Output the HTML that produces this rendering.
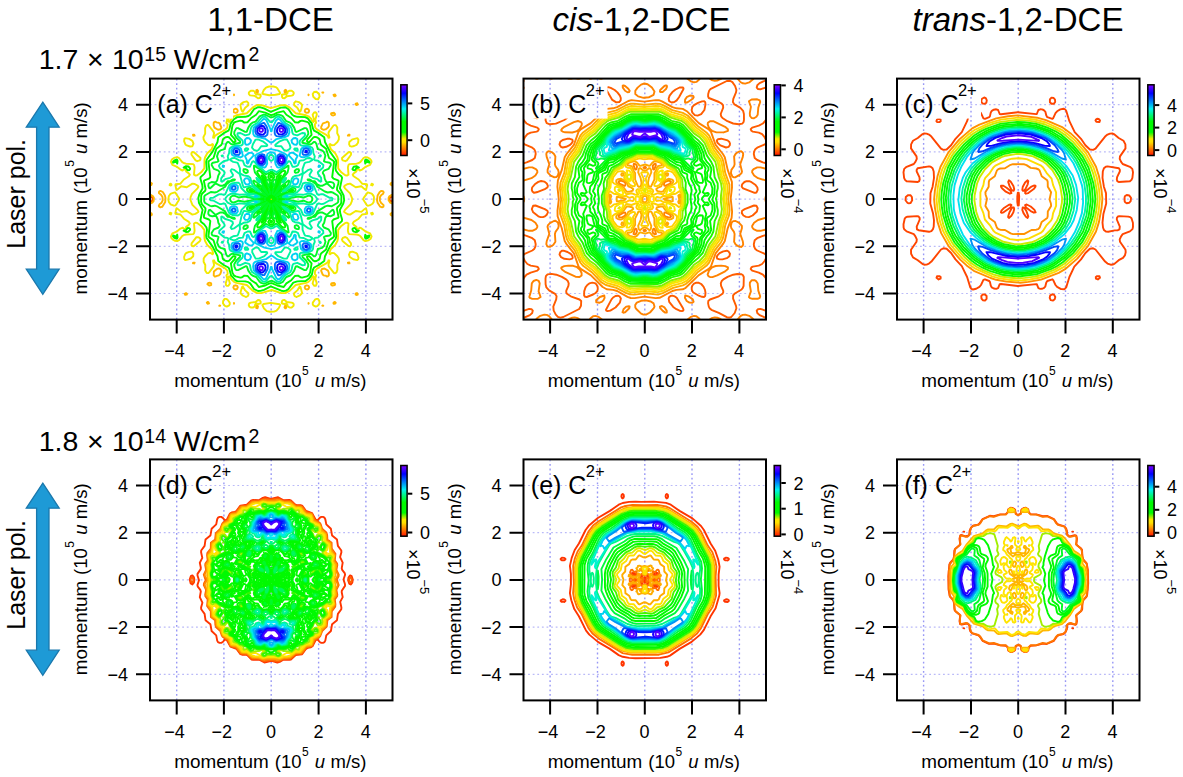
<!DOCTYPE html>
<html><head><meta charset="utf-8"><style>html,body{margin:0;padding:0;background:#fff;overflow:hidden}svg{display:block}</style></head>
<body><svg width="1183" height="777" viewBox="0 0 1183 777" font-family="'Liberation Sans', sans-serif">
<defs><linearGradient id="cbg" x1="0" y1="0" x2="0" y2="1"><stop offset="0.000" stop-color="#8000ff"/><stop offset="0.120" stop-color="#0000ff"/><stop offset="0.340" stop-color="#00f2f0"/><stop offset="0.520" stop-color="#00fa00"/><stop offset="0.670" stop-color="#00fa00"/><stop offset="0.765" stop-color="#ffe800"/><stop offset="0.810" stop-color="#ffe100"/><stop offset="0.890" stop-color="#ff8c00"/><stop offset="1.000" stop-color="#ff1400"/></linearGradient></defs>
<rect width="1183" height="777" fill="#fff"/>

<text x="270.5" y="31" text-anchor="middle" font-size="33">1,1-DCE</text>
<text x="641.5" y="30.5" text-anchor="middle" font-size="33"><tspan font-style="italic">cis</tspan>-1,2-DCE</text>
<text x="1018" y="30.5" text-anchor="middle" font-size="33"><tspan font-style="italic">trans</tspan>-1,2-DCE</text>
<text x="38.63" y="69.40" font-size="28.5">1.7</text><text x="86.92" y="69.40" font-size="28.5">×</text><text x="112.03" y="69.40" font-size="28.5">10</text><text x="144.31" y="61.20" font-size="19.5">15</text><text x="173.77" y="69.40" font-size="28.5">W/cm</text><text x="248.62" y="61.20" font-size="19.5">2</text><text x="38.63" y="450.70" font-size="28.5">1.8</text><text x="86.92" y="450.70" font-size="28.5">×</text><text x="112.03" y="450.70" font-size="28.5">10</text><text x="144.31" y="442.50" font-size="19.5">14</text><text x="173.77" y="450.70" font-size="28.5">W/cm</text><text x="248.62" y="442.50" font-size="19.5">2</text>
<path d="M42.8 102.1 L59.2 127.2 L49.0 127.2 L49.0 269.2 L59.2 269.2 L42.8 294.3 L26.3 269.2 L36.6 269.2 L36.6 127.2 L26.3 127.2Z" fill="#1e9ad6" stroke="#1a78ad" stroke-width="1.3" stroke-linejoin="miter"/><text transform="translate(25.1 248.75) rotate(-90)" font-size="25">Laser pol.</text><path d="M42.8 483.1 L59.2 508.2 L49.0 508.2 L49.0 650.2 L59.2 650.2 L42.8 675.3 L26.3 650.2 L36.6 650.2 L36.6 508.2 L26.3 508.2Z" fill="#1e9ad6" stroke="#1a78ad" stroke-width="1.3" stroke-linejoin="miter"/><text transform="translate(25.1 629.75) rotate(-90)" font-size="25">Laser pol.</text>
<path d="M176.7 78.6V319.6M223.9 78.6V319.6M271.2 78.6V319.6M318.6 78.6V319.6M365.9 78.6V319.6" stroke="#9898f5" stroke-width="1.4" stroke-dasharray="1.8 2.8" fill="none"/><path d="M150.0 293.5H392.5M150.0 246.3H392.5M150.0 199.1H392.5M150.0 151.9H392.5M150.0 104.7H392.5" stroke="#babaf8" stroke-width="1.2" stroke-dasharray="1.8 2.8" fill="none"/><clipPath id="clipa"><rect x="150.0" y="78.6" width="242.5" height="241.0"/></clipPath><g clip-path="url(#clipa)"><g fill="none" stroke-width="1.9" stroke-linejoin="round" stroke-linecap="round"><path d="M152.2 201.1 153.1 198.7 152.3 197.2 150.7 197.0 149.9 198.1 150.0 200.3 150.7 201.2 152.2 201.1M391.9 201.1 392.6 200.1 392.6 198.1 391.8 197.0 391.0 196.8 389.7 197.9 389.4 199.5 390.2 201.0 391.9 201.1" stroke="#ff5500"/><path d="M257.8 92.4 258.0 90.8 257.2 89.8 256.4 90.1 256.1 92.4 257.2 93.0 257.8 92.4M286.4 92.4 286.1 90.1 285.3 89.8 284.5 90.8 284.7 92.4 285.3 93.0 286.4 92.4M220.2 92.4 219.2 92.4 219.6 92.8 220.2 92.4M323.3 92.4 322.3 92.4 322.9 92.8 323.3 92.4M208.9 95.6 209.0 94.8 208.4 94.3 207.1 94.8 206.8 95.6 207.6 96.3 208.9 95.6M234.1 94.8 234.0 94.5 234.0 95.2 234.1 94.8M308.7 94.8 308.5 94.5 308.5 95.2 308.7 94.8M335.7 95.6 334.9 94.4 333.5 94.8 334.1 96.0 334.9 96.3 335.7 95.6M186.9 104.4 186.8 103.6 186.0 103.2 184.8 103.6 185.2 105.0 186.0 105.1 186.9 104.4M357.8 104.4 357.3 103.3 355.7 103.6 355.6 104.4 356.5 105.1 357.8 104.4M237.1 112.4 237.8 110.8 237.2 109.4 235.6 108.7 234.0 109.3 233.3 110.8 234.0 112.4 235.6 112.9 237.1 112.4M308.5 112.4 309.2 110.8 308.5 109.3 306.9 108.7 305.3 109.4 304.7 110.8 305.4 112.4 306.9 112.9 308.5 112.4M211.2 114.8 211.2 113.2 210.0 112.7 208.4 112.8 207.4 114.0 208.4 115.3 211.2 114.8M334.8 114.8 335.1 114.0 334.1 112.8 331.3 113.2 331.0 114.0 331.7 115.1 333.3 115.5 334.8 114.8M220.5 129.2 221.4 127.6 219.8 123.6 218.8 122.8 216.4 122.4 215.6 121.6 214.4 122.0 213.7 122.8 213.6 125.2 214.5 127.6 218.0 129.7 220.5 129.2M325.9 129.2 328.0 127.6 328.9 126.0 328.8 122.8 327.7 121.7 326.9 121.6 326.1 122.4 322.9 123.3 321.2 126.8 321.2 128.4 322.1 129.2 323.7 129.8 325.9 129.2M194.6 135.6 194.3 134.8 193.0 134.8 193.2 135.7 194.6 135.6M349.4 135.6 349.5 134.8 348.5 134.7 347.9 135.6 349.4 135.6M151.3 185.1 151.9 183.5 150.9 182.7 149.1 182.7 148.1 183.5 148.2 184.3 149.1 185.4 151.3 185.1M393.8 185.1 394.4 183.5 393.5 182.7 391.8 182.6 390.6 183.5 390.5 184.3 391.8 185.4 393.8 185.1M162.3 206.7 165.2 202.0 165.5 197.9 164.9 195.5 162.8 192.0 160.4 190.9 159.1 191.5 158.9 193.1 161.2 195.0 162.5 197.1 162.7 200.3 161.6 202.7 159.5 204.3 158.8 205.9 159.1 206.7 160.4 207.3 162.3 206.7M383.4 206.7 383.6 205.1 380.9 202.7 379.8 200.3 380.0 197.1 381.3 195.0 383.0 193.9 383.7 192.3 382.9 191.1 381.3 190.9 379.7 192.0 377.6 195.5 377.0 200.3 377.6 202.7 380.2 206.7 382.1 207.3 383.4 206.7M152.3 202.7 153.6 201.1 153.9 197.9 153.1 196.3 150.7 194.9 149.1 196.3 148.7 200.3 149.9 203.0 150.7 203.3 152.3 202.7M392.8 202.7 393.8 200.3 393.8 197.9 392.8 195.5 391.8 194.9 389.3 196.3 388.6 197.9 388.6 200.3 390.2 202.7 391.8 203.3 392.8 202.7M271.7 199.5 271.7 198.6 270.8 198.7 270.8 199.6 271.7 199.5M150.9 215.5 151.9 214.7 151.5 213.3 149.9 212.6 148.7 213.1 148.2 213.9 148.3 215.0 149.1 215.5 150.9 215.5M393.5 215.5 394.4 214.7 394.3 213.9 393.4 212.8 391.8 212.8 390.5 213.9 390.6 214.7 391.6 215.5 393.5 215.5M194.3 263.4 194.6 262.6 193.1 262.6 193.0 263.4 194.3 263.4M349.5 263.4 349.3 262.5 347.9 262.6 348.2 263.4 349.5 263.4M216.2 276.2 218.9 275.4 220.4 273.8 221.4 270.6 220.4 269.0 218.8 268.4 217.2 268.7 213.9 271.4 213.7 275.4 214.8 276.5 216.2 276.2M328.1 276.2 328.8 275.4 328.9 273.0 328.0 270.6 324.5 268.5 322.0 269.0 321.1 270.6 322.7 274.6 323.7 275.4 326.1 275.8 326.9 276.6 328.1 276.2M211.2 285.0 211.2 283.4 210.0 282.8 208.4 282.9 207.4 284.2 209.2 285.6 211.2 285.0M334.7 285.0 335.1 284.2 334.1 282.9 331.7 283.1 331.0 284.2 331.3 285.0 332.5 285.5 334.7 285.0M237.0 289.0 237.8 287.4 237.2 285.9 235.6 285.3 234.0 285.7 233.3 287.4 234.0 288.9 235.6 289.5 237.0 289.0M308.4 289.0 309.2 287.4 308.5 285.8 306.9 285.3 305.3 285.9 304.7 287.4 305.3 288.8 306.9 289.5 308.4 289.0M186.8 294.6 186.9 293.8 186.0 293.1 184.7 293.8 185.2 294.9 186.8 294.6M357.7 294.6 357.3 293.2 356.5 293.1 355.6 293.8 355.7 294.6 356.5 295.0 357.7 294.6M209.0 303.4 208.4 302.2 207.6 301.9 206.8 302.6 207.6 303.8 209.0 303.4M335.4 303.4 335.7 302.6 334.9 301.9 333.6 302.6 333.5 303.4 334.1 303.9 335.4 303.4M234.1 303.4 234.0 303.0 234.0 303.7 234.1 303.4M308.7 303.4 308.5 303.0 308.5 303.7 308.7 303.4M220.2 305.8 219.6 305.4 219.2 305.8 220.2 305.8M257.5 308.2 258.0 306.5 257.2 305.2 256.4 305.2 256.1 307.4 256.4 308.1 257.5 308.2M285.9 308.2 286.4 305.8 285.3 305.2 284.5 307.4 285.3 308.4 285.9 308.2M323.3 305.8 322.9 305.4 322.3 305.8 323.3 305.8" stroke="#ffb600"/><path d="M271.7 71.7 271.7 73.3 270.8 73.3 270.8 71.7M275.7 94.8 269.2 95.2 263.1 94.0 262.4 93.2 263.8 90.0 266.0 87.6 269.2 86.5 273.3 86.5 275.7 87.1 277.3 88.3 279.9 92.4 280.1 93.2 279.4 94.0 275.7 94.8M259.6 98.1 258.0 98.2 254.8 95.9 250.0 95.4 248.8 94.0 248.9 92.4 250.8 90.7 253.4 90.8 254.8 91.7 255.0 93.2 256.4 94.7 258.0 94.2 260.6 94.8 260.7 96.4 259.6 98.1M284.5 98.2 282.9 98.1 282.1 97.2 281.9 94.8 284.5 94.2 286.1 94.7 287.5 93.2 287.7 91.7 289.3 90.8 291.7 90.7 293.3 91.9 293.8 93.2 293.3 94.8 291.7 95.6 286.9 96.2 284.5 98.2M226.8 99.0 224.4 99.3 223.4 98.0 222.9 95.6 224.4 92.8 226.8 91.6 228.9 92.4 229.8 94.8 229.0 97.2 226.8 99.0M318.1 99.3 315.7 99.0 313.3 96.8 312.7 94.0 314.1 92.0 316.5 91.7 319.0 94.0 319.6 96.4 318.1 99.3M242.8 111.8 242.0 111.2 241.2 109.1 240.4 105.1 241.4 103.6 243.6 102.1 246.8 101.3 248.3 102.8 248.3 105.2 245.2 107.8 242.8 111.8M299.7 111.8 297.3 107.8 294.2 105.2 294.2 102.8 295.7 101.3 298.9 102.1 301.1 103.6 302.1 105.1 301.3 109.1 300.5 111.2 299.7 111.8M285.3 293.1 281.3 293.1 271.7 290.0 261.2 293.1 257.2 293.1 252.6 290.6 246.8 285.0 236.4 282.9 234.0 281.9 231.4 279.4 230.0 276.7 229.2 276.2 228.5 277.0 228.5 278.6 229.9 283.4 228.4 285.7 226.8 285.9 226.0 285.0 225.7 283.4 227.2 278.6 226.4 275.4 227.7 273.8 227.3 270.6 224.9 268.2 216.2 263.4 214.6 261.8 214.0 260.3 213.2 260.5 213.1 261.0 214.1 265.0 213.5 266.6 209.2 272.4 208.4 273.1 206.8 273.1 205.2 270.6 205.3 265.0 203.6 261.7 203.7 258.6 205.1 256.2 208.4 253.1 210.8 253.0 212.4 254.3 213.1 253.8 212.9 252.2 211.6 249.0 207.3 245.0 205.1 241.0 204.5 238.7 204.3 229.9 201.2 225.9 197.2 222.9 195.6 222.6 194.0 223.5 194.6 230.7 194.1 233.1 193.2 234.1 186.0 234.5 183.6 235.2 182.0 236.3 179.0 240.2 177.2 241.1 174.8 240.7 172.6 239.4 171.3 237.9 170.9 236.3 172.4 233.3 177.2 231.3 180.4 228.6 182.8 227.7 183.6 228.7 185.2 228.9 186.3 227.5 186.1 226.7 188.5 225.1 189.8 223.5 188.9 221.9 183.9 218.7 180.4 214.5 175.6 213.9 175.3 213.1 176.4 208.4 178.0 209.1 181.2 211.9 186.8 211.0 192.4 214.6 195.4 213.9 198.0 212.3 198.4 211.5 197.5 209.9 192.4 204.8 190.3 199.5 190.6 197.1 192.0 193.9 197.5 188.3 198.4 186.7 198.0 185.9 194.8 184.0 192.4 183.6 186.8 187.2 181.2 186.3 178.0 189.1 176.4 189.8 175.3 185.1 175.6 184.3 180.4 183.7 183.9 179.5 188.9 176.3 189.8 174.7 188.5 173.1 186.1 171.5 186.3 170.7 185.2 169.3 183.6 169.5 182.8 170.5 181.2 170.0 177.2 166.9 172.4 164.9 170.9 161.9 171.8 159.5 174.0 157.9 177.2 157.1 179.0 158.0 182.0 161.9 183.6 163.0 186.0 163.7 193.2 164.1 194.1 165.1 194.6 167.5 194.0 174.7 195.6 175.6 197.2 175.3 201.2 172.3 204.3 168.3 204.5 159.5 205.1 157.2 207.3 153.2 211.6 149.2 212.9 146.0 213.1 144.4 212.4 143.9 210.8 145.2 208.4 145.1 205.1 142.0 203.7 139.6 203.4 137.2 205.2 133.6 205.1 128.4 206.0 125.8 207.6 124.9 208.4 125.1 213.5 131.6 214.1 133.2 213.1 137.2 213.2 137.7 214.0 137.9 214.6 136.4 216.2 134.8 224.9 130.0 227.3 127.6 227.7 124.4 226.4 122.8 227.2 119.6 225.7 114.8 226.7 112.4 228.4 112.5 229.9 114.8 228.5 119.6 228.5 121.2 229.2 122.0 230.0 121.5 231.4 118.8 234.0 116.3 236.4 115.3 246.8 113.2 252.6 107.6 255.6 105.7 258.0 104.9 262.8 105.5 270.8 108.2 281.3 105.1 285.3 105.1 289.9 107.6 295.7 113.2 306.1 115.3 308.5 116.3 311.1 118.8 312.5 121.5 313.3 122.0 314.0 121.2 314.0 119.6 312.6 114.8 314.1 112.5 315.7 112.3 316.5 113.2 316.8 114.8 315.3 119.6 316.1 122.8 314.8 124.4 315.2 127.6 317.6 130.0 326.3 134.8 327.9 136.4 328.5 137.9 329.3 137.7 329.4 137.2 328.4 133.2 329.0 131.6 333.3 125.8 334.1 125.1 335.7 125.1 337.3 127.6 337.2 133.2 338.9 136.5 338.8 139.6 337.4 142.0 334.1 145.1 331.7 145.2 330.1 143.9 329.4 144.4 329.6 146.0 330.9 149.2 335.2 153.2 337.4 157.2 338.0 159.5 338.2 168.3 341.3 172.3 345.3 175.3 346.9 175.6 348.5 174.7 347.9 167.5 348.4 165.1 349.3 164.1 356.5 163.7 358.9 163.0 360.5 161.9 363.5 158.0 365.3 157.1 367.7 157.5 369.9 158.8 371.2 160.3 371.6 161.9 370.1 164.9 365.3 166.9 362.1 169.6 359.7 170.5 358.9 169.5 357.3 169.3 356.2 170.7 356.4 171.5 354.0 173.1 352.7 174.7 353.6 176.3 358.6 179.5 362.1 183.7 366.9 184.3 367.2 185.1 366.1 189.8 364.5 189.1 361.3 186.3 355.7 187.2 350.1 183.6 347.1 184.3 344.5 185.9 344.1 186.7 345.0 188.3 350.1 193.4 352.2 198.7 351.9 201.1 350.5 204.3 345.0 209.9 344.1 211.5 344.5 212.3 347.7 214.2 350.1 214.6 355.7 211.0 361.3 211.9 364.5 209.1 366.1 208.4 367.2 213.1 366.9 213.9 362.1 214.5 358.6 218.7 353.6 221.9 352.7 223.5 354.0 225.1 356.4 226.7 356.2 227.5 357.3 228.9 358.9 228.7 359.7 227.7 361.3 228.2 365.3 231.3 370.1 233.3 371.6 236.3 370.7 238.7 368.5 240.3 365.3 241.1 363.5 240.2 360.5 236.3 358.9 235.2 356.5 234.5 349.3 234.1 348.4 233.1 347.9 230.7 348.5 223.5 346.9 222.6 345.3 222.9 341.3 225.9 338.2 229.9 338.0 238.7 337.4 241.0 335.2 245.0 330.9 249.0 329.6 252.2 329.4 253.8 330.1 254.3 331.7 253.0 334.1 253.1 337.4 256.2 338.8 258.6 339.1 261.0 337.3 264.6 337.4 269.8 336.5 272.4 334.9 273.3 334.1 273.1 329.0 266.6 328.4 265.0 329.4 261.0 329.3 260.5 328.5 260.3 327.9 261.8 326.3 263.4 317.6 268.2 315.2 270.6 314.8 273.8 316.1 275.4 315.3 278.6 316.8 283.4 315.8 285.8 314.1 285.7 312.6 283.4 314.0 278.6 314.0 277.0 313.3 276.2 312.5 276.7 311.1 279.4 308.5 281.9 306.1 282.9 295.7 285.0 289.9 290.6 285.3 293.1M192.4 146.2 190.0 146.5 186.8 145.4 185.4 144.4 184.1 141.2 184.4 138.8 185.2 138.1 189.2 138.9 192.4 140.9 193.5 143.6 192.4 146.2M354.1 146.0 351.7 146.6 350.1 146.2 349.1 144.4 349.3 142.0 352.5 139.3 357.3 138.1 358.4 139.6 358.0 142.8 356.5 144.9 354.1 146.0M197.2 161.2 195.6 160.4 191.5 154.8 191.4 153.2 192.4 152.0 194.0 152.2 200.5 158.0 200.4 159.5 199.7 160.3 197.2 161.2M345.3 161.2 342.8 160.3 342.1 159.5 342.0 158.0 348.5 152.2 350.1 152.0 351.1 153.2 351.0 154.8 346.9 160.4 345.3 161.2M170.8 185.5 169.6 185.1 170.0 183.9 170.8 183.7 171.4 184.3 171.4 185.1 170.8 185.5M372.5 185.4 371.1 185.1 371.7 183.7 373.0 184.3 372.5 185.4M271.7 189.1 271.7 186.7 270.8 186.7 270.8 189.5 271.7 189.1M175.6 205.3 174.0 205.7 170.5 204.3 168.8 201.9 168.3 199.5 168.8 196.3 170.0 194.4 171.6 193.3 174.8 192.4 175.6 192.9 179.3 198.7 178.8 200.3 175.6 205.3M370.1 205.2 367.7 205.8 366.9 205.3 363.2 199.5 363.7 197.9 367.7 192.4 371.7 193.7 373.3 195.5 374.0 197.1 373.7 201.9 372.5 203.8 370.1 205.2M269.3 194.7 269.2 193.9 269.3 194.7M273.3 194.7 273.3 193.9 273.3 194.7M274.9 202.7 273.4 201.1 274.5 200.3 274.1 200.1 273.3 200.9 272.4 199.5 273.3 197.3 274.1 198.1 274.5 197.9 273.4 197.1 274.9 195.4 273.3 196.9 272.5 195.8 272.3 196.3 273.1 197.1 271.7 197.9 269.4 197.1 270.2 196.3 270.0 195.8 269.2 196.9 267.6 195.5 269.1 197.1 268.0 197.9 268.4 198.1 269.2 197.3 270.1 198.7 269.2 200.9 268.4 200.1 268.0 200.3 269.1 201.1 267.6 202.8 269.2 201.3 270.0 202.4 270.2 201.9 269.4 201.1 270.8 200.3 273.1 201.1 272.3 201.9 272.5 202.4 273.3 201.3 274.9 202.7M264.8 196.3 264.1 196.3 264.8 196.3M278.4 196.3 277.7 196.3 278.4 196.3M266.9 197.1 265.8 197.1 266.9 197.1M276.7 197.1 275.6 197.1 276.7 197.1M266.9 201.1 265.8 201.1 266.9 201.1M276.7 201.1 275.6 201.1 276.7 201.1M264.8 201.9 264.1 201.9 264.8 201.9M278.4 201.9 277.7 201.9 278.4 201.9M269.3 204.3 269.2 203.5 269.3 204.3M273.3 204.3 273.3 203.5 273.3 204.3M271.7 210.7 271.7 208.7 270.8 208.7 270.8 211.5 271.7 211.5 271.7 210.7M170.8 214.5 169.5 213.9 170.0 212.8 171.4 213.1 170.8 214.5M372.5 214.3 371.7 214.5 371.1 213.1 372.5 212.8 373.0 213.9 372.5 214.3M194.0 246.0 193.2 246.3 191.9 245.8 191.4 245.0 191.6 243.4 196.4 237.2 198.0 237.1 199.6 237.8 200.6 239.4 200.0 241.0 194.0 246.0M350.1 246.2 348.5 246.0 342.5 241.0 341.9 239.4 342.8 237.9 345.3 237.0 346.9 237.8 351.0 243.4 351.1 245.0 350.1 246.2M187.6 259.6 185.2 260.1 184.4 259.4 184.1 257.0 185.2 254.1 186.3 253.0 189.2 251.9 190.8 251.6 192.4 252.0 193.4 253.8 193.2 256.2 190.8 258.5 187.6 259.6M357.3 260.1 353.3 259.3 349.8 257.0 349.0 254.6 350.1 252.0 352.5 251.7 355.7 252.8 357.1 253.8 358.5 257.8 358.1 259.4 357.3 260.1M246.0 297.0 242.5 295.4 240.4 293.0 242.0 287.0 242.8 286.4 245.2 290.4 248.4 293.3 248.5 294.6 247.8 296.2 246.0 297.0M296.5 297.0 294.7 296.2 294.0 294.6 294.1 293.3 297.3 290.4 299.7 286.4 300.5 287.0 302.1 293.0 300.0 295.4 296.5 297.0M226.8 306.6 224.8 305.8 223.0 303.4 223.1 301.0 224.4 298.9 226.0 298.9 227.6 299.7 229.7 302.6 229.8 304.2 229.2 305.4 226.8 306.6M315.7 306.6 313.3 305.4 312.7 304.2 312.8 302.6 314.9 299.7 316.5 298.9 318.1 298.9 319.4 301.0 319.5 303.4 317.7 305.8 315.7 306.6M253.2 307.4 250.8 307.5 249.4 306.6 248.7 305.0 249.2 303.4 250.8 302.6 255.6 302.0 258.0 300.0 259.7 300.2 260.7 301.8 260.6 303.4 258.0 304.0 256.4 303.5 255.0 305.0 254.8 306.5 253.2 307.4M291.7 307.5 290.1 307.6 287.8 306.6 287.5 305.0 286.1 303.5 284.5 304.0 282.1 303.5 281.7 302.6 282.1 301.0 282.9 300.1 284.5 300.0 286.9 302.0 291.7 302.6 293.3 303.4 293.7 304.2 293.6 305.8 291.7 307.5M274.1 311.6 270.0 311.8 266.8 311.1 263.8 308.2 262.4 305.0 263.6 304.0 270.8 302.9 279.4 304.2 280.1 305.0 279.9 305.8 278.7 308.2 276.5 310.6 274.1 311.6M270.8 326.5 270.8 324.9 271.7 324.9 271.7 326.5" stroke="#f2e900"/><path d="M286.1 290.6 283.7 291.1 281.3 290.7 270.8 286.3 264.0 289.8 260.4 290.9 258.0 291.0 254.0 289.0 250.2 283.4 248.4 282.2 245.2 281.4 237.2 281.1 235.3 280.2 231.1 275.4 229.3 269.0 228.4 267.5 223.7 265.0 218.3 261.0 217.5 256.2 212.6 246.6 206.5 237.9 206.2 235.5 207.0 229.9 206.5 227.5 204.1 224.3 201.2 222.0 200.4 220.3 202.6 209.9 198.9 202.7 198.3 197.9 199.2 194.7 202.6 188.3 202.3 185.1 200.4 178.7 200.6 177.1 204.4 173.6 206.8 169.8 206.2 161.9 206.8 159.5 212.6 151.6 217.5 142.0 218.3 137.2 223.7 133.2 228.4 130.7 229.6 128.4 230.6 123.6 234.0 119.2 237.2 117.1 245.2 116.8 248.4 116.0 250.2 114.8 254.0 109.2 258.0 107.2 260.4 107.3 264.0 108.4 270.8 111.9 280.8 107.6 285.3 107.3 288.5 109.2 292.3 114.8 294.1 116.0 297.3 116.8 305.3 117.1 307.7 118.4 311.7 123.3 312.9 128.4 314.1 130.7 318.8 133.2 324.2 137.2 325.0 142.0 329.9 151.6 336.0 160.3 336.3 162.7 335.5 168.3 336.0 170.7 338.4 173.9 341.3 176.2 342.1 177.9 339.9 188.3 343.6 195.5 344.2 200.3 343.3 203.5 339.9 209.9 340.2 213.1 342.1 219.5 341.9 221.1 338.1 224.6 335.7 228.4 336.3 236.3 335.7 238.7 329.9 246.6 325.0 256.2 324.2 261.0 318.8 265.0 314.1 267.5 312.9 269.8 311.9 274.6 309.3 278.2 305.6 281.0 297.3 281.4 293.3 282.6 288.5 289.0 286.1 290.6M177.2 163.6 176.4 161.5 173.2 162.7 173.0 161.9 174.4 160.3 176.4 159.6 177.2 159.9 177.6 161.1 177.2 163.6M365.3 163.6 364.9 161.1 365.3 159.9 366.1 159.6 368.1 160.3 369.5 161.9 369.3 162.7 366.1 161.5 365.3 163.6M189.2 170.1 187.6 170.2 186.0 168.0 183.6 167.5 186.0 166.2 188.4 166.5 190.1 168.3 190.1 169.1 189.2 170.1M354.9 170.2 353.3 170.1 352.4 169.1 353.7 166.7 356.5 166.2 358.9 167.5 356.5 168.0 354.9 170.2M281.0 222.7 277.3 211.5 272.8 202.7 272.8 201.9 273.3 201.5 281.3 209.6 281.6 209.1 280.4 207.5 273.6 201.1 274.9 200.6 280.5 203.5 282.5 203.5 279.7 201.9 275.7 200.7 274.9 199.9 274.1 199.8 273.3 200.6 272.7 198.7 273.3 197.6 274.1 198.4 274.9 198.3 275.7 197.5 279.7 196.3 282.5 194.7 280.5 194.7 274.9 197.6 273.6 197.1 280.4 190.7 281.6 189.1 281.3 188.6 273.3 196.7 272.8 196.3 272.8 195.5 277.3 186.7 281.0 175.5 279.7 175.9 278.2 177.9 277.7 182.7 275.7 186.2 272.9 194.7 272.1 195.5 272.0 196.3 272.8 197.1 270.8 197.6 269.7 197.1 270.5 196.3 270.4 195.5 269.6 194.7 266.8 186.2 264.8 182.7 264.3 177.9 262.8 175.9 261.5 175.5 265.2 186.7 269.7 195.5 269.7 196.3 269.2 196.7 261.2 188.6 260.9 189.1 262.1 190.7 268.9 197.1 267.6 197.6 262.0 194.7 260.0 194.7 262.8 196.3 266.8 197.5 267.6 198.3 268.4 198.4 269.2 197.6 269.8 198.7 269.2 200.6 268.4 199.8 267.6 199.9 266.8 200.7 262.8 201.9 260.0 203.5 262.0 203.5 267.6 200.6 268.9 201.1 262.1 207.5 260.9 209.1 261.2 209.6 269.2 201.5 269.7 201.9 269.7 202.7 265.2 211.5 261.5 222.7 262.8 222.3 264.3 220.3 264.8 215.5 266.8 212.0 269.6 203.5 270.4 202.7 270.5 201.9 269.7 201.1 270.8 200.6 272.8 201.1 272.0 201.9 272.1 202.7 272.9 203.5 275.7 212.0 277.7 215.5 278.2 220.3 279.7 222.3 281.0 222.7M272.1 177.1 271.8 175.5 270.7 175.5 270.2 176.3 270.8 177.7 272.1 177.1M271.7 193.9 272.2 186.7 271.7 184.7 270.8 184.7 270.2 187.5 270.8 194.2 271.7 193.9M266.8 199.5 266.8 198.7 266.0 198.6 259.9 198.7 259.9 199.5 261.2 199.8 266.8 199.5M282.6 199.5 282.6 198.7 281.3 198.4 275.7 198.7 275.7 199.5 276.5 199.6 282.6 199.5M271.8 213.1 272.3 210.7 271.7 204.3 270.8 204.0 270.3 211.5 270.8 213.5 271.8 213.1M271.8 222.7 272.1 221.1 270.8 220.5 270.2 221.9 270.8 222.8 271.8 222.7M188.4 231.7 186.0 232.0 183.6 230.7 186.0 230.2 187.6 228.0 189.2 228.1 190.1 229.1 190.1 229.9 188.4 231.7M357.3 231.8 355.7 232.1 354.1 231.7 352.9 230.7 352.4 229.1 353.3 228.1 354.9 228.0 356.5 230.2 358.9 230.6 357.3 231.8M177.2 238.3 176.4 238.6 174.4 237.9 173.0 236.3 173.2 235.5 176.4 236.7 177.2 234.6 177.6 237.1 177.2 238.3M367.7 238.1 366.1 238.6 365.3 238.3 364.9 237.1 365.3 234.6 366.1 236.7 369.3 235.5 369.0 237.1 367.7 238.1" stroke="#00fa00"/><path d="M283.7 287.0 277.3 285.5 271.7 283.1 269.6 283.4 265.2 285.5 258.8 287.0 256.1 283.4 251.2 280.2 247.6 276.0 244.4 275.6 242.0 277.3 240.4 277.6 235.6 276.4 233.9 275.4 232.4 272.6 230.9 263.4 234.8 259.0 235.6 257.0 234.8 256.2 233.2 256.1 229.2 260.7 227.6 261.3 226.0 261.0 223.6 259.7 222.8 258.6 222.0 254.6 221.2 253.2 216.4 249.4 213.5 240.2 209.2 237.4 208.4 236.3 210.3 221.1 209.0 219.5 204.4 217.9 203.9 217.1 204.1 214.7 205.4 210.7 205.5 208.3 202.0 204.4 201.1 201.9 201.2 195.5 202.0 193.8 205.2 190.7 205.6 189.1 203.9 181.1 204.4 180.3 209.0 178.7 210.3 177.1 208.4 161.9 209.2 160.8 213.5 158.0 216.4 148.8 221.2 145.0 222.0 143.6 222.8 139.6 223.6 138.5 226.0 137.2 227.6 136.9 229.2 137.5 233.2 142.1 234.8 142.0 235.6 141.2 234.8 139.2 230.9 134.8 232.4 125.6 234.0 122.7 235.6 121.8 240.4 120.6 242.0 120.9 244.4 122.6 247.6 122.2 251.2 118.0 256.1 114.8 258.8 111.2 265.2 112.7 270.8 115.1 272.9 114.8 277.3 112.7 283.7 111.2 286.4 114.8 291.3 118.0 294.9 122.2 298.1 122.6 300.5 120.9 302.1 120.6 306.9 121.8 308.6 122.8 310.1 125.6 311.6 134.8 307.7 139.2 306.9 141.2 307.7 142.0 309.3 142.1 313.3 137.5 314.9 136.9 316.5 137.2 318.9 138.5 319.7 139.6 320.5 143.6 321.3 145.0 326.1 148.8 329.0 158.0 333.3 160.8 334.1 161.9 332.2 177.1 333.5 178.7 338.1 180.3 338.6 181.1 338.4 183.5 337.1 187.5 337.0 189.9 340.5 193.8 341.4 196.3 341.3 202.7 340.5 204.4 337.3 207.5 336.9 209.1 338.6 217.1 338.1 217.9 333.5 219.5 332.2 221.1 334.1 236.3 333.3 237.4 329.0 240.2 326.1 249.4 321.3 253.2 320.5 254.6 319.7 258.6 318.9 259.7 316.5 261.0 314.9 261.3 313.3 260.7 309.3 256.1 307.7 256.2 306.9 257.0 307.7 259.0 311.6 263.4 310.1 272.6 308.5 275.5 306.9 276.4 302.1 277.6 300.5 277.3 298.1 275.6 294.9 276.0 291.3 280.2 286.4 283.4 283.7 287.0M284.7 227.5 285.3 226.7 285.0 225.1 281.3 219.2 278.4 212.3 274.1 204.3 274.9 203.6 281.3 211.0 285.3 213.5 285.3 212.3 282.8 209.1 275.8 202.7 276.5 202.1 283.7 205.2 286.1 205.5 286.4 205.1 280.5 201.7 275.6 200.3 282.9 200.0 284.4 199.5 284.4 198.7 282.1 198.1 275.6 197.9 280.5 196.5 286.4 193.1 286.1 192.7 283.7 193.0 276.5 196.1 275.8 195.5 282.8 189.1 285.3 185.9 285.3 184.7 281.3 187.2 274.9 194.6 274.1 193.9 278.4 185.9 281.3 179.0 285.0 173.1 285.3 171.5 284.5 170.6 282.1 171.3 276.6 177.1 276.6 181.9 272.5 194.8 272.0 193.1 272.8 185.9 271.7 182.6 270.8 182.6 269.7 186.7 270.5 193.1 270.0 194.8 265.9 181.9 265.9 177.1 260.7 171.5 258.8 170.6 257.8 170.7 257.2 171.5 257.5 173.1 261.2 179.0 264.1 185.9 268.4 193.9 267.6 194.6 261.2 187.2 257.2 184.7 257.2 185.9 259.7 189.1 266.7 195.5 266.0 196.1 258.8 193.0 256.4 192.7 256.1 193.1 262.0 196.5 266.9 197.9 260.4 198.1 258.1 198.7 258.1 199.5 259.6 200.0 266.9 200.3 262.0 201.7 256.1 205.1 256.4 205.5 258.8 205.2 266.0 202.1 266.7 202.7 259.7 209.1 257.2 212.3 257.2 213.5 261.2 211.0 267.6 203.6 268.4 204.3 264.1 212.3 261.2 219.2 257.5 225.1 257.2 226.7 258.0 227.6 260.4 226.9 265.9 221.1 265.9 216.3 270.0 203.4 270.5 205.1 269.7 212.3 270.8 215.6 271.7 215.6 272.8 211.5 272.0 205.1 272.5 203.4 276.6 216.3 276.6 221.1 281.8 226.7 283.7 227.6 284.7 227.5M271.8 180.3 273.8 177.9 274.4 176.3 272.8 173.9 270.8 173.3 268.9 174.7 268.2 177.1 270.8 180.8 271.8 180.3M253.9 191.5 250.8 189.4 249.2 189.9 249.4 190.7 250.6 191.5 253.2 191.9 253.9 191.5M291.9 191.5 293.3 190.2 292.5 189.3 290.9 189.8 288.6 191.5 289.3 191.9 291.9 191.5M255.0 192.3 255.0 192.3M287.7 192.3 287.7 192.3M268.4 195.6 267.8 194.7 268.4 194.0 268.9 195.5 268.4 195.6M274.1 195.6 273.6 195.5 274.1 194.0 274.7 194.7 274.1 195.6M267.6 196.7 266.2 196.3 266.8 195.7 267.6 196.7M269.2 196.5 269.2 195.6 269.2 196.5M272.5 197.2 270.0 197.1 270.8 196.0 271.7 196.0 272.5 197.2M273.3 196.5 273.3 195.6 273.3 196.5M275.7 196.6 274.8 196.3 275.7 195.7 276.3 196.3 275.7 196.6M268.4 197.3 267.8 197.1 268.4 196.9 268.4 197.3M274.1 197.3 274.1 196.9 274.7 197.1 274.1 197.3M269.2 200.4 268.2 199.5 268.2 198.7 269.2 197.8 269.2 200.4M273.3 200.4 273.3 197.8 274.3 198.7 274.3 199.5 273.3 200.4M268.4 201.3 267.8 201.1 268.4 200.9 268.4 201.3M271.7 202.2 270.8 202.2 270.0 201.1 272.5 201.0 271.7 202.2M274.1 201.3 274.1 200.9 274.7 201.1 274.1 201.3M267.6 202.0 266.8 202.5 266.2 201.9 267.6 201.5 267.6 202.0M269.2 202.6 269.2 201.7 269.2 202.6M273.3 202.6 273.3 201.7 273.3 202.6M275.7 202.5 274.9 201.5 276.3 201.9 275.7 202.5M268.4 204.2 267.8 203.5 268.9 202.7 268.4 204.2M274.1 204.2 273.6 202.7 274.7 203.5 274.1 204.2M255.0 205.9 255.0 205.9M287.7 205.9 287.7 205.9M251.8 208.3 253.9 206.7 253.2 206.3 250.6 206.7 249.4 207.5 249.2 208.3 250.0 208.9 251.8 208.3M293.3 208.3 293.1 207.5 291.9 206.7 289.3 206.3 288.6 206.7 291.7 208.8 293.3 208.3M272.8 224.3 274.1 222.7 274.3 221.1 271.7 217.4 270.8 217.4 268.1 221.9 270.0 224.6 271.7 224.9 272.8 224.3" stroke="#00fa00"/><path d="M279.7 283.5 277.3 283.5 271.7 280.7 269.2 281.3 265.2 283.5 263.6 283.6 261.2 282.9 259.6 281.8 256.2 277.0 252.4 275.5 250.8 274.3 248.3 270.6 246.9 266.6 246.0 266.2 238.0 270.1 236.4 270.1 235.6 269.3 234.4 266.6 234.2 264.2 236.4 260.5 240.0 257.0 240.2 255.4 232.4 253.7 230.8 254.3 228.7 256.2 227.6 256.3 226.2 254.6 224.7 249.0 220.4 247.8 218.8 246.5 217.1 242.6 218.5 237.1 217.2 236.3 212.9 235.5 211.9 234.7 211.6 233.1 214.0 229.3 218.5 227.5 219.6 226.0 219.7 225.1 218.3 222.7 217.8 219.5 216.4 216.5 215.6 215.7 212.4 216.3 209.4 215.5 208.3 213.9 208.4 211.8 209.2 210.0 210.0 209.8 215.6 214.9 220.4 212.4 222.8 212.5 225.3 213.9 227.6 216.9 230.8 217.1 231.2 217.9 233.1 218.7 234.9 218.7 234.5 217.9 230.0 216.8 226.5 213.9 225.2 211.4 217.7 206.7 214.8 205.7 211.6 206.2 210.0 205.8 204.8 202.7 204.2 201.1 204.3 196.3 205.2 195.2 210.8 192.0 214.8 192.5 217.2 191.8 225.2 186.8 226.5 184.3 230.0 181.4 234.5 180.3 234.9 179.5 233.1 179.5 231.2 180.3 230.8 181.1 227.6 181.3 225.3 184.3 222.8 185.7 220.4 185.8 215.6 183.3 210.8 187.8 210.0 188.4 209.2 188.2 208.3 185.9 208.6 183.5 211.6 182.0 215.6 182.5 217.2 180.4 218.3 175.5 219.7 173.1 219.6 172.2 218.5 170.7 214.0 168.9 211.6 165.1 211.9 163.5 212.9 162.7 217.2 161.9 218.5 161.1 217.0 156.4 218.3 152.4 220.4 150.4 224.7 149.2 226.2 143.6 227.6 141.9 228.7 142.0 230.8 143.9 232.4 144.5 240.2 142.8 240.0 141.2 236.4 137.7 234.2 134.0 234.4 131.6 236.4 128.1 238.0 128.1 245.2 131.9 246.8 131.7 248.3 127.6 250.8 123.9 252.4 122.7 255.6 121.6 259.6 116.4 263.6 114.6 266.0 115.0 270.8 117.5 273.3 116.9 277.3 114.7 278.9 114.6 281.3 115.3 282.9 116.4 286.3 121.2 290.1 122.7 291.7 123.9 294.2 127.6 295.6 131.6 296.5 132.0 304.5 128.1 306.1 128.1 306.9 128.9 308.1 131.6 308.3 134.0 306.1 137.7 302.5 141.2 302.3 142.8 310.1 144.5 311.7 143.9 313.8 142.0 314.9 141.9 316.3 143.6 317.8 149.2 322.1 150.4 323.7 151.7 325.4 155.6 324.0 161.1 325.3 161.9 329.6 162.7 330.6 163.5 330.9 165.1 328.5 168.9 324.0 170.7 322.9 172.2 322.8 173.1 324.2 175.5 324.7 178.7 326.1 181.7 326.9 182.5 330.1 181.9 333.1 182.7 334.2 184.3 334.1 186.4 333.3 188.2 332.5 188.4 326.9 183.3 322.1 185.8 319.7 185.7 317.2 184.3 314.9 181.3 311.7 181.1 311.3 180.3 309.4 179.5 307.6 179.5 308.0 180.3 312.5 181.4 316.0 184.3 317.3 186.8 324.8 191.5 327.7 192.5 330.9 192.0 332.5 192.4 337.7 195.5 338.3 197.1 338.2 201.9 337.3 203.0 331.7 206.2 327.7 205.7 325.3 206.4 317.3 211.4 316.0 213.9 312.5 216.8 308.0 217.9 307.6 218.7 309.4 218.7 311.3 217.9 311.7 217.1 314.9 216.9 317.2 213.9 319.7 212.5 322.1 212.4 326.9 214.9 331.7 210.4 332.5 209.8 333.3 210.0 334.2 212.3 333.9 214.7 330.9 216.2 326.9 215.7 325.3 217.8 324.2 222.7 322.8 225.1 322.9 226.0 324.0 227.5 328.5 229.3 330.9 233.1 330.6 234.7 329.6 235.5 325.3 236.3 324.0 237.1 325.5 241.8 324.2 245.8 322.1 247.8 317.8 249.0 316.3 254.6 314.9 256.3 313.8 256.2 311.7 254.3 310.1 253.7 302.3 255.4 302.5 257.0 306.1 260.5 308.3 264.2 308.1 266.6 306.1 270.1 304.5 270.1 297.3 266.3 295.7 266.5 294.2 270.6 291.7 274.3 290.1 275.5 286.3 277.0 282.9 281.8 279.7 283.5M288.6 232.3 287.6 225.9 282.1 218.7 279.3 212.3 274.6 204.3 276.5 205.9 281.3 212.2 288.5 217.8 289.3 217.2 289.3 216.3 287.6 213.1 278.1 204.3 278.9 203.7 285.7 206.7 292.5 210.7 295.0 209.9 295.5 209.1 295.4 207.5 293.3 205.8 287.7 204.5 279.9 201.1 287.7 199.7 298.1 201.7 303.7 200.7 307.7 202.4 309.3 202.5 311.1 201.9 312.2 200.3 312.4 198.7 311.8 197.1 310.1 195.8 308.5 195.7 303.7 197.5 298.1 196.5 287.7 198.5 279.9 197.1 287.7 193.7 293.3 192.4 295.4 190.7 295.5 189.1 295.0 188.3 292.5 187.5 285.7 191.5 278.9 194.5 278.1 193.9 287.6 185.1 289.3 181.9 289.3 181.0 288.5 180.4 281.3 186.0 276.5 192.3 274.6 193.9 279.3 185.9 282.1 179.5 287.6 172.3 288.5 168.5 288.5 165.7 287.7 165.7 285.6 167.5 281.4 169.9 276.5 174.5 275.7 174.4 272.5 172.0 270.8 171.7 266.0 174.5 261.1 169.9 256.9 167.5 254.8 165.7 254.0 165.7 254.0 168.5 254.9 172.3 260.4 179.5 263.2 185.9 267.9 193.9 266.0 192.3 261.2 186.0 254.0 180.4 253.2 181.0 253.2 181.9 254.9 185.1 264.4 193.9 263.6 194.5 256.8 191.5 250.0 187.5 247.5 188.3 247.0 189.1 247.1 190.7 249.2 192.4 254.8 193.7 262.6 197.1 254.8 198.5 244.4 196.5 238.8 197.5 234.8 195.8 233.2 195.7 231.4 196.3 230.3 197.9 230.1 199.5 230.7 201.1 232.4 202.4 234.0 202.5 238.8 200.7 244.4 201.7 254.8 199.7 262.6 201.1 254.8 204.5 249.2 205.8 247.1 207.5 247.0 209.1 247.5 209.9 250.0 210.7 256.8 206.7 263.6 203.7 264.4 204.3 254.9 213.1 253.2 216.3 253.2 217.2 254.0 217.8 261.2 212.2 266.0 205.9 267.9 204.3 263.2 212.3 260.4 218.7 254.9 225.9 254.0 229.7 254.0 232.5 254.8 232.5 256.9 230.7 261.1 228.3 266.0 223.7 270.8 226.5 272.5 226.2 275.7 223.8 276.5 223.7 282.1 228.7 285.6 230.7 287.7 232.5 288.6 232.3M247.7 172.3 247.8 170.7 247.1 169.9 245.2 169.1 243.6 169.3 243.4 170.7 244.4 172.4 246.0 173.0 247.7 172.3M298.1 172.3 299.1 170.7 298.6 169.1 296.5 169.3 294.7 170.7 294.8 172.3 295.7 172.9 298.1 172.3M268.4 186.6 266.7 181.9 266.8 180.4 267.6 179.5 269.0 180.3 269.7 181.9 269.2 185.1 268.4 186.6M274.1 186.6 273.3 185.1 272.8 181.9 273.5 180.3 274.9 179.5 275.7 180.4 275.8 181.9 274.1 186.6M269.2 190.7 269.2 188.8 269.2 190.7M273.3 190.7 273.3 188.8 273.3 190.7M270.0 194.0 270.0 191.5 270.0 194.0M272.5 194.0 272.5 191.5 272.5 194.0M266.0 195.7 263.8 194.7 264.4 193.9 266.0 195.7M268.4 194.9 268.4 194.6 268.4 194.9M274.1 194.9 274.1 194.6 274.1 194.9M277.3 195.5 276.3 195.5 278.1 193.9 278.7 194.7 277.3 195.5M266.8 196.4 266.8 196.4M275.7 196.4 275.7 196.4M265.2 197.9 264.8 197.9 265.2 197.9M277.3 197.9 277.7 197.9 277.3 197.9M265.2 200.3 264.8 200.3 265.2 200.3M277.3 200.3 277.7 200.3 277.3 200.3M266.8 202.0 266.8 202.0M275.7 202.0 275.7 202.0M265.2 203.6 264.4 204.3 263.8 203.5 266.0 202.5 265.2 203.6M278.1 204.3 276.3 202.7 278.7 203.5 278.1 204.3M268.4 203.6 268.4 203.3 268.4 203.6M274.1 203.6 274.1 203.3 274.1 203.6M270.0 206.7 270.0 204.2 270.0 206.7M272.5 206.7 272.5 204.2 272.5 206.7M269.2 209.4 269.2 207.5 269.2 209.4M273.3 209.4 273.3 207.5 273.3 209.4M267.6 218.7 266.8 217.8 266.7 216.3 268.4 211.6 269.2 213.1 269.7 216.3 269.0 217.9 267.6 218.7M274.9 218.7 273.5 217.9 272.8 216.3 273.3 213.1 274.1 211.6 275.8 216.3 275.7 217.8 274.9 218.7M245.5 229.1 247.8 227.5 247.7 225.9 246.8 225.3 244.4 225.8 243.4 227.5 243.6 228.9 245.5 229.1M298.6 229.1 299.1 227.5 298.1 225.9 296.5 225.2 294.8 225.9 294.7 227.5 295.4 228.3 297.3 229.1 298.6 229.1" stroke="#00f928"/><path d="M321.3 181.4 320.5 181.7 317.3 179.2 312.5 177.8 309.9 176.3 309.5 174.7 311.9 170.7 310.9 169.2 308.5 169.8 302.9 173.9 302.5 169.1 304.5 163.5 305.3 162.6 309.3 161.9 312.1 160.3 312.3 159.5 311.6 158.8 309.6 158.0 306.9 158.2 303.7 160.2 299.7 160.6 298.0 165.1 296.5 166.2 294.1 166.8 292.5 166.7 290.3 161.9 289.3 161.2 288.5 161.3 284.5 166.4 276.5 172.2 271.7 169.6 269.2 170.3 266.8 172.0 265.2 171.9 262.3 169.1 258.0 166.4 254.8 162.1 253.2 161.2 252.2 161.9 250.0 166.7 246.8 166.5 244.5 165.1 242.8 160.6 238.8 160.2 234.8 158.0 232.4 158.1 230.2 159.5 230.4 160.3 233.2 161.9 237.2 162.6 238.0 163.5 239.9 168.3 240.0 173.1 239.6 173.9 234.0 169.8 231.6 169.2 230.6 170.7 233.0 174.7 232.6 176.3 230.0 177.8 225.2 179.2 222.0 181.7 221.1 181.1 221.2 178.4 224.4 173.9 224.7 172.3 223.4 170.7 220.1 168.3 218.9 165.9 219.8 164.3 223.6 161.2 227.5 160.3 228.4 159.5 227.7 156.4 229.1 153.2 229.5 149.2 230.4 147.6 235.6 145.4 241.2 145.6 242.7 144.4 242.9 142.0 242.4 140.4 238.0 136.2 237.4 134.8 237.7 133.2 240.4 133.0 245.2 135.4 249.2 134.3 250.0 133.0 250.9 128.4 252.2 126.0 257.2 123.0 261.3 118.0 262.8 116.8 264.4 116.5 266.0 117.1 270.0 121.9 271.7 122.4 275.7 117.7 277.3 116.7 278.9 116.6 281.2 118.0 285.3 123.0 290.3 126.0 291.6 128.4 292.5 133.0 293.3 134.3 297.3 135.4 302.1 133.0 304.8 133.2 305.1 134.8 304.5 136.2 300.1 140.4 299.6 142.0 299.8 144.4 301.3 145.6 306.9 145.4 312.1 147.6 313.0 149.2 313.4 153.2 314.8 156.4 314.1 159.5 315.0 160.3 318.1 160.7 323.4 165.1 323.1 167.5 317.8 172.3 318.1 173.9 321.1 177.9 321.3 181.4M256.8 150.8 258.5 150.0 261.2 146.2 266.8 146.0 267.3 145.2 266.9 144.4 262.8 141.3 258.0 139.4 255.6 139.6 252.8 144.4 252.0 147.6 254.0 150.0 256.8 150.8M286.6 150.8 289.5 149.2 290.5 147.6 289.7 144.4 286.9 139.5 284.5 139.4 279.7 141.3 275.6 144.4 275.2 145.2 275.5 146.0 281.3 146.2 284.0 150.0 286.6 150.8M246.5 150.8 248.3 149.2 247.9 148.4 246.0 148.2 244.8 149.2 245.1 150.8 246.5 150.8M297.4 150.8 297.8 150.0 297.3 148.5 294.6 148.4 294.2 149.2 294.8 150.0 296.5 150.9 297.4 150.8M272.5 160.3 273.6 158.8 273.6 156.4 271.7 154.8 270.0 155.0 268.7 157.2 269.2 159.5 270.8 160.9 272.5 160.3M222.8 156.4 222.0 156.4 221.6 155.6 222.8 155.4 222.8 156.4M320.5 156.4 319.5 156.4 319.5 155.6 320.5 155.2 320.9 155.6 320.5 156.4M246.0 186.9 244.4 187.3 243.6 187.0 243.0 185.9 239.7 173.9 240.4 173.6 243.6 175.4 248.4 176.3 250.3 177.9 252.1 184.3 253.2 185.9 252.4 186.6 250.0 186.0 246.0 186.9M298.9 187.0 298.1 187.3 292.5 186.0 290.1 186.6 289.3 185.9 290.4 184.3 291.8 178.7 292.9 177.1 294.9 176.0 298.9 175.4 302.1 173.6 302.8 173.9 301.0 181.9 298.9 187.0M259.6 182.6 257.2 180.3 256.4 177.9 259.0 179.5 260.1 181.9 259.6 182.6M283.7 182.1 282.9 182.6 282.4 181.9 282.9 180.5 284.5 178.6 286.1 177.9 285.8 179.5 283.7 182.1M238.0 215.5 232.4 215.0 230.0 213.8 228.8 212.3 225.2 203.8 223.6 203.4 221.2 204.1 219.6 204.0 213.2 200.5 210.8 200.4 209.8 199.5 210.5 197.9 213.2 197.7 218.8 194.4 221.2 194.1 223.6 194.8 225.2 194.4 229.3 185.1 231.6 183.5 236.4 182.6 238.1 182.7 239.6 183.5 241.5 188.3 246.0 192.7 248.4 193.7 255.6 194.7 259.3 196.3 259.5 197.1 254.8 197.5 244.4 194.4 239.6 194.8 234.0 193.7 230.7 193.9 227.7 195.5 225.7 197.9 225.3 199.5 227.7 202.7 231.6 204.5 235.6 204.4 239.6 203.4 244.4 203.8 254.8 200.7 259.5 201.1 259.3 201.9 255.6 203.5 248.4 204.5 246.0 205.5 241.5 209.9 240.2 213.9 238.0 215.5M306.1 215.6 304.4 215.5 302.9 214.7 301.0 209.9 296.5 205.5 294.1 204.5 286.9 203.5 283.2 201.9 283.0 201.1 287.7 200.7 298.1 203.8 302.9 203.4 308.5 204.5 311.8 204.3 314.8 202.7 316.8 200.3 317.2 198.7 314.8 195.5 310.9 193.7 306.9 193.8 302.9 194.8 298.1 194.4 287.7 197.5 283.0 197.1 283.2 196.3 286.9 194.7 294.1 193.7 296.5 192.7 301.0 188.3 302.9 183.5 305.3 182.6 310.1 183.2 312.5 184.4 313.7 185.9 317.3 194.4 318.9 194.8 321.3 194.1 322.9 194.2 329.3 197.7 331.7 197.8 332.7 198.7 332.0 200.3 329.3 200.5 323.7 203.8 321.3 204.1 318.9 203.4 317.3 203.8 313.2 213.1 310.9 214.7 306.1 215.6M258.8 191.3 255.8 189.9 252.6 186.7 253.2 186.0 256.4 188.2 259.2 190.7 258.8 191.3M285.3 190.8 283.7 191.3 283.3 190.7 289.3 186.0 289.9 186.7 285.3 190.8M259.6 191.5 259.6 191.5M282.9 191.5 282.9 191.5M259.6 206.7 259.6 206.7M282.9 206.7 282.9 206.7M254.0 211.6 253.2 212.2 252.6 211.5 255.8 208.3 258.8 206.9 259.2 207.5 258.5 208.3 254.0 211.6M289.3 212.2 284.5 208.7 283.3 207.5 283.7 206.9 287.7 209.1 289.9 211.5 289.3 212.2M240.4 224.6 239.7 224.3 241.5 216.3 243.6 211.2 244.4 210.9 250.0 212.2 252.4 211.6 253.2 212.3 252.1 213.9 250.7 219.5 249.6 221.1 247.6 222.2 243.6 222.8 240.4 224.6M302.1 224.6 298.9 222.8 294.9 222.2 292.9 221.1 291.8 219.5 290.4 213.9 289.3 212.3 290.1 211.6 292.5 212.2 298.1 210.9 298.9 211.2 301.0 216.3 302.8 224.3 302.1 224.6M256.4 220.3 256.3 219.5 257.2 217.9 259.6 215.6 260.1 216.3 259.5 217.9 258.0 219.6 256.4 220.3M286.1 220.3 284.5 219.6 283.0 217.9 282.4 216.3 282.9 215.6 285.3 217.9 286.2 219.5 286.1 220.3M279.7 281.4 278.1 281.7 276.2 281.0 271.7 275.8 270.0 276.3 266.0 281.1 264.4 281.7 262.8 281.4 261.3 280.2 257.2 275.2 252.2 272.2 250.9 269.8 250.0 265.2 249.2 263.9 245.2 262.8 240.4 265.2 237.7 265.0 237.4 263.4 238.0 262.0 242.4 257.8 242.9 256.2 242.7 253.8 241.2 252.6 235.6 252.8 230.4 250.6 229.5 249.0 229.1 245.0 227.7 241.8 228.4 238.7 227.5 237.9 224.4 237.5 219.1 233.1 219.4 230.7 224.7 225.9 224.4 224.3 221.4 220.3 221.2 216.8 222.0 216.5 225.2 219.0 230.0 220.4 232.6 221.9 233.0 223.5 230.6 227.5 231.6 229.0 234.0 228.4 239.6 224.3 240.0 229.1 238.0 234.7 237.2 235.6 233.2 236.3 230.4 237.9 230.2 238.7 230.9 239.4 234.0 240.3 236.4 239.6 238.8 238.0 242.8 237.6 244.5 233.1 247.6 231.5 250.0 231.5 252.2 236.3 253.2 237.0 254.0 236.9 258.0 231.8 266.0 226.0 270.8 228.6 273.3 227.9 275.7 226.2 277.3 226.3 280.2 229.1 284.5 231.8 287.7 236.1 289.3 237.0 290.3 236.3 292.5 231.5 295.7 231.7 298.0 233.1 299.7 237.6 303.7 238.0 307.7 240.2 310.1 240.1 312.3 238.7 312.1 237.9 309.3 236.3 305.3 235.6 304.5 234.7 302.6 229.9 302.5 225.1 302.9 224.3 308.5 228.4 310.9 229.0 311.9 227.5 309.5 223.5 309.9 221.9 312.5 220.4 317.3 219.0 320.5 216.5 321.3 216.8 321.1 220.3 318.1 224.3 317.8 225.9 323.1 230.7 323.4 233.1 318.1 237.5 315.0 237.9 314.1 238.7 314.8 241.8 313.4 245.0 313.0 249.0 312.1 250.6 306.9 252.8 301.3 252.6 299.8 253.8 299.6 256.2 300.1 257.8 304.5 262.0 305.1 263.4 304.8 265.0 302.1 265.2 297.3 262.8 293.3 263.9 292.5 265.2 291.6 269.8 290.3 272.2 285.3 275.2 281.2 280.2 279.7 281.4M271.7 243.4 273.3 242.5 273.8 240.2 272.5 237.7 270.8 237.3 269.2 238.7 268.7 241.0 269.4 242.6 271.7 243.4M222.8 242.8 221.6 242.6 222.0 241.8 223.0 241.8 222.8 242.8M320.5 243.0 319.5 242.6 319.5 241.8 320.5 241.8 320.9 242.6 320.5 243.0M247.9 249.8 248.3 249.0 247.7 248.2 246.0 247.3 245.1 247.4 244.7 248.2 245.2 249.7 247.9 249.8M258.7 258.6 264.4 256.1 267.3 253.0 267.0 252.2 266.0 252.0 261.2 252.0 258.5 248.2 257.2 247.5 255.6 247.5 252.3 249.8 252.2 252.2 255.6 258.6 258.7 258.6M286.9 258.6 290.5 251.4 290.2 249.8 287.7 247.8 286.1 247.4 284.5 247.9 281.3 252.0 275.5 252.2 275.2 253.0 275.6 253.8 278.2 256.2 283.8 258.6 286.9 258.6M296.9 249.8 297.7 249.0 297.3 247.3 296.0 247.4 294.2 249.0 294.6 249.8 296.9 249.8" stroke="#00f5a0"/><path d="M272.5 142.3 270.0 142.3 265.2 138.8 255.4 136.4 254.2 135.6 253.3 134.0 253.1 130.8 253.8 127.6 259.8 122.8 263.6 118.9 265.2 119.1 266.4 120.4 270.5 129.2 270.8 131.2 271.7 131.2 272.0 129.2 276.1 120.4 278.1 118.8 279.7 119.4 282.7 122.8 288.0 126.8 289.0 128.4 289.4 132.4 288.3 135.6 285.3 137.0 276.5 139.1 272.5 142.3M248.4 144.5 246.0 144.7 245.1 143.6 245.0 139.6 246.8 138.0 249.2 138.3 251.0 140.4 250.5 142.8 248.4 144.5M296.5 144.7 294.1 144.5 292.0 142.8 291.5 140.4 293.3 138.3 295.7 138.0 297.3 139.1 297.6 142.8 296.5 144.7M240.4 157.4 234.0 155.8 232.1 154.8 231.4 153.2 231.3 150.8 231.9 149.2 233.2 147.8 237.2 146.5 238.8 146.9 240.9 148.4 242.9 155.6 242.4 156.4 240.4 157.4M303.7 157.3 301.3 157.1 299.6 155.6 301.1 149.2 302.5 147.6 304.1 146.8 307.7 146.9 310.0 148.4 310.9 149.8 311.2 151.6 310.9 154.0 309.1 155.6 303.7 157.3M278.9 167.6 277.3 167.3 275.6 164.3 275.1 161.9 275.7 155.5 274.9 153.6 273.3 152.5 270.0 152.2 267.4 154.0 266.8 156.4 267.2 163.5 265.8 166.7 264.4 167.6 260.4 166.5 257.6 164.3 256.0 161.1 255.3 155.6 257.1 154.0 263.6 150.9 270.8 149.1 278.1 150.6 284.5 153.5 287.2 155.6 286.2 161.9 283.7 165.6 278.9 167.6M248.4 162.8 247.6 163.5 246.7 162.7 246.9 160.3 245.1 156.4 245.3 155.6 249.2 152.9 251.6 152.8 253.4 154.0 253.5 155.6 249.1 160.3 248.4 162.8M295.7 163.0 294.9 163.5 294.1 162.8 293.4 160.3 289.0 155.6 288.7 154.8 290.0 153.2 291.7 152.6 293.3 152.9 297.2 155.6 297.4 156.4 295.7 159.5 295.7 163.0M223.6 166.9 222.7 166.7 222.8 165.5 224.1 165.9 223.6 166.9M319.7 166.8 318.5 166.7 318.9 165.4 320.1 165.9 319.7 166.8M248.4 184.4 246.0 184.3 244.6 182.7 244.0 180.3 245.2 178.4 247.6 178.3 249.2 179.9 249.9 182.7 249.7 183.5 248.4 184.4M295.7 184.5 293.3 184.0 292.7 181.9 294.1 178.8 296.5 178.1 298.1 179.2 298.4 181.1 297.3 183.7 295.7 184.5M235.6 191.7 232.4 191.8 230.1 190.7 229.9 187.5 231.6 185.1 235.6 184.5 237.7 185.9 238.0 187.5 237.5 189.9 235.6 191.7M310.9 191.6 307.7 191.8 305.5 190.7 304.5 187.5 305.5 185.1 308.5 184.5 310.1 184.8 311.8 185.9 312.6 187.5 312.8 189.9 310.9 191.6M256.4 196.5 254.7 196.3 255.6 195.9 257.0 196.3 256.4 196.5M287.7 196.3 285.5 196.3 286.9 195.9 287.7 196.3M256.4 202.1 254.7 201.9 257.0 201.9 256.4 202.1M287.7 202.2 285.5 201.9 287.7 202.2M236.4 213.4 233.2 213.6 230.8 212.4 229.7 209.9 230.1 207.5 231.6 206.6 234.0 206.3 236.0 206.7 237.0 207.5 237.9 211.5 236.4 213.4M310.1 213.4 306.9 213.7 304.8 212.3 304.8 209.1 306.1 206.9 309.3 206.3 312.4 207.5 312.9 209.1 312.5 211.1 311.7 212.4 310.1 213.4M247.6 219.9 245.2 219.8 244.0 217.9 245.1 214.7 246.8 213.7 249.2 214.2 249.9 215.5 249.2 218.3 247.6 219.9M297.3 219.8 294.9 219.9 293.5 218.7 292.6 215.5 293.3 214.2 295.7 213.7 297.4 214.7 298.5 217.9 297.3 219.8M271.7 249.1 264.4 247.6 255.9 243.4 255.2 241.8 256.0 237.1 257.1 234.7 258.8 232.6 262.8 230.8 265.2 230.9 267.3 235.5 267.0 243.4 268.4 245.3 270.8 246.2 274.1 245.3 275.5 243.4 275.2 235.5 277.3 230.9 278.9 230.6 281.3 231.4 284.9 233.9 286.2 236.3 287.1 239.4 287.2 242.6 286.6 243.4 278.9 247.3 271.7 249.1M223.6 232.8 222.4 232.3 222.8 231.4 224.0 231.5 223.6 232.8M319.7 232.7 318.4 232.3 318.5 231.5 319.8 231.5 319.7 232.7M252.4 245.1 250.8 245.6 249.2 245.3 245.3 242.6 245.1 241.8 246.9 237.9 246.7 235.5 247.6 234.7 248.4 235.4 249.7 238.7 253.5 242.6 253.8 243.4 252.4 245.1M293.3 245.3 290.9 245.4 288.7 243.4 293.4 237.9 294.0 235.5 294.9 234.7 295.8 235.5 295.7 238.7 297.4 241.8 296.4 243.4 293.3 245.3M238.0 251.6 235.3 251.4 232.5 249.8 231.3 247.4 231.4 245.0 232.1 243.4 233.4 242.6 240.4 240.8 242.4 241.8 242.9 243.4 241.2 249.3 240.0 250.6 238.0 251.6M306.9 251.5 303.7 251.3 301.1 249.0 299.6 242.6 301.3 241.1 303.7 240.9 308.5 242.4 310.9 244.2 311.2 246.6 310.6 249.0 309.0 250.6 306.9 251.5M247.6 260.3 245.5 259.4 244.8 257.8 245.2 254.3 246.8 253.4 249.9 254.6 251.0 257.0 250.0 259.4 247.6 260.3M294.9 260.3 292.5 259.4 291.5 257.0 292.6 254.6 295.7 253.4 297.3 254.3 297.7 257.8 297.0 259.4 294.9 260.3M279.7 278.8 278.1 279.4 276.5 278.3 272.0 269.0 271.7 267.0 270.8 267.0 270.5 269.0 266.4 277.8 265.2 279.1 263.6 279.3 259.8 275.4 253.8 270.6 253.1 266.6 253.6 263.4 254.8 262.1 256.4 261.4 266.0 259.1 270.8 255.7 272.5 255.9 277.3 259.4 287.7 262.1 288.9 263.4 289.4 265.0 288.7 270.6 282.7 275.4 279.7 278.8" stroke="#00d1f2"/><path d="M265.2 136.4 262.0 136.5 258.0 135.4 256.1 134.0 255.3 131.6 255.4 129.2 256.1 127.6 260.4 124.3 263.6 122.9 264.4 123.2 266.7 126.8 267.9 130.8 267.3 134.8 265.2 136.4M280.5 136.5 276.5 136.1 275.2 134.8 274.7 133.2 274.7 130.0 275.4 127.6 278.1 123.2 278.9 122.9 282.1 124.3 285.6 126.8 286.9 128.4 287.2 130.0 287.1 132.4 286.1 134.3 284.1 135.6 280.5 136.5M238.8 154.9 235.6 154.7 233.4 153.2 233.1 150.8 234.8 148.5 237.2 148.2 239.4 150.0 240.0 153.2 238.8 154.9M306.1 154.9 303.5 154.8 302.7 154.0 302.5 152.4 303.6 149.2 306.1 148.1 308.5 149.2 309.5 151.6 308.5 153.9 306.1 154.9M262.8 165.3 260.4 165.1 258.8 164.2 257.7 162.7 256.9 160.3 257.1 158.0 258.0 156.1 259.6 154.8 262.0 154.2 264.4 155.0 265.6 159.5 265.2 162.8 264.3 164.3 262.8 165.3M282.1 165.1 280.5 165.4 278.9 164.9 277.0 161.9 277.4 156.4 278.1 155.0 279.7 154.2 282.1 154.5 283.7 155.3 285.1 157.2 285.5 158.8 284.8 162.7 282.1 165.1M234.8 189.5 233.2 189.9 232.0 189.1 231.7 188.3 232.4 186.7 234.0 186.2 235.4 186.7 235.7 188.3 234.8 189.5M310.1 189.5 308.5 189.9 307.3 189.1 306.8 187.5 307.1 186.7 308.5 186.2 310.1 186.7 310.8 188.3 310.1 189.5M234.8 211.8 232.4 211.5 231.7 209.9 232.4 208.7 234.0 208.3 235.2 209.1 235.7 210.7 234.8 211.8M309.3 211.9 307.7 211.8 306.8 210.7 307.3 209.1 308.5 208.3 310.1 208.7 310.8 209.9 310.1 211.5 309.3 211.9M263.6 243.8 261.2 243.9 258.8 242.9 257.4 241.0 257.0 239.4 257.1 237.1 258.0 234.9 259.6 233.4 261.2 232.8 263.6 233.3 265.5 236.3 265.2 241.2 264.8 242.6 263.6 243.8M282.1 243.7 278.9 243.8 277.7 242.6 277.3 241.2 277.0 236.3 278.1 234.0 279.7 232.9 281.3 232.8 283.5 233.9 285.4 237.1 285.1 241.0 283.9 242.6 282.1 243.7M237.2 250.0 235.6 250.0 234.0 249.0 233.1 247.4 233.1 245.8 234.8 243.8 238.0 243.2 239.8 244.2 240.0 246.6 238.9 249.0 237.2 250.0M306.9 250.0 304.8 249.8 303.1 248.2 302.5 245.0 303.7 243.3 306.9 243.5 309.1 245.0 309.5 246.6 309.1 248.2 306.9 250.0M264.4 275.0 262.8 275.1 260.4 273.9 256.9 271.4 255.6 269.8 255.4 265.8 257.2 263.2 263.6 261.6 266.0 262.1 267.3 263.4 267.9 265.8 267.6 269.0 264.4 275.0M280.5 274.8 278.9 275.3 278.1 275.0 274.9 269.0 274.9 264.2 275.8 262.6 277.3 261.8 280.5 261.7 284.5 262.8 286.4 264.2 287.1 265.8 287.1 269.0 286.4 270.6 280.5 274.8" stroke="#006ef8"/><path d="M263.6 134.4 262.0 134.6 259.3 134.0 258.0 133.1 257.2 131.6 257.6 128.4 261.2 125.8 263.6 126.3 265.4 129.2 265.4 132.4 263.6 134.4M282.9 134.1 278.9 134.4 277.3 132.7 276.9 130.8 277.4 128.4 279.7 125.8 281.3 125.8 282.9 126.5 285.3 129.2 285.0 132.4 282.9 134.1M237.2 152.4 235.6 152.4 235.6 150.7 237.0 150.8 237.2 152.4M306.9 152.4 305.2 152.4 305.5 150.8 306.9 150.8 306.9 152.4M262.0 163.8 259.6 163.4 258.4 161.9 258.0 160.3 258.8 157.3 261.2 155.8 263.2 156.4 264.2 158.8 263.9 161.9 262.0 163.8M282.1 163.8 279.7 163.4 278.4 161.1 278.7 157.2 280.5 155.8 282.9 156.5 284.5 159.4 284.1 161.9 282.1 163.8M262.8 242.1 261.2 242.4 259.9 241.8 258.2 239.4 258.4 236.3 260.4 234.4 262.6 234.7 263.9 236.3 264.2 239.4 262.8 242.1M282.1 242.2 279.7 242.1 278.5 240.2 278.6 236.3 280.5 234.4 282.9 234.8 284.4 237.1 284.0 240.2 282.1 242.2M236.4 247.7 235.6 247.5 235.3 246.6 235.6 245.8 236.4 245.5 237.3 245.8 237.4 246.6 236.4 247.7M306.9 247.5 305.5 247.4 305.3 245.8 306.9 245.8 306.9 247.5M262.8 272.4 261.2 272.4 259.6 271.7 257.2 269.0 257.5 265.8 259.6 264.1 263.6 263.8 265.2 265.5 265.6 267.4 265.1 269.8 262.8 272.4M281.3 272.4 278.9 271.9 277.8 270.6 277.0 268.2 277.5 265.0 279.7 263.6 283.7 264.5 285.3 266.6 284.9 269.8 281.3 272.4" stroke="#000bfe"/><path d="M262.0 131.8 260.4 131.9 259.3 130.8 259.4 129.2 260.4 128.2 262.0 128.1 262.9 129.2 262.9 130.8 262.0 131.8M282.1 131.9 280.5 131.8 279.6 130.8 279.6 129.2 280.5 128.1 282.1 128.2 283.1 129.2 283.2 130.8 282.1 131.9M261.2 162.2 260.2 161.9 259.3 160.3 259.6 158.6 261.2 157.6 262.2 158.0 262.7 159.5 262.4 161.1 261.2 162.2M282.1 162.1 280.5 161.7 279.8 160.3 279.9 158.8 281.3 157.6 282.2 158.0 283.2 159.5 283.0 161.1 282.1 162.1M262.0 240.4 260.4 240.4 259.6 239.4 259.5 237.1 260.4 236.1 261.7 236.3 262.4 237.1 262.7 238.7 262.0 240.4M282.1 240.4 280.5 240.4 279.9 239.4 280.1 237.1 281.3 236.0 282.3 236.3 283.2 237.9 282.9 239.4 282.1 240.4M262.0 270.1 260.4 270.0 259.4 269.0 259.3 267.4 260.4 266.3 262.0 266.4 262.9 267.4 262.9 269.0 262.0 270.1M282.1 270.0 280.5 270.1 279.6 269.0 279.6 267.4 280.5 266.4 282.1 266.3 283.2 267.4 283.1 269.0 282.1 270.0" stroke="#5500ff"/></g></g><clipPath id="lba"><rect x="151.0" y="79.6" width="82" height="39"/></clipPath><rect x="151.0" y="79.6" width="82" height="39" fill="#fff"/><g clip-path="url(#lba)"><path d="M176.7 78.6V319.6M223.9 78.6V319.6M271.2 78.6V319.6M318.6 78.6V319.6M365.9 78.6V319.6" stroke="#9898f5" stroke-width="1.4" stroke-dasharray="1.8 2.8" fill="none"/><path d="M150.0 293.5H392.5M150.0 246.3H392.5M150.0 199.1H392.5M150.0 151.9H392.5M150.0 104.7H392.5" stroke="#babaf8" stroke-width="1.2" stroke-dasharray="1.8 2.8" fill="none"/></g><rect x="150.0" y="78.6" width="242.5" height="241.0" fill="none" stroke="#000" stroke-width="2"/><path d="M176.7 319.6v14M150.0 293.5h-14M223.9 319.6v14M150.0 246.3h-14M271.2 319.6v14M150.0 199.1h-14M318.6 319.6v14M150.0 151.9h-14M365.9 319.6v14M150.0 104.7h-14" stroke="#000" stroke-width="2" fill="none"/><text x="174.6" y="357.3" text-anchor="middle" font-size="18">−4</text><text x="128.0" y="300.0" text-anchor="end" font-size="18">−4</text><text x="221.8" y="357.3" text-anchor="middle" font-size="18">−2</text><text x="128.0" y="252.8" text-anchor="end" font-size="18">−2</text><text x="271.1" y="357.3" text-anchor="middle" font-size="18">0</text><text x="128.0" y="205.6" text-anchor="end" font-size="18">0</text><text x="318.4" y="357.3" text-anchor="middle" font-size="18">2</text><text x="128.0" y="158.4" text-anchor="end" font-size="18">2</text><text x="365.7" y="357.3" text-anchor="middle" font-size="18">4</text><text x="128.0" y="111.2" text-anchor="end" font-size="18">4</text><g transform="translate(271.25 387.40)"><text x="-96.91" y="0.00" font-size="18.9">momentum</text><text x="3.50" y="0.00" font-size="18.5">(10</text><text x="30.77" y="-12.70" font-size="12">5</text><text x="43.57" y="0.00" font-size="18.5" font-style="italic">u</text><text x="59.22" y="0.00" font-size="18.5">m/s)</text></g><g transform="translate(87.00 197.60) rotate(-90)"><text x="-96.91" y="0.00" font-size="18.9">momentum</text><text x="3.50" y="0.00" font-size="18.5">(10</text><text x="30.77" y="-12.70" font-size="12">5</text><text x="43.57" y="0.00" font-size="18.5" font-style="italic">u</text><text x="59.22" y="0.00" font-size="18.5">m/s)</text></g><text x="157.35" y="113.10" font-size="25">(a) C</text><text x="212.32" y="95.75" font-size="16.5">2+</text><rect x="400.8" y="84.8" width="6.3" height="70.7" fill="url(#cbg)" stroke="#000" stroke-width="1.5"/><path d="M407.8 140.2h4.5" stroke="#000" stroke-width="2"/><text x="420.0" y="146.7" font-size="18">0</text><path d="M407.8 103.4h4.5" stroke="#000" stroke-width="2"/><text x="420.0" y="109.9" font-size="18">5</text><text transform="translate(407.0 168.1) rotate(90)" font-size="18">×10<tspan font-size="13" dy="-13">−5</tspan></text><path d="M550.1 78.6V319.6M597.5 78.6V319.6M644.8 78.6V319.6M692.0 78.6V319.6M739.4 78.6V319.6" stroke="#9898f5" stroke-width="1.4" stroke-dasharray="1.8 2.8" fill="none"/><path d="M523.5 293.5H766.0M523.5 246.3H766.0M523.5 199.1H766.0M523.5 151.9H766.0M523.5 104.7H766.0" stroke="#babaf8" stroke-width="1.2" stroke-dasharray="1.8 2.8" fill="none"/><clipPath id="clipb"><rect x="523.5" y="78.6" width="242.5" height="241.0"/></clipPath><g clip-path="url(#clipb)"><g fill="none" stroke-width="1.9" stroke-linejoin="round" stroke-linecap="round"><path d="M517.0 159.0 521.2 158.0 522.3 157.2 523.1 155.6 521.7 153.2 517.0 151.7M772.5 151.7 767.8 153.2 766.4 155.6 767.2 157.2 768.3 158.0 772.5 159.0M517.0 246.5 521.7 245.0 523.1 242.6 522.3 241.0 521.2 240.2 517.0 239.2M772.5 239.2 768.3 240.2 767.2 241.0 766.4 242.6 767.8 245.0 772.5 246.5" stroke="#ff3500"/><path d="M517.0 86.1 521.0 86.6 529.1 89.3 531.5 89.0 532.8 87.6 532.2 85.2 529.9 83.1 517.0 77.4M772.5 77.4 759.6 83.1 757.3 85.2 756.7 87.6 758.0 89.0 760.4 89.3 768.5 86.6 772.5 86.1M556.0 123.6 564.3 120.0 567.0 118.0 568.3 116.4 568.6 113.2 566.2 106.8 567.0 104.4 570.7 101.9 580.3 98.3 581.4 96.4 580.7 91.6 578.7 88.9 563.5 81.3 561.1 80.6 558.7 81.0 557.1 82.1 554.8 85.2 553.2 89.2 553.5 92.4 556.4 99.6 556.4 102.8 555.1 104.4 547.5 109.2 546.1 111.6 545.6 114.0 545.6 120.4 546.7 123.2 549.9 124.3 556.0 123.6M742.3 123.6 743.6 122.0 744.0 119.6 743.9 114.0 743.1 110.8 740.4 107.8 734.4 104.4 732.9 102.0 733.3 98.8 736.0 92.4 736.4 90.0 735.1 86.0 732.4 82.1 730.0 80.7 726.8 81.0 710.3 89.2 709.1 90.8 708.2 94.0 708.1 96.4 708.8 98.0 719.0 102.0 721.7 103.6 723.0 105.2 723.2 107.6 720.7 114.0 721.2 116.4 722.5 118.0 727.4 121.2 733.2 123.5 738.8 124.3 742.3 123.6M619.3 102.0 620.7 100.4 620.8 98.0 619.9 95.6 617.4 92.4 614.7 90.0 610.7 87.8 608.3 87.1 606.3 87.6 606.0 88.4 606.5 90.0 612.3 99.9 616.3 102.4 619.3 102.0M674.3 102.0 676.7 100.4 679.0 97.2 683.4 89.2 683.5 88.4 682.8 87.4 679.6 87.5 675.6 89.5 672.4 92.1 669.6 95.6 668.6 98.8 669.2 101.2 671.6 102.5 674.3 102.0M593.1 115.6 595.5 114.6 597.3 112.4 597.8 109.2 597.1 106.8 595.5 105.1 591.5 102.9 587.5 101.4 585.1 101.3 584.1 102.8 584.0 105.2 585.5 110.8 589.1 114.7 593.1 115.6M697.6 115.6 701.2 114.2 704.4 110.0 705.5 104.4 705.2 102.2 704.4 101.3 702.0 101.4 698.0 102.9 694.0 105.1 692.4 106.9 691.6 110.0 692.4 112.7 694.8 115.1 697.6 115.6M517.0 164.3 521.8 163.8 526.6 162.4 532.3 160.0 534.8 158.0 535.7 154.0 535.4 151.6 534.2 149.2 532.3 147.7 524.7 144.4 523.1 142.8 522.8 141.2 524.9 137.2 527.4 134.2 530.7 132.6 536.7 131.6 538.1 130.8 538.8 129.2 537.3 127.6 530.7 125.6 526.6 123.5 524.5 121.2 520.2 114.4 517.0 112.1M772.5 112.1 769.3 114.4 765.0 121.2 762.9 123.5 758.8 125.6 752.2 127.6 750.7 129.2 751.4 130.8 752.8 131.6 758.8 132.6 762.1 134.2 764.6 137.2 766.7 141.2 766.4 142.8 764.8 144.4 757.2 147.7 755.3 149.2 754.1 151.6 753.8 154.0 754.7 158.0 757.2 160.0 762.9 162.4 767.7 163.8 772.5 164.3M566.2 146.8 569.6 145.2 571.5 143.6 572.8 141.2 572.3 139.6 569.9 138.8 567.0 138.8 562.7 140.0 560.3 141.8 559.5 144.4 560.9 146.8 562.7 147.5 566.2 146.8M728.6 146.8 729.8 145.2 730.0 143.6 729.4 142.0 727.6 140.4 721.2 138.7 718.0 139.2 716.8 140.4 717.4 142.8 720.4 145.4 726.0 147.5 728.6 146.8M536.6 192.3 544.8 189.1 547.4 187.5 547.9 185.9 546.8 183.5 544.3 181.6 541.1 181.0 538.3 181.9 534.8 184.3 532.1 187.5 531.8 189.9 532.4 191.5 533.9 192.8 536.6 192.3M756.5 192.3 757.7 189.9 757.4 187.5 755.6 185.1 751.6 182.2 749.2 181.2 746.6 181.1 744.4 182.0 742.1 184.3 741.7 186.7 743.1 188.3 754.0 192.7 755.6 192.8 756.5 192.3M542.9 217.1 545.0 216.3 546.8 214.7 547.9 212.3 547.4 210.7 544.8 209.1 535.5 205.5 533.1 205.8 531.8 209.1 533.2 212.3 538.3 216.3 540.6 217.1 542.9 217.1M748.9 217.1 752.6 215.5 756.9 211.5 757.7 208.3 756.4 205.8 754.0 205.5 744.7 209.1 742.1 210.7 741.8 213.1 743.4 215.5 746.0 216.9 748.9 217.1M517.0 286.1 520.2 283.8 524.5 277.0 526.6 274.7 530.7 272.6 537.3 270.6 538.8 269.0 538.1 267.4 536.7 266.6 530.7 265.6 527.4 264.0 524.9 261.0 522.8 257.0 523.1 255.4 524.7 253.8 532.3 250.5 534.2 249.0 535.4 246.6 535.7 244.2 534.8 240.2 532.3 238.2 526.6 235.8 521.8 234.4 517.0 233.9M772.5 233.9 767.7 234.4 762.9 235.8 757.2 238.2 754.7 240.2 753.8 244.2 754.1 246.6 755.3 249.0 757.2 250.5 764.8 253.8 766.4 255.4 766.7 257.0 764.6 261.0 762.1 264.0 758.8 265.6 752.8 266.6 751.4 267.4 750.7 269.0 752.2 270.6 758.8 272.6 762.9 274.7 765.0 277.0 769.3 283.8 772.5 286.1M569.6 259.4 572.3 258.6 572.7 257.8 572.3 255.7 570.7 253.8 567.5 252.0 563.5 250.7 561.9 250.8 560.2 252.2 559.5 254.6 561.1 257.2 564.3 258.8 569.6 259.4M722.5 259.4 726.8 258.2 729.4 256.2 730.0 253.8 728.4 251.3 726.8 250.7 723.3 251.4 719.6 253.2 717.4 255.4 716.7 257.0 717.2 258.6 719.6 259.4 722.5 259.4M563.3 317.0 579.2 309.0 581.0 305.8 581.2 301.0 579.5 299.5 570.7 296.3 567.0 293.8 566.2 292.2 566.3 290.6 568.4 285.8 568.7 283.4 567.8 281.0 566.1 279.4 561.9 276.9 556.3 274.7 551.5 273.9 547.5 274.4 545.9 276.2 545.5 278.6 545.6 284.2 546.4 287.4 549.1 290.4 555.1 293.8 556.6 296.2 556.2 299.4 553.3 306.6 553.7 310.6 555.8 314.6 557.9 316.8 560.3 317.6 563.3 317.0M731.3 317.0 734.7 313.0 736.4 308.2 736.0 305.8 733.1 298.6 733.1 295.4 734.8 293.5 741.2 289.8 742.7 288.2 743.6 285.8 743.8 277.0 742.8 275.0 741.2 274.2 737.2 274.0 733.2 274.7 727.6 276.9 723.4 279.4 721.7 281.0 720.8 283.4 721.1 285.8 723.2 290.6 723.3 292.2 722.5 293.8 718.8 296.3 710.0 299.5 708.3 301.0 708.1 303.4 708.8 306.6 709.6 308.2 711.4 309.8 718.8 312.9 726.8 317.2 729.2 317.6 731.3 317.0M586.8 297.0 593.1 294.5 595.6 293.0 597.1 291.4 597.8 289.0 597.6 286.6 596.3 284.3 594.7 283.1 592.3 282.6 589.3 283.4 587.3 285.0 585.5 287.4 584.2 291.4 584.1 295.4 585.1 296.9 586.8 297.0M704.0 297.0 705.2 296.0 705.5 293.0 705.0 289.8 703.5 286.6 701.2 284.0 698.8 282.8 696.4 282.6 694.0 283.6 692.4 285.5 691.7 287.4 691.8 289.8 693.0 292.2 698.8 295.7 702.0 296.8 704.0 297.0M610.3 310.6 615.5 307.5 619.9 302.6 620.9 298.6 619.5 296.3 617.9 295.7 615.5 296.0 613.1 297.5 611.5 299.4 606.0 309.8 606.3 310.6 607.5 311.1 610.3 310.6M683.2 310.6 683.5 309.8 683.0 308.2 676.7 297.8 674.8 296.4 672.4 295.7 670.8 295.9 669.2 297.0 668.6 298.6 669.2 301.8 673.2 306.9 676.4 309.2 679.6 310.7 682.0 311.1 683.2 310.6M517.0 320.8 529.9 315.1 532.2 313.0 532.8 310.6 531.5 309.2 529.1 308.9 521.0 311.6 517.0 312.1M772.5 312.1 768.5 311.6 760.4 308.9 758.0 309.2 756.7 310.6 757.3 313.0 759.6 315.1 772.5 320.8" stroke="#ff5c00"/><path d="M557.8 71.7 549.1 82.0 546.7 83.3 544.3 83.6 540.3 82.4 536.8 79.6 533.3 75.7 531.7 71.7M584.3 71.7 583.0 74.9 580.5 78.1 577.9 80.0 574.7 80.8 572.3 80.5 569.1 79.2 558.1 71.7M604.6 71.7 603.8 75.7 601.9 78.8 598.7 81.3 595.5 82.3 593.1 81.9 590.3 79.6 588.0 75.7 586.7 71.7M702.8 71.7 701.5 75.7 699.2 79.6 696.4 81.9 694.0 82.3 690.8 81.3 687.6 78.8 685.7 75.7 684.9 71.7M731.4 71.7 720.4 79.2 717.2 80.5 714.8 80.8 711.6 80.0 709.0 78.1 706.5 74.9 705.2 71.7M757.8 71.7 756.2 75.7 752.7 79.6 749.2 82.4 745.2 83.6 742.8 83.3 740.4 82.0 731.7 71.7M649.2 97.2 643.5 97.8 638.1 96.4 635.3 94.0 635.3 90.8 637.6 87.6 641.1 84.6 644.3 83.5 647.6 84.2 651.9 87.6 654.5 91.6 653.6 94.8 649.2 97.2M629.1 92.0 627.5 92.2 625.1 90.8 622.8 87.6 622.7 85.7 623.5 85.4 625.1 86.0 628.0 88.4 629.7 90.8 629.1 92.0M662.8 91.9 660.4 92.0 659.9 91.6 660.2 90.0 664.4 86.0 666.0 85.4 666.8 85.7 667.0 86.8 666.0 89.0 662.8 91.9M604.3 102.7 601.9 102.2 597.5 99.6 595.8 97.2 596.3 95.9 599.5 95.5 602.7 97.2 604.6 100.4 604.3 102.7M687.6 102.2 685.2 102.7 684.9 102.0 685.1 99.6 686.7 97.2 690.0 95.5 693.2 95.9 693.7 97.2 692.8 98.8 687.6 102.2M537.1 118.2 533.9 117.5 531.8 114.8 531.2 107.6 529.3 102.0 529.7 100.4 531.0 99.6 533.9 99.1 537.1 99.4 539.5 100.1 540.6 101.2 538.6 106.8 539.7 113.2 539.6 115.6 538.7 117.4 537.1 118.2M754.0 118.2 751.6 118.0 750.0 116.0 749.8 113.2 750.9 106.8 748.9 101.2 751.6 99.5 757.2 99.3 759.8 100.4 760.2 102.0 758.3 107.6 757.7 114.8 756.4 116.8 754.0 118.2M659.6 297.8 655.6 298.1 644.3 296.6 634.7 298.1 630.7 298.0 627.5 296.8 617.1 291.0 613.1 289.9 606.7 289.3 602.7 287.0 590.7 275.1 581.1 269.1 578.6 266.6 573.9 253.3 566.6 244.2 564.7 241.0 561.8 228.3 557.6 216.3 557.5 210.7 558.8 199.5 557.4 186.7 557.9 180.3 561.8 169.9 564.7 157.2 566.6 154.0 573.9 144.9 578.6 131.6 581.1 129.1 590.7 123.1 604.3 110.0 606.7 108.9 613.1 108.3 617.1 107.2 628.3 101.0 631.5 100.1 644.3 101.6 655.6 100.1 658.8 100.2 662.0 101.4 672.4 107.2 676.4 108.3 682.8 108.9 686.8 111.2 698.8 123.1 708.4 129.1 710.9 131.6 715.6 144.9 722.9 154.0 724.8 157.2 727.7 169.9 731.9 181.9 732.0 187.5 730.7 198.7 732.1 211.5 731.6 217.9 727.7 228.3 724.8 241.0 722.9 244.2 715.6 253.3 710.9 266.6 708.4 269.1 698.8 275.1 685.2 288.2 682.8 289.3 676.4 289.9 672.4 291.0 659.6 297.8M572.3 132.5 565.1 132.3 562.6 131.6 561.5 130.8 561.2 130.0 562.3 128.4 564.4 126.8 573.9 122.1 577.9 121.0 581.1 122.1 581.9 123.6 581.6 125.2 579.3 129.2 576.3 131.4 572.3 132.5M723.6 132.4 716.4 132.4 712.1 130.8 710.2 129.2 708.5 126.8 707.7 124.4 707.9 122.8 710.0 121.2 713.2 121.2 725.1 126.8 727.9 129.2 728.0 130.8 723.6 132.4M556.3 177.1 553.9 177.2 550.7 175.6 547.6 172.3 547.6 169.9 549.3 164.3 546.7 156.9 546.3 154.0 546.8 152.4 548.3 151.3 549.9 151.4 552.3 152.5 554.0 154.0 555.4 156.4 554.9 164.3 555.5 166.3 558.1 169.9 558.7 172.3 557.9 175.5 556.3 177.1M735.6 177.2 734.0 177.4 732.4 176.6 730.9 173.1 731.4 169.9 734.0 166.3 734.6 164.3 734.1 156.4 735.5 154.0 737.2 152.5 739.6 151.4 741.2 151.3 742.7 152.4 743.2 154.0 742.8 156.9 740.2 164.3 742.0 171.5 741.5 173.1 740.0 174.7 735.6 177.2M636.4 169.1 637.0 166.7 636.5 165.1 635.5 164.1 633.9 163.8 633.6 165.1 634.7 168.7 635.5 169.6 636.4 169.1M654.4 169.1 655.9 165.1 655.6 163.8 654.0 164.1 652.7 165.9 653.1 169.1 654.0 169.6 654.4 169.1M517.0 169.7 521.0 169.4 529.1 167.4 532.3 167.4 535.9 169.1 537.2 170.7 537.4 172.3 535.4 175.5 531.5 178.2 517.0 182.4M645.6 168.3 646.0 167.5 645.2 166.8 643.5 167.5 644.3 168.6 645.6 168.3M772.5 182.4 758.0 178.2 754.1 175.5 752.1 172.3 752.3 170.7 753.6 169.1 757.2 167.4 760.4 167.4 768.5 169.4 772.5 169.7M624.3 185.9 625.1 185.7 625.6 184.3 625.2 182.7 624.3 181.9 621.1 180.7 618.9 181.1 618.5 181.9 619.4 183.5 624.3 185.9M665.2 185.9 670.1 183.5 671.0 181.9 670.6 181.1 668.4 180.7 665.2 181.9 664.3 182.7 663.9 184.3 664.4 185.7 665.2 185.9M517.0 192.9 519.4 193.2 521.8 194.3 523.6 196.3 524.2 198.7 523.9 201.1 522.3 203.5 520.2 204.7 517.0 205.3M772.5 205.3 770.1 205.0 767.7 203.9 765.9 201.9 765.3 199.5 765.6 197.1 767.2 194.7 769.3 193.5 772.5 192.9M622.6 217.1 625.2 215.5 625.6 213.9 625.1 212.5 623.5 212.6 618.7 215.5 618.7 216.8 619.5 217.4 622.6 217.1M670.6 217.1 671.0 216.3 670.1 214.7 666.0 212.6 664.4 212.5 664.0 214.7 665.2 216.3 668.4 217.5 670.6 217.1M517.0 215.8 531.5 220.0 535.4 222.7 537.4 225.9 537.2 227.5 535.9 229.1 532.3 230.8 529.1 230.8 521.0 228.8 517.0 228.5M772.5 228.5 768.5 228.8 760.4 230.8 757.2 230.8 753.6 229.1 752.3 227.5 752.1 225.9 754.1 222.7 758.0 220.0 772.5 215.8M549.9 246.8 547.5 246.6 546.3 244.2 546.7 241.3 549.3 233.9 547.5 226.7 548.0 225.1 549.9 223.2 553.9 221.0 555.5 220.8 557.9 222.6 558.7 225.9 558.1 228.3 555.5 231.9 554.9 233.9 555.4 241.8 553.2 245.0 549.9 246.8M741.2 246.9 739.6 246.8 737.2 245.7 735.5 244.2 734.1 241.8 734.6 233.9 734.0 231.9 731.4 228.3 730.8 225.9 731.6 222.7 733.2 221.1 735.6 221.0 738.8 222.6 741.9 225.9 741.9 228.3 740.2 233.9 742.8 241.3 743.2 244.2 742.7 245.8 741.2 246.9M635.9 233.9 637.0 231.5 636.4 229.1 635.5 228.6 634.7 229.5 633.5 233.9 634.7 234.5 635.9 233.9M656.0 233.9 654.8 229.5 654.0 228.6 653.2 229.0 652.5 231.5 653.0 233.1 654.8 234.5 656.0 233.9M646.0 230.7 645.2 229.6 643.9 229.9 643.5 230.7 644.3 231.4 646.0 230.7M579.5 277.0 575.5 276.7 565.7 272.2 562.3 269.8 561.2 268.2 561.5 267.4 564.3 266.1 568.3 265.6 573.1 265.8 577.1 267.2 580.0 269.8 581.6 273.0 581.6 275.4 579.5 277.0M712.4 277.1 710.0 277.0 708.4 276.1 707.6 274.6 709.0 270.6 712.1 267.4 715.6 266.0 721.2 265.6 725.2 266.1 728.0 267.4 727.9 269.0 725.1 271.4 717.2 275.4 712.4 277.1M537.9 298.7 532.3 298.9 529.9 297.9 529.3 297.0 531.2 290.6 531.8 283.4 533.5 281.0 536.3 279.9 538.7 280.8 539.7 283.4 538.6 291.4 540.6 297.0 537.9 298.7M758.0 298.7 752.4 298.8 750.0 298.1 748.9 297.0 750.9 291.4 749.8 285.0 749.9 282.6 751.7 280.2 754.8 280.3 756.4 281.4 757.7 283.4 758.3 290.6 760.2 296.2 759.8 297.8 758.0 298.7M599.5 302.7 596.3 302.3 596.1 300.2 599.9 297.0 604.3 295.5 604.6 297.8 603.5 300.1 601.8 301.8 599.5 302.7M692.4 302.7 689.4 302.6 686.7 301.0 684.9 297.8 685.2 295.5 688.4 296.3 692.8 299.4 693.6 301.8 692.4 302.7M646.0 314.6 643.5 314.6 641.1 313.6 636.3 309.0 635.3 307.4 635.2 305.0 636.8 302.6 641.1 300.8 646.0 300.4 650.8 301.5 653.6 303.4 654.5 306.6 653.8 308.2 650.0 312.5 646.0 314.6M625.1 312.2 623.5 312.8 622.5 312.2 623.5 309.2 626.2 306.6 629.1 306.2 629.6 306.6 629.3 308.2 625.1 312.2M666.8 312.5 665.2 312.6 662.8 310.9 660.2 308.2 659.9 306.6 662.0 306.0 664.4 307.4 666.7 310.6 666.8 312.5M531.7 326.5 533.3 322.5 536.8 318.6 540.3 315.8 544.3 314.6 546.7 314.9 549.1 316.2 557.8 326.5M731.7 326.5 740.4 316.2 742.8 314.9 745.2 314.6 749.2 315.8 752.7 318.6 756.2 322.5 757.8 326.5M586.7 326.5 588.0 322.5 590.3 318.6 593.1 316.3 595.5 315.9 598.7 316.9 601.9 319.4 603.8 322.5 604.6 326.5M684.9 326.5 685.7 322.5 687.6 319.4 690.8 316.9 694.0 315.9 696.4 316.3 699.2 318.6 701.5 322.5 702.8 326.5M558.1 326.5 569.1 319.0 572.3 317.7 574.7 317.4 577.9 318.2 580.5 320.1 583.0 323.3 584.3 326.5M705.2 326.5 706.5 323.3 709.0 320.1 711.6 318.2 714.8 317.4 717.2 317.7 720.4 319.0 731.4 326.5" stroke="#ff8300"/><path d="M547.1 71.7 545.9 74.7 543.5 75.6 541.1 74.2 540.1 71.7M574.7 71.7 573.9 73.1 572.3 73.7 570.7 73.3 569.4 71.7M720.1 71.7 718.8 73.3 717.2 73.7 715.6 73.1 714.8 71.7M749.4 71.7 748.4 74.2 746.0 75.6 743.6 74.7 742.4 71.7M658.0 294.6 645.2 293.4 633.9 294.6 629.9 294.3 625.9 292.8 616.3 287.8 605.9 285.0 601.1 282.1 591.8 272.2 583.1 265.8 580.3 262.5 574.9 250.6 568.7 242.6 567.0 239.4 565.9 235.5 564.3 225.3 560.1 213.9 560.0 209.1 561.2 199.5 559.9 188.3 560.5 182.7 564.3 172.9 565.9 162.7 567.0 158.8 568.7 155.6 574.9 147.6 580.4 135.6 583.1 132.4 591.5 126.3 599.5 117.6 603.5 114.4 606.7 112.8 616.3 110.4 626.7 105.0 630.7 103.7 633.9 103.6 644.3 104.8 655.6 103.6 659.6 103.9 663.6 105.4 672.4 110.1 682.8 112.8 687.6 115.5 697.7 126.0 706.4 132.4 709.2 135.7 714.6 147.6 720.8 155.6 722.5 158.8 723.6 162.7 725.2 172.9 729.4 184.3 729.5 189.1 728.3 198.7 729.6 209.9 729.0 215.5 725.2 225.3 723.6 235.5 722.5 239.4 720.8 242.6 714.6 250.6 709.1 262.6 706.4 265.8 698.0 271.9 690.0 280.6 686.0 283.8 682.8 285.4 673.2 287.8 662.8 293.2 658.0 294.6M651.0 186.7 654.4 179.5 654.4 173.1 655.9 170.7 656.9 167.5 658.0 166.1 662.0 165.2 661.8 163.5 659.6 162.3 654.8 161.1 652.4 162.6 650.0 165.6 649.2 165.9 645.2 164.5 640.3 165.9 639.5 165.6 637.1 162.6 634.7 161.1 629.9 162.3 627.7 163.5 627.5 165.2 631.5 166.1 632.6 167.5 633.6 170.7 635.1 173.1 635.1 179.5 637.9 186.1 638.7 186.8 640.3 186.7 641.1 185.3 641.5 182.7 640.6 177.9 638.2 172.3 638.7 169.2 639.5 168.2 640.3 168.1 642.7 170.1 645.2 170.8 646.8 170.1 649.2 168.1 650.0 168.2 651.1 169.9 651.3 172.3 648.9 177.9 648.0 182.7 648.4 185.3 649.2 186.7 651.0 186.7M623.0 175.5 623.9 173.9 623.2 173.1 621.9 173.1 621.2 174.7 621.9 175.7 623.0 175.5M667.8 175.5 668.2 173.9 667.6 173.1 666.0 173.3 665.6 173.9 666.0 175.1 666.8 175.7 667.8 175.5M630.5 191.5 632.7 190.7 633.2 189.1 631.5 187.7 628.3 186.4 626.8 182.7 625.5 181.1 621.1 178.8 617.9 179.2 616.3 180.3 616.2 181.9 617.2 183.5 623.7 187.5 626.5 191.5 627.5 191.9 630.5 191.5M663.0 191.5 665.8 187.5 671.3 184.3 672.9 182.7 673.4 181.1 672.4 179.6 668.4 178.8 665.2 180.3 663.1 181.9 661.2 186.4 658.0 187.7 656.3 189.1 656.8 190.7 658.0 191.2 661.2 191.9 663.0 191.5M610.5 203.5 611.3 201.9 610.2 198.7 611.3 196.3 610.7 194.9 609.9 194.5 609.1 194.7 609.0 195.5 609.7 198.7 609.0 202.7 609.1 203.5 610.5 203.5M680.4 203.5 679.8 198.7 680.5 195.5 680.4 194.7 679.6 194.5 678.3 195.5 679.3 199.5 678.2 201.9 678.8 203.3 680.4 203.5M646.1 201.9 647.1 200.3 646.9 197.1 646.0 196.1 643.5 196.1 642.4 197.9 642.6 201.1 643.5 202.1 646.1 201.9M619.0 201.1 625.1 199.9 625.7 198.7 617.1 196.7 616.7 197.1 616.7 201.1 617.1 201.5 619.0 201.1M672.8 201.1 672.8 197.1 672.4 196.7 663.8 198.7 664.4 199.9 667.6 200.2 671.6 201.5 672.8 201.1M620.3 219.5 621.9 219.2 625.9 216.7 628.3 211.8 631.5 210.5 633.2 209.1 632.7 207.5 629.1 206.5 626.7 206.5 623.7 210.7 617.2 214.7 616.2 216.3 616.3 217.9 617.9 219.0 620.3 219.5M669.2 219.5 671.6 219.0 673.2 217.9 673.3 216.3 672.3 214.7 665.8 210.7 662.8 206.5 660.4 206.5 656.8 207.5 656.3 209.1 658.0 210.5 661.2 211.8 663.6 216.7 667.6 219.2 669.2 219.5M655.2 237.1 660.4 235.6 661.8 234.7 662.1 233.9 662.0 233.0 661.2 232.5 658.8 232.4 657.2 231.2 655.9 227.5 654.4 225.1 654.4 218.7 651.6 212.1 650.8 211.4 649.2 211.5 648.4 212.9 648.0 215.5 648.9 220.3 651.3 225.9 650.8 229.0 650.0 230.0 649.2 230.1 646.8 228.1 644.3 227.4 642.7 228.1 640.3 230.1 639.5 230.0 638.7 229.0 638.2 225.9 640.8 219.5 641.5 214.7 640.3 211.5 638.5 211.5 635.1 218.7 635.1 225.1 633.6 227.5 632.6 230.7 631.5 232.1 627.5 233.0 627.7 234.7 629.9 235.9 634.7 237.1 637.1 235.6 639.5 232.6 640.3 232.3 645.2 233.7 649.2 232.3 650.0 232.6 653.1 236.3 655.2 237.1M623.2 225.1 623.9 224.3 623.8 223.5 622.7 222.5 621.9 222.5 621.3 224.3 621.9 225.1 623.2 225.1M667.6 225.1 668.3 223.5 667.6 222.5 666.8 222.5 665.6 224.3 666.3 225.1 667.6 225.1M540.1 326.5 541.1 324.0 543.5 322.6 545.9 323.5 547.1 326.5M742.4 326.5 743.6 323.5 746.0 322.6 748.4 324.0 749.4 326.5M569.4 326.5 570.7 324.9 572.3 324.5 573.9 325.1 574.7 326.5M714.8 326.5 715.6 325.1 717.2 324.5 718.8 324.9 720.1 326.5" stroke="#ffaa00"/><path d="M658.0 292.2 645.2 291.2 633.9 292.3 629.9 292.0 625.9 290.5 617.9 286.0 606.7 282.8 601.9 280.0 593.1 270.4 584.3 263.8 581.1 259.8 576.3 249.0 568.9 238.7 567.7 234.7 566.1 224.3 562.1 213.1 561.9 209.1 563.1 199.5 561.9 189.1 562.4 183.5 566.1 173.9 567.7 163.5 568.9 159.5 576.3 149.2 581.8 137.2 584.7 134.0 593.1 127.8 599.6 120.4 603.5 117.0 607.5 115.1 617.1 112.5 625.9 107.7 631.5 106.0 644.3 107.0 655.6 105.9 659.6 106.2 663.6 107.7 671.6 112.2 682.8 115.4 687.6 118.2 696.4 127.8 705.2 134.4 708.4 138.4 713.2 149.2 720.6 159.5 721.8 163.5 723.4 173.9 727.4 185.1 727.6 189.1 726.4 198.7 727.6 209.1 727.1 214.7 723.4 224.3 721.8 234.7 720.6 238.7 713.2 249.0 707.7 261.0 704.8 264.2 696.4 270.4 689.9 277.8 686.0 281.2 682.0 283.1 672.4 285.7 663.6 290.5 658.0 292.2M654.1 194.7 658.0 193.2 662.8 194.2 663.6 193.8 667.6 187.6 675.4 183.5 677.1 181.9 676.4 177.5 672.6 172.3 670.8 171.4 667.6 170.9 665.2 171.9 664.0 173.1 664.1 174.7 665.4 177.1 665.1 178.7 661.6 181.9 659.6 184.9 656.4 186.3 654.5 185.9 654.3 184.3 656.5 181.1 656.1 173.9 658.0 169.1 658.8 168.0 662.8 167.4 664.2 165.9 663.2 163.5 660.4 161.5 650.8 158.5 644.3 159.4 639.5 158.4 629.1 161.5 626.7 163.0 625.4 165.1 625.8 166.7 627.5 167.8 630.7 168.0 633.2 173.1 633.5 175.5 633.0 181.1 635.2 184.3 634.7 186.1 633.1 186.3 629.9 184.9 627.9 181.9 624.4 178.7 624.1 177.1 625.4 174.7 625.5 173.1 622.7 171.1 618.7 171.4 617.1 172.2 613.1 177.5 612.4 181.9 614.1 183.5 621.9 187.6 625.9 193.8 626.7 194.2 631.5 193.2 634.7 194.5 637.9 194.8 638.3 194.7 638.0 193.9 636.7 192.3 636.3 190.6 637.5 189.1 640.3 188.9 641.3 188.3 642.7 184.3 643.7 178.7 641.2 173.1 641.9 172.3 647.6 172.3 648.2 173.9 645.8 178.7 647.5 186.7 648.4 188.6 651.6 188.9 652.9 189.9 653.2 191.5 651.2 194.7 654.1 194.7M611.1 206.7 613.9 204.4 617.1 204.0 621.1 201.9 625.9 202.3 629.1 200.4 633.0 201.1 633.9 199.6 633.9 198.6 633.1 197.2 632.3 196.9 629.1 197.8 625.9 195.9 621.1 196.3 617.1 194.2 613.9 193.8 609.9 191.1 608.8 192.3 607.9 194.7 607.7 201.9 608.8 205.9 609.9 207.1 611.1 206.7M680.0 206.7 681.6 203.5 681.8 196.3 681.2 193.1 679.6 191.1 675.6 193.8 672.4 194.2 668.4 196.3 663.6 195.9 660.4 197.8 657.2 196.9 656.4 197.2 655.6 198.6 655.6 199.6 656.5 201.1 660.4 200.4 663.6 202.3 668.4 201.9 672.4 204.0 675.6 204.4 678.8 207.0 680.0 206.7M646.8 203.5 647.6 202.6 649.2 202.7 648.3 200.3 648.6 199.5 648.3 197.9 649.2 195.5 647.6 195.6 646.0 194.5 645.2 194.8 643.5 194.5 641.9 195.6 640.3 195.5 641.2 197.9 640.9 198.7 641.2 200.3 640.3 202.7 641.9 202.6 643.5 203.7 646.8 203.5M651.5 239.4 661.2 236.3 662.8 235.2 664.1 233.1 664.2 232.3 662.8 230.8 658.8 230.2 658.0 229.1 656.1 224.3 656.5 217.1 654.3 213.9 654.8 212.1 656.4 211.9 659.6 213.3 661.6 216.3 665.1 219.5 665.4 221.1 664.1 223.5 664.0 225.1 666.8 227.1 670.8 226.8 672.4 226.0 676.5 220.3 677.1 216.3 675.4 214.7 667.6 210.6 663.6 204.4 662.8 204.0 658.0 205.0 654.1 203.5 651.2 203.5 652.8 205.9 653.2 207.5 652.0 209.1 649.2 209.3 648.2 209.9 646.8 213.9 645.8 219.5 648.2 224.3 648.3 225.1 647.6 225.9 641.9 225.9 641.2 225.1 643.7 219.5 642.7 213.9 641.3 209.9 640.3 209.3 637.5 209.1 636.3 207.5 636.7 205.9 638.3 203.5 635.4 203.5 631.5 205.0 626.7 204.0 625.9 204.4 621.9 210.6 614.1 214.7 612.4 216.3 613.1 220.7 616.9 225.9 618.7 226.8 621.9 227.3 624.3 226.3 625.5 225.1 625.4 223.5 624.1 221.1 624.4 219.5 627.9 216.3 629.9 213.3 633.1 211.9 634.7 212.1 635.2 213.9 633.0 217.1 633.5 222.7 633.2 225.1 631.0 229.9 626.7 230.8 625.3 232.3 625.7 233.9 628.3 236.3 638.7 239.7 644.3 238.8 649.2 239.7 651.5 239.4" stroke="#ffd000"/><path d="M658.8 289.9 654.8 290.1 645.2 289.2 634.7 290.1 630.7 289.9 626.7 288.7 618.7 284.0 607.5 280.8 602.7 278.0 593.9 268.4 586.1 262.6 582.6 258.6 577.9 247.9 572.1 240.2 570.3 237.1 567.7 222.7 564.7 215.5 564.0 212.3 563.9 208.3 565.0 199.5 563.8 189.1 564.3 184.3 567.7 175.5 570.3 161.1 572.1 158.0 577.9 150.3 582.6 139.6 586.1 135.6 593.9 129.8 600.8 122.0 604.3 119.1 609.1 116.9 617.9 114.5 626.7 109.5 631.5 108.2 644.3 109.0 654.8 108.1 658.8 108.3 662.8 109.5 670.8 114.2 682.0 117.4 686.8 120.2 695.6 129.8 703.4 135.6 706.9 139.6 711.6 150.3 717.4 158.0 719.2 161.1 721.8 175.5 724.8 182.7 725.5 185.9 725.6 189.9 724.5 198.7 725.7 209.1 725.2 213.9 721.8 222.7 719.2 237.1 717.4 240.2 711.6 247.9 706.9 258.6 703.4 262.6 695.6 268.4 688.7 276.2 685.2 279.1 680.4 281.3 671.6 283.7 662.8 288.7 658.8 289.9M652.3 241.0 662.8 236.5 666.8 230.9 673.8 227.5 677.2 222.7 678.5 218.7 679.0 210.7 681.8 206.7 682.7 204.3 682.8 194.7 682.0 191.8 679.0 187.5 678.6 180.3 677.9 177.1 673.8 170.7 667.1 167.5 663.8 162.7 662.0 161.1 651.6 156.8 644.3 157.4 638.7 156.7 627.5 161.1 625.7 162.7 622.7 167.3 616.3 170.3 614.7 171.9 611.3 177.9 610.5 187.5 607.0 193.1 606.4 197.1 606.7 203.5 607.5 206.4 610.5 210.7 610.9 217.9 611.6 221.1 615.7 227.5 622.4 230.7 625.7 235.5 627.5 237.1 637.9 241.4 645.2 240.8 650.8 241.5 652.3 241.0M630.7 180.6 629.9 181.0 628.3 180.6 625.6 177.9 627.3 173.1 626.7 170.5 629.1 170.6 631.9 173.9 632.2 177.1 630.7 180.6M661.2 180.6 659.6 181.0 658.5 180.3 657.4 177.9 657.2 175.5 658.0 173.3 659.6 171.3 662.0 170.4 662.9 170.7 662.2 173.1 663.9 177.9 661.2 180.6M650.0 193.2 648.4 193.7 647.6 192.6 646.8 192.5 644.3 193.6 641.9 192.6 641.1 193.7 640.3 193.7 638.4 191.5 638.7 190.7 639.5 190.5 641.9 191.0 643.5 185.8 644.3 184.5 645.2 184.5 647.6 191.0 650.8 190.7 651.1 191.5 650.0 193.2M622.7 194.8 620.7 194.7 615.3 191.5 614.7 189.9 614.9 187.5 615.5 186.9 617.1 186.8 621.1 188.5 623.3 193.1 622.7 194.8M668.4 194.9 666.8 194.8 666.1 193.9 667.8 189.1 670.8 187.2 674.0 186.9 674.6 187.5 674.9 189.1 674.2 191.5 668.4 194.9M637.9 201.9 636.3 201.8 635.6 201.1 635.6 197.1 636.6 196.3 638.7 196.6 639.7 197.9 639.5 201.1 637.9 201.9M652.4 202.0 650.8 201.6 649.8 200.3 650.0 197.1 652.4 196.2 653.9 197.1 653.9 197.9 653.9 201.1 652.4 202.0M616.3 211.5 614.9 210.7 614.7 209.9 615.3 206.7 621.1 203.3 622.9 203.5 623.3 205.1 621.7 209.1 619.5 210.8 616.3 211.5M673.2 211.5 670.0 210.8 667.8 209.1 666.2 205.1 666.6 203.5 668.4 203.3 674.2 206.7 674.8 209.9 674.6 210.7 673.2 211.5M645.2 213.7 644.3 213.7 643.5 212.4 641.9 207.2 638.7 207.5 638.4 206.7 639.5 205.0 641.1 204.5 641.9 205.6 642.7 205.7 645.2 204.6 647.6 205.6 648.4 204.5 649.2 204.5 650.8 205.9 650.8 207.6 647.6 207.2 645.2 213.7M629.1 227.6 626.6 227.5 627.3 225.1 625.6 220.3 627.5 218.2 629.9 217.2 631.5 218.7 632.3 222.7 631.5 224.9 629.1 227.6M662.8 227.7 660.2 227.5 657.4 223.5 657.7 219.5 658.8 217.6 659.6 217.2 662.0 218.2 663.9 220.3 662.2 225.1 662.8 227.7" stroke="#ffe400"/><path d="M658.0 288.3 646.8 287.6 633.9 288.4 629.9 288.0 626.7 286.9 618.7 282.3 608.3 279.3 603.5 276.5 594.7 266.9 587.5 261.7 583.5 257.1 579.0 246.6 573.5 239.4 571.8 236.3 569.3 222.7 565.6 212.3 565.4 208.3 566.5 199.5 565.4 189.1 565.9 184.3 569.3 175.5 571.8 161.9 573.5 158.8 579.0 151.6 583.5 141.1 587.5 136.5 594.7 131.3 601.9 123.1 605.1 120.5 609.1 118.6 618.7 115.9 626.7 111.3 630.7 110.0 634.7 109.8 642.7 110.6 655.6 109.8 659.6 110.2 662.8 111.3 670.8 115.9 681.2 118.9 686.0 121.7 694.8 131.3 702.0 136.5 706.0 141.1 710.5 151.6 716.0 158.8 717.7 161.9 720.2 175.5 723.9 185.9 724.1 189.9 723.0 198.7 724.1 209.1 723.6 213.9 720.2 222.7 718.6 233.1 717.4 237.1 710.5 246.6 705.5 257.8 701.8 261.8 694.8 266.9 687.6 275.1 684.4 277.7 680.4 279.6 670.8 282.3 662.8 286.9 658.0 288.3M653.0 242.6 657.1 240.2 662.8 238.0 667.6 232.5 670.2 230.7 674.0 229.1 676.2 226.7 680.0 219.5 680.5 217.1 680.4 211.5 683.8 205.1 684.2 201.1 684.0 193.9 682.9 190.7 680.4 186.7 680.5 181.1 680.0 178.7 678.0 174.4 674.8 169.7 667.9 165.9 662.8 160.2 657.1 158.0 652.4 155.3 643.5 155.7 637.9 155.1 626.7 160.2 621.9 165.7 619.3 167.5 615.5 169.1 613.8 170.7 609.5 178.7 609.0 181.1 609.1 186.7 605.7 193.1 605.3 197.1 605.5 204.3 606.6 207.5 609.1 211.5 609.0 217.1 609.5 219.5 611.5 223.8 614.7 228.5 621.6 232.3 626.7 238.0 632.4 240.2 637.1 242.9 646.0 242.5 650.8 243.2 653.0 242.6M629.9 179.0 628.3 179.1 627.0 177.1 627.6 175.5 629.1 174.4 630.3 174.7 631.0 176.3 630.8 177.9 629.9 179.0M661.2 179.1 659.6 179.0 658.7 177.9 658.7 175.5 659.6 174.5 661.2 174.7 662.4 176.3 662.4 177.9 661.2 179.1M645.2 191.9 644.3 191.9 643.9 190.7 644.3 188.5 645.2 188.5 645.6 189.9 645.2 191.9M619.5 191.1 618.7 190.7 618.3 189.9 618.7 189.5 619.7 189.9 620.0 190.7 619.5 191.1M670.8 190.8 670.0 191.1 669.5 190.7 670.0 189.7 671.2 189.9 670.8 190.8M645.2 209.7 644.3 209.7 643.9 208.3 644.3 206.3 645.2 206.3 645.6 207.5 645.2 209.7M619.5 208.5 618.3 208.3 619.5 207.1 620.0 207.5 619.5 208.5M670.8 208.7 669.8 208.3 669.5 207.5 670.0 207.1 670.8 207.5 671.2 208.3 670.8 208.7M629.9 223.7 628.3 223.5 627.0 221.1 627.5 219.7 629.1 218.9 630.3 219.5 631.0 221.1 630.8 222.7 629.9 223.7M660.4 223.8 659.2 223.5 658.5 221.9 658.8 220.2 660.4 218.9 662.0 219.7 662.5 221.1 661.9 222.7 660.4 223.8" stroke="#e1ea00"/><path d="M661.2 285.8 657.2 286.5 648.4 286.0 629.9 286.3 626.6 285.0 618.7 280.5 609.1 277.8 605.1 275.4 595.5 264.8 589.9 261.0 584.9 255.4 580.3 244.6 574.1 236.3 570.8 221.1 568.4 214.7 567.6 209.1 568.6 201.9 568.5 195.5 567.6 189.1 568.4 183.5 570.8 177.1 574.1 161.9 580.3 153.6 584.9 142.8 589.9 137.2 595.5 133.4 603.3 124.4 606.7 121.7 609.1 120.4 618.7 117.7 626.6 113.2 629.9 111.9 659.6 111.9 662.9 113.2 670.8 117.7 681.2 120.8 685.2 123.5 694.0 133.4 699.6 137.2 704.6 142.8 709.2 153.6 715.4 161.9 718.7 177.1 721.1 183.5 721.9 189.1 721.0 195.5 720.9 201.9 721.9 209.1 721.1 214.7 718.7 221.1 715.4 236.3 709.2 244.6 704.6 255.4 699.6 261.0 694.0 264.8 686.8 273.2 683.6 276.0 680.4 277.8 670.8 280.5 661.2 285.8M652.5 244.2 658.0 241.3 663.6 239.1 668.4 233.8 674.8 230.2 676.7 228.3 682.4 217.9 682.6 211.5 684.7 206.7 685.4 203.5 685.3 193.9 682.6 186.7 682.2 179.5 675.6 168.6 668.4 164.4 663.6 159.1 658.0 156.9 653.2 154.2 651.6 153.8 646.8 154.3 637.1 153.9 631.5 156.9 625.9 159.1 621.1 164.4 614.7 168.0 612.8 169.9 607.1 180.3 606.9 186.7 604.8 191.5 604.1 194.7 604.2 204.3 606.9 211.5 607.3 218.7 613.9 229.6 621.1 233.8 625.9 239.1 631.5 241.3 636.3 244.0 638.7 244.4 642.7 243.9 652.5 244.2" stroke="#81f100"/><path d="M660.4 283.4 657.2 284.0 630.7 283.9 625.1 281.6 617.9 277.4 609.9 275.5 606.7 273.5 597.1 262.7 590.7 257.4 586.7 253.0 582.6 242.6 578.3 236.3 576.1 231.5 574.9 221.1 571.8 214.7 571.7 209.9 572.7 205.9 572.7 201.9 573.6 199.5 572.7 196.3 572.7 192.3 571.7 188.3 571.8 183.5 574.9 177.1 576.1 166.7 578.3 161.9 582.6 155.6 586.7 145.2 590.7 140.8 597.1 135.5 605.3 126.0 607.5 124.1 610.7 122.5 617.9 120.8 625.1 116.6 630.7 114.3 658.8 114.3 664.4 116.6 671.6 120.8 679.6 122.7 682.8 124.7 692.4 135.5 698.8 140.8 702.8 145.2 706.9 155.6 711.2 161.9 713.4 166.7 714.6 177.1 717.7 183.5 717.8 188.3 716.8 192.3 716.8 196.3 715.9 198.7 716.8 201.9 716.8 205.9 717.8 209.9 717.7 214.7 714.6 221.1 713.4 231.5 711.2 236.3 706.9 242.6 702.8 253.0 698.8 257.4 692.4 262.7 684.2 272.2 682.0 274.1 678.8 275.7 671.6 277.4 660.4 283.4M653.4 245.0 658.1 242.6 664.4 240.3 670.0 234.5 678.0 230.4 681.2 224.0 684.2 220.3 685.9 214.7 685.5 209.1 687.7 202.7 687.6 194.7 685.5 189.1 685.8 182.7 684.2 177.9 681.2 174.2 678.5 168.3 670.0 163.7 664.4 157.9 652.4 152.8 637.1 152.8 625.1 157.9 619.5 163.7 611.5 167.8 608.3 174.2 605.3 177.9 603.6 183.5 604.0 189.1 601.8 195.5 601.9 203.5 604.0 209.1 603.7 215.5 605.3 220.3 608.3 224.0 611.0 229.9 619.5 234.5 625.1 240.3 637.1 245.4 651.6 245.5 653.4 245.0" stroke="#20f800"/><path d="M658.8 281.9 650.8 282.3 630.7 281.9 624.3 279.0 618.7 275.6 610.7 273.6 608.2 272.2 594.7 257.1 590.7 254.1 589.2 252.2 586.0 245.0 585.0 240.2 582.6 236.3 580.2 233.9 578.5 230.7 578.2 228.3 579.4 221.1 576.7 217.1 574.8 212.3 575.1 204.3 577.3 198.7 575.2 194.7 574.6 187.5 575.9 182.7 579.4 177.1 578.3 168.3 579.7 165.1 582.7 161.8 585.0 158.0 586.0 153.2 589.2 146.0 590.7 144.1 594.7 141.1 608.3 125.9 610.7 124.6 618.7 122.6 627.5 117.5 631.5 116.1 650.8 115.9 658.8 116.3 665.2 119.2 670.8 122.6 678.8 124.6 681.3 126.0 694.8 141.1 698.8 144.1 700.3 146.0 703.5 153.2 704.5 158.0 706.9 161.9 709.3 164.3 711.0 167.5 711.3 169.9 710.1 177.1 712.8 181.1 714.7 185.9 714.4 193.9 712.2 199.5 714.3 203.5 714.9 210.7 713.6 215.5 710.1 221.1 711.2 229.9 709.8 233.1 706.8 236.4 704.5 240.2 703.5 245.0 700.3 252.2 698.8 254.1 694.8 257.1 681.2 272.3 678.8 273.6 670.8 275.6 665.2 279.0 658.8 281.9M652.3 246.6 664.4 242.3 670.0 237.7 676.1 233.9 680.2 232.3 681.2 231.0 681.9 227.5 682.8 225.8 686.7 224.3 687.3 223.5 687.2 220.3 689.0 214.7 691.2 210.7 691.6 206.7 690.6 199.5 690.8 194.7 691.6 191.5 691.2 187.5 689.0 183.5 687.2 177.9 687.3 174.7 686.7 173.9 682.8 172.4 681.9 170.7 681.2 167.2 680.2 165.9 676.1 164.3 670.0 160.5 664.4 155.9 658.8 154.2 653.2 151.8 637.9 151.4 625.1 155.9 619.5 160.5 613.4 164.3 609.3 165.9 608.3 167.2 607.6 170.7 606.7 172.4 602.8 173.9 602.2 174.7 602.3 177.9 600.5 183.5 598.3 187.5 597.9 191.5 598.9 198.7 598.7 203.5 597.9 206.7 598.3 210.7 600.5 214.7 602.3 220.3 602.2 223.5 602.8 224.3 606.7 225.8 607.6 227.5 608.3 231.0 609.3 232.3 613.4 233.9 619.5 237.7 625.1 242.3 630.7 244.0 636.3 246.4 644.3 246.9 652.3 246.6" stroke="#00fa00"/><path d="M658.8 280.4 651.6 280.9 645.2 280.5 637.9 280.9 631.5 280.6 628.3 279.5 620.3 274.6 611.5 272.0 609.0 270.6 595.5 255.4 592.3 253.0 591.2 251.4 588.1 244.2 587.5 238.4 581.1 230.7 581.0 228.3 582.5 225.9 582.1 222.7 582.8 218.7 581.9 217.4 578.9 215.5 577.1 210.0 577.4 204.3 580.6 199.5 580.3 197.8 577.1 193.1 577.1 188.2 578.9 182.7 581.9 180.8 582.8 179.5 582.1 175.5 582.5 172.3 581.0 169.9 580.8 168.3 581.5 166.7 584.3 164.1 587.5 159.8 588.1 154.0 591.5 146.2 595.5 142.8 609.1 127.5 611.5 126.2 620.3 123.6 628.3 118.7 631.5 117.6 637.9 117.3 645.2 117.7 651.6 117.3 658.8 117.8 669.2 123.6 678.0 126.2 680.5 127.6 694.0 142.8 697.2 145.2 698.3 146.8 701.4 154.0 702.0 159.8 708.4 167.5 708.5 169.9 707.0 172.3 707.4 175.5 706.7 179.5 707.6 180.8 710.6 182.7 712.4 188.2 712.1 193.9 708.9 198.7 709.2 200.4 712.4 205.1 712.4 210.0 710.6 215.5 707.6 217.4 706.7 218.7 707.4 222.7 707.0 225.9 708.5 228.3 708.7 229.9 708.0 231.5 705.2 234.1 702.0 238.4 701.4 244.2 698.0 252.0 694.0 255.4 680.4 270.7 678.0 272.0 669.2 274.6 658.8 280.4M651.3 248.2 660.4 244.8 665.2 243.6 676.4 236.2 680.4 235.6 682.0 233.9 684.4 228.4 691.0 225.1 691.5 223.5 691.0 219.5 694.4 213.1 695.1 209.9 696.4 207.5 696.5 206.7 694.7 204.3 694.2 202.7 695.4 199.5 694.3 194.7 696.4 191.7 696.4 190.7 695.1 188.3 694.4 185.1 691.0 178.7 691.5 174.7 691.0 173.1 684.4 169.8 682.0 164.3 680.4 162.6 676.4 162.0 665.2 154.6 659.6 153.2 653.2 150.4 650.0 149.8 638.7 149.9 629.1 153.4 624.3 154.6 613.1 162.0 609.1 162.6 607.5 164.3 605.1 169.8 598.5 173.1 598.0 174.7 598.5 178.7 595.1 185.1 594.4 188.3 593.1 190.7 593.0 191.5 594.8 193.9 595.3 195.5 594.1 198.7 595.2 203.5 593.1 206.5 593.1 207.5 594.4 209.9 595.1 213.1 598.5 219.5 598.0 223.5 598.5 225.1 605.1 228.4 607.5 233.9 609.1 235.6 613.1 236.2 624.3 243.6 629.9 245.0 636.3 247.8 639.5 248.4 651.3 248.2" stroke="#00fa00"/><path d="M657.2 279.4 651.6 279.7 645.2 278.9 637.9 279.7 631.5 279.3 628.3 278.1 621.1 273.6 614.7 271.7 610.7 269.9 602.7 262.1 596.7 254.6 593.2 251.4 590.0 242.6 589.3 237.9 586.7 234.6 583.9 229.9 584.7 225.9 584.2 222.7 584.5 218.7 583.2 213.9 586.8 205.9 585.1 204.6 581.9 205.3 581.1 205.1 580.7 204.3 581.9 202.4 585.1 202.7 587.3 200.3 587.7 198.7 585.1 195.5 581.9 195.8 580.7 193.9 581.1 193.1 581.9 192.9 585.1 193.6 586.8 192.3 583.2 184.3 584.5 179.5 584.2 175.5 584.7 172.3 583.9 168.3 586.7 163.6 589.3 160.3 590.0 155.6 592.7 147.6 597.1 143.1 602.7 136.1 610.6 128.4 614.7 126.5 621.1 124.6 629.1 119.7 632.3 118.8 637.9 118.5 644.3 119.3 651.6 118.5 658.0 118.9 661.2 120.1 668.4 124.6 674.8 126.5 678.8 128.3 686.8 136.1 692.8 143.6 696.3 146.8 699.5 155.6 700.2 160.3 702.8 163.6 705.6 168.3 704.8 172.3 705.3 175.5 705.0 179.5 706.3 184.3 702.7 192.3 704.4 193.6 707.6 192.9 708.4 193.1 708.8 193.9 707.6 195.8 704.4 195.5 702.2 197.9 701.8 199.5 704.4 202.7 707.6 202.4 708.8 204.3 708.4 205.1 707.6 205.3 704.4 204.6 702.7 205.9 706.3 213.9 705.0 218.7 705.3 222.7 704.8 225.9 705.6 229.9 702.8 234.6 700.2 237.9 699.5 242.6 696.8 250.6 692.4 255.1 686.8 262.1 678.9 269.8 674.8 271.7 668.4 273.6 660.4 278.5 657.2 279.4M650.6 249.8 654.0 248.9 660.4 245.9 666.8 244.4 674.8 238.9 680.4 238.1 682.8 235.3 685.8 229.9 692.2 225.9 693.0 224.3 693.3 220.3 695.3 216.3 699.3 211.5 700.0 205.9 697.7 202.7 698.4 199.5 697.7 195.5 700.0 192.3 700.1 191.5 699.3 189.1 699.3 186.7 695.7 182.7 693.3 177.9 692.7 173.1 690.8 171.2 685.8 168.3 682.8 162.9 680.4 160.1 674.8 159.3 672.2 158.0 667.1 154.0 660.4 152.3 652.4 148.8 650.0 148.3 645.2 148.7 638.9 148.4 635.5 149.3 629.1 152.3 622.7 153.8 614.7 159.3 609.1 160.1 606.7 162.9 603.7 168.3 597.3 172.3 596.5 173.9 596.2 177.9 594.2 181.9 590.2 186.7 589.5 192.3 591.8 195.5 591.1 198.7 591.8 202.7 589.5 205.9 589.4 206.7 590.2 209.1 590.2 211.5 593.8 215.5 596.2 220.3 596.8 225.1 598.7 227.0 603.7 229.9 606.7 235.3 609.1 238.1 614.7 238.9 617.3 240.2 622.4 244.2 629.1 245.9 637.1 249.4 639.5 249.9 644.3 249.5 650.6 249.8" stroke="#00fa00"/><path d="M702.0 182.9 699.6 182.9 697.2 181.7 694.8 172.3 686.9 166.7 680.4 158.4 674.8 157.8 672.4 156.5 668.4 153.1 661.2 151.4 654.0 147.8 651.6 147.2 639.5 147.1 636.3 147.6 628.3 151.4 621.1 153.1 617.1 156.5 614.7 157.8 609.1 158.4 602.6 166.7 594.7 172.3 592.7 181.1 591.5 182.4 589.1 183.1 587.5 182.9 586.6 181.9 587.4 175.5 588.6 173.9 592.3 172.5 593.1 171.5 592.3 170.1 591.0 169.1 587.8 168.3 587.3 166.7 589.1 164.1 593.1 165.8 594.7 165.4 595.5 164.5 595.2 162.7 592.3 160.4 591.7 158.8 594.1 148.4 600.6 141.2 603.5 137.0 611.5 129.2 615.5 127.4 621.9 125.5 627.5 121.8 631.5 120.0 637.9 119.5 645.2 120.6 651.6 119.5 656.4 119.7 660.4 120.9 667.6 125.5 674.0 127.4 678.0 129.2 686.0 137.0 689.2 141.5 694.9 147.6 696.0 150.0 697.8 158.8 697.2 160.4 694.3 162.7 693.9 164.3 694.8 165.4 696.4 165.8 700.4 164.1 702.0 165.9 702.0 168.0 698.0 169.4 696.4 171.5 696.8 172.3 700.4 173.6 701.7 174.7 703.0 180.3 702.8 182.3 702.0 182.9M654.8 278.6 650.8 278.6 645.2 277.6 637.9 278.7 631.5 278.2 627.5 276.4 621.9 272.7 613.9 270.2 610.6 268.2 603.4 261.0 600.6 257.0 594.1 249.8 591.7 239.4 592.3 237.8 595.2 235.5 595.6 233.9 594.7 232.8 593.1 232.4 589.1 234.1 587.5 232.3 587.5 230.2 591.5 228.8 593.1 226.7 592.7 225.9 589.1 224.6 587.8 223.5 586.6 218.7 586.6 216.3 587.0 215.5 589.9 215.3 592.3 216.5 594.7 225.9 602.6 231.5 609.1 239.8 614.7 240.4 617.1 241.7 621.1 245.1 628.3 246.8 635.5 250.4 639.5 251.1 644.3 250.7 650.0 251.1 653.2 250.6 661.2 246.8 668.4 245.1 672.4 241.7 674.8 240.4 680.4 239.8 686.9 231.5 694.8 225.9 697.2 216.5 699.6 215.3 702.5 215.5 702.9 216.3 702.9 218.7 701.7 223.5 700.4 224.6 696.8 225.9 696.4 226.7 698.0 228.8 702.0 230.2 702.0 232.3 700.4 234.1 696.4 232.4 694.8 232.8 693.9 233.9 694.3 235.5 697.2 237.8 697.8 239.4 696.0 248.2 694.8 250.8 689.2 256.7 686.0 261.2 678.0 269.0 674.0 270.8 667.6 272.7 659.6 277.7 654.8 278.6" stroke="#00fa00"/><path d="M693.2 168.9 690.9 167.5 680.4 157.0 674.0 155.7 669.2 152.2 661.2 150.4 654.8 146.8 652.4 146.2 636.3 146.4 628.3 150.4 621.1 151.9 615.5 155.7 608.8 157.2 598.6 167.5 596.3 168.9 595.9 168.3 598.0 165.1 598.4 163.5 597.5 161.9 594.4 159.5 593.6 157.2 595.8 148.4 601.8 142.0 605.6 136.4 613.1 129.4 621.9 126.5 627.5 122.8 632.3 120.8 637.1 120.5 645.2 121.7 651.6 120.5 655.6 120.6 661.2 122.4 667.6 126.5 674.0 128.4 677.3 130.0 684.7 137.2 687.7 142.0 693.1 147.6 694.5 150.0 695.9 157.2 695.1 159.5 692.0 161.9 691.1 163.5 691.5 165.1 693.6 168.3 693.2 168.9M658.0 277.1 652.4 277.7 644.3 276.5 637.9 277.7 633.1 277.5 628.3 275.8 621.9 271.7 615.5 269.8 612.2 268.2 604.8 261.0 601.8 256.2 595.3 249.0 593.7 240.2 594.4 238.7 597.5 236.3 598.4 234.7 598.0 233.1 595.9 229.9 596.3 229.3 597.1 229.6 598.6 230.7 608.8 241.0 615.5 242.5 621.1 246.3 628.3 247.8 636.3 251.8 650.0 252.1 654.6 251.4 661.2 247.8 668.4 246.3 674.0 242.5 680.4 241.2 690.9 230.7 693.2 229.3 693.6 229.9 691.5 233.1 691.1 234.7 692.0 236.3 695.1 238.7 695.9 241.0 694.5 248.2 693.2 250.6 687.7 256.2 684.7 261.0 677.3 268.2 674.0 269.8 666.8 272.0 662.0 275.4 658.0 277.1" stroke="#00f918"/><path d="M691.6 159.6 688.4 158.4 685.2 159.1 684.4 158.9 681.2 156.2 673.2 153.7 669.2 151.1 661.2 149.4 654.8 145.8 651.6 145.2 635.5 145.5 628.3 149.4 620.3 151.1 616.3 153.7 609.1 155.8 604.3 159.1 601.1 158.4 598.7 159.4 597.1 159.4 596.0 158.8 595.3 157.2 596.6 153.2 596.6 150.0 597.4 148.4 602.9 142.8 606.1 137.2 613.1 130.4 622.7 127.2 628.3 123.4 633.1 121.6 637.1 121.4 645.2 122.6 654.0 121.3 658.8 122.3 662.0 123.8 666.8 127.2 675.6 130.0 682.6 136.4 684.6 138.8 686.6 142.8 692.5 149.2 692.9 153.2 694.2 157.2 693.5 158.8 691.6 159.6M657.2 276.4 652.4 276.8 644.3 275.6 637.1 276.8 633.1 276.6 628.3 274.8 622.7 271.0 613.1 267.8 606.1 261.0 602.9 255.4 597.4 249.8 596.6 248.2 596.6 245.0 595.4 241.8 595.5 240.1 596.3 239.2 597.9 238.6 601.1 239.8 604.3 239.1 609.1 242.4 616.3 244.5 620.3 247.1 628.3 248.8 636.3 252.9 650.8 253.1 654.8 252.4 661.2 248.8 669.2 247.1 673.2 244.5 680.4 242.4 685.2 239.1 688.4 239.8 691.6 238.6 693.5 239.4 694.2 241.0 692.9 245.0 692.5 249.0 686.6 255.4 684.6 259.4 682.6 261.8 675.6 268.2 666.8 271.0 661.6 274.6 657.2 276.4" stroke="#00f848"/><path d="M686.8 156.6 684.4 156.9 677.2 153.4 673.2 152.3 670.0 150.4 661.2 148.4 655.3 145.2 652.4 144.3 635.5 144.7 628.3 148.4 619.5 150.4 616.3 152.3 612.3 153.4 604.3 157.0 602.7 156.6 599.8 154.8 600.2 152.4 599.2 150.8 599.0 149.2 603.9 143.6 606.7 137.9 612.3 132.2 614.7 130.6 622.7 128.1 628.3 124.4 633.1 122.5 637.1 122.2 645.2 123.4 654.8 122.2 660.4 124.0 667.6 128.4 675.2 130.8 682.1 137.2 683.9 139.6 685.6 143.6 690.5 149.2 690.3 150.8 689.3 152.4 689.7 154.8 686.8 156.6M657.2 275.5 653.2 276.0 644.3 274.8 637.1 276.0 633.9 275.9 629.1 274.2 622.7 270.1 614.3 267.4 606.7 260.3 603.9 254.6 599.3 249.8 598.9 248.2 600.2 245.8 599.8 243.4 602.7 241.6 605.1 241.3 612.3 244.8 616.3 245.9 619.5 247.8 628.3 249.8 635.5 253.5 651.6 253.9 654.8 253.3 661.2 249.8 670.0 247.8 673.2 245.9 677.2 244.8 684.4 241.3 686.0 241.3 689.0 242.6 689.7 243.4 689.3 245.8 690.3 247.4 690.5 249.0 685.6 254.6 683.9 258.6 682.0 261.2 675.6 267.2 666.8 270.1 661.2 273.8 657.2 275.5" stroke="#00f678"/><path d="M685.2 155.6 674.0 151.5 670.8 149.6 661.2 147.4 654.8 144.1 652.4 143.5 646.0 144.1 637.9 143.5 635.5 143.9 628.3 147.4 619.5 149.3 615.5 151.5 604.3 155.6 603.0 154.8 602.5 151.6 601.4 149.2 602.2 147.6 605.1 144.4 607.5 138.4 613.1 132.7 615.5 131.2 621.9 129.3 629.1 124.9 633.9 123.2 637.1 123.1 641.9 124.1 646.0 124.2 654.0 123.0 658.8 124.2 666.8 128.9 674.8 131.6 681.2 137.5 682.8 139.6 684.4 144.4 687.3 147.6 688.1 149.2 687.0 151.6 686.5 154.8 685.2 155.6M656.4 274.8 653.2 275.2 647.6 274.1 643.5 274.0 637.1 275.1 633.9 275.0 629.1 273.3 621.9 268.9 614.7 266.6 607.5 259.8 605.1 253.8 601.7 249.8 601.4 249.0 602.5 246.6 603.0 243.4 604.2 242.6 605.1 242.7 615.5 246.7 618.7 248.6 628.3 250.8 636.3 254.5 646.0 254.1 651.6 254.7 654.8 254.1 661.2 250.8 670.0 248.9 674.0 246.7 684.4 242.7 686.0 242.9 686.8 244.2 687.0 246.6 688.1 249.0 687.3 250.6 684.4 253.8 682.8 258.6 681.2 260.7 674.8 266.6 666.8 269.3 660.4 273.3 656.4 274.8" stroke="#00f4a8"/><path d="M684.4 153.6 682.0 153.3 674.8 150.7 670.8 148.5 661.2 146.4 654.8 143.4 652.4 142.8 646.0 143.4 636.3 142.9 628.3 146.4 618.7 148.5 614.7 150.7 605.9 153.7 604.7 153.2 603.7 149.2 604.8 147.6 606.9 146.8 607.2 141.2 608.3 138.9 613.1 134.1 616.3 131.9 621.9 130.1 629.9 125.5 633.9 124.1 636.3 123.8 641.9 124.9 646.8 125.0 654.0 123.8 659.6 125.5 667.6 130.1 674.0 132.3 677.2 134.8 682.1 140.4 682.6 146.8 685.5 148.4 685.7 150.0 684.4 153.6M656.4 273.9 653.2 274.4 647.6 273.3 642.7 273.2 637.1 274.3 633.9 274.1 629.9 272.7 621.9 268.1 615.5 265.9 612.3 263.4 607.8 258.6 607.1 256.2 606.9 251.4 604.8 250.6 603.7 249.0 604.7 245.0 605.9 244.5 607.5 244.9 615.5 247.8 618.7 249.7 628.3 251.8 636.3 255.3 646.0 254.8 651.6 255.4 654.8 254.8 662.0 251.5 670.8 249.7 674.8 247.5 682.0 244.9 684.4 244.6 685.8 249.0 684.7 250.6 682.6 251.4 682.3 257.0 680.4 260.2 674.0 265.9 667.6 268.1 659.6 272.7 656.4 273.9" stroke="#00f3d8"/><path d="M680.4 150.8 675.6 149.9 670.8 147.5 661.2 145.5 653.2 142.2 644.3 142.8 637.9 142.1 634.7 142.6 628.3 145.5 618.7 147.5 613.7 150.0 609.1 150.8 608.8 150.0 610.0 146.8 608.5 143.6 608.4 141.2 609.9 138.6 615.5 133.7 621.9 131.0 632.3 125.4 636.3 124.7 641.1 125.6 647.6 125.7 654.8 124.8 658.8 126.0 667.6 131.0 673.2 133.2 679.6 138.6 680.9 140.4 681.2 142.0 679.5 146.8 680.7 150.0 680.4 150.8M656.4 273.1 653.2 273.5 648.4 272.6 641.9 272.5 637.1 273.5 633.9 273.3 629.9 271.8 621.9 267.2 616.4 265.0 613.0 262.6 608.6 257.8 608.5 254.6 610.0 251.4 608.8 248.2 609.1 247.4 613.7 248.2 618.7 250.7 628.3 252.7 634.7 255.6 637.9 256.1 644.3 255.4 653.2 256.0 661.2 252.7 670.8 250.7 675.6 248.3 680.4 247.4 680.7 248.2 679.5 251.4 681.2 256.2 679.8 259.4 676.4 262.8 673.2 265.0 667.6 267.2 659.6 271.8 656.4 273.1" stroke="#00def1"/><path d="M677.2 148.7 674.8 148.3 670.8 146.4 660.4 144.4 654.8 141.8 652.4 141.4 646.0 142.2 635.5 141.6 629.1 144.4 618.7 146.4 614.7 148.3 612.3 148.7 609.6 142.0 610.5 139.6 614.7 135.6 631.5 126.5 635.5 125.5 641.9 126.4 648.4 126.3 654.8 125.6 659.6 127.2 672.4 134.1 678.2 138.8 679.5 140.4 679.9 142.0 677.2 148.7M656.4 272.3 653.2 272.7 648.4 271.9 641.9 271.8 635.5 272.7 629.9 271.0 615.5 263.1 610.5 258.6 609.6 256.2 612.0 249.8 613.9 249.6 618.7 251.8 628.3 253.5 634.7 256.4 637.1 256.8 644.3 256.0 653.2 256.8 661.2 253.5 670.8 251.8 675.6 249.6 677.5 249.8 679.9 256.2 678.8 258.8 673.2 263.6 659.6 271.0 656.4 272.3" stroke="#00b7f4"/><path d="M675.6 146.8 668.4 144.6 660.4 143.7 655.6 141.3 652.4 140.7 645.2 141.5 635.5 140.8 629.1 143.7 621.1 144.6 613.9 146.8 611.0 142.0 611.5 140.4 614.7 137.0 631.5 127.2 635.5 126.3 641.1 127.0 654.8 126.4 659.6 127.9 675.9 138.0 678.0 140.4 678.5 142.0 675.6 146.8M656.4 271.5 653.2 271.9 648.4 271.2 641.1 271.2 635.5 271.9 631.5 271.0 614.7 261.2 611.5 257.8 611.2 255.4 613.1 252.1 613.9 251.4 614.7 251.4 621.1 253.6 629.1 254.5 635.5 257.4 645.2 256.7 653.2 257.5 655.6 256.9 660.4 254.5 668.4 253.6 675.7 251.4 678.5 256.2 678.0 257.8 675.9 260.2 659.6 270.3 656.4 271.5" stroke="#008ff6"/><path d="M674.8 145.2 668.4 143.2 660.4 142.9 654.0 140.0 646.0 140.7 635.5 140.0 629.1 142.9 621.1 143.2 615.5 145.3 613.9 144.6 612.6 142.0 613.3 140.4 616.3 137.2 619.5 135.7 624.3 132.0 632.3 127.6 635.5 127.1 641.1 127.6 654.8 127.1 659.6 128.6 665.7 132.4 669.2 135.2 674.2 138.0 676.2 140.4 676.9 142.0 676.4 143.6 674.8 145.2M657.2 270.6 654.0 271.1 648.4 270.6 635.5 271.1 632.3 270.6 625.0 266.6 620.3 263.0 615.5 260.4 612.8 257.0 612.8 255.4 613.9 253.6 615.5 252.9 621.1 255.0 629.1 255.3 635.5 258.2 646.0 257.5 653.2 258.2 655.6 257.8 661.2 255.1 668.4 255.0 674.0 252.9 675.6 253.6 676.9 256.2 676.2 257.8 674.2 260.2 669.2 263.0 664.5 266.6 657.2 270.6" stroke="#0067f9"/><path d="M674.8 142.8 673.2 143.5 668.4 141.8 661.2 142.4 656.4 139.8 654.0 139.2 647.6 139.9 634.7 139.3 629.1 142.2 625.9 142.5 621.1 141.8 616.3 143.5 614.7 142.8 614.6 142.0 616.5 138.8 620.3 136.8 625.1 132.4 632.3 128.3 634.7 127.8 640.3 128.3 654.8 127.8 658.8 129.0 665.5 133.2 669.2 136.8 673.2 139.0 674.7 141.2 674.8 142.8M657.2 269.9 654.0 270.4 649.2 269.9 635.5 270.4 632.3 269.9 625.1 265.8 620.3 261.4 616.5 259.4 614.8 257.0 614.7 255.4 616.3 254.7 621.1 256.4 628.3 255.8 634.7 258.9 647.6 258.3 654.0 259.0 656.4 258.4 661.2 255.8 668.4 256.4 673.2 254.7 674.8 255.4 674.7 257.0 673.0 259.4 669.2 261.4 664.4 265.8 657.2 269.9" stroke="#0040fb"/><path d="M665.2 141.3 660.4 141.4 657.2 139.2 654.8 138.5 649.2 139.2 645.2 138.8 640.3 139.2 634.7 138.5 632.3 139.2 629.1 141.4 626.7 141.7 623.5 140.9 622.0 139.6 621.8 138.8 624.5 134.0 630.3 130.0 633.1 128.7 640.3 129.0 645.2 128.6 649.2 129.0 654.8 128.5 658.8 129.8 665.8 134.8 667.7 138.8 666.8 140.4 665.2 141.3M657.2 269.2 654.8 269.7 649.2 269.2 645.2 269.6 640.3 269.2 633.1 269.5 630.3 268.2 624.5 264.2 622.1 260.2 622.0 258.6 624.0 257.0 627.5 256.5 629.8 257.0 632.3 259.0 634.7 259.7 640.3 259.0 644.3 259.4 649.2 259.0 654.8 259.7 657.2 259.0 659.7 257.0 662.0 256.5 665.2 256.9 666.8 257.8 667.7 259.4 665.8 263.4 657.2 269.2" stroke="#0018fe"/><path d="M663.6 140.6 660.4 140.5 657.2 138.1 655.6 137.7 649.2 138.5 644.3 137.7 640.3 138.5 634.7 137.6 632.3 138.1 629.4 140.4 627.5 140.9 625.1 140.1 624.4 138.0 625.1 135.6 626.4 134.0 633.1 129.5 635.5 129.2 640.3 129.8 645.2 129.3 649.2 129.8 654.8 129.2 658.9 130.8 663.9 134.8 665.2 138.8 663.6 140.6M654.8 269.0 649.2 268.4 645.2 268.9 640.3 268.4 635.5 269.0 633.1 268.7 629.4 266.6 625.6 263.4 624.3 259.4 625.5 257.8 627.5 257.3 629.1 257.7 632.3 260.1 633.9 260.5 640.3 259.7 645.2 260.5 649.2 259.7 654.8 260.6 657.2 260.1 661.2 257.4 664.4 258.1 665.1 260.2 663.9 263.4 658.9 267.4 654.8 269.0" stroke="#0f00ff"/><path d="M661.2 139.6 657.2 136.9 654.0 136.9 649.2 137.8 645.2 136.2 640.3 137.8 635.5 136.9 632.3 136.9 628.3 139.6 626.7 138.9 626.5 138.0 628.4 134.0 633.9 130.0 639.5 130.7 644.3 130.2 650.0 130.7 654.8 129.9 657.1 130.8 661.1 134.0 663.0 138.0 662.8 138.9 661.2 139.6M654.8 268.3 650.0 267.5 645.2 268.0 639.5 267.5 633.9 268.2 628.4 264.2 626.7 261.0 626.6 259.4 628.3 258.6 630.7 260.6 633.1 261.4 640.3 260.4 645.2 262.0 649.2 260.4 656.4 261.4 658.8 260.6 661.2 258.6 662.8 259.3 662.8 261.0 661.1 264.2 657.1 267.4 654.8 268.3" stroke="#3500ff"/><path d="M651.6 136.4 650.0 136.8 648.4 136.5 645.2 133.6 643.5 134.2 641.1 136.5 639.5 136.8 633.9 135.4 632.3 134.8 632.2 134.0 633.6 131.6 634.7 131.0 639.5 131.9 650.8 131.8 654.0 131.0 655.9 131.6 657.3 134.0 657.2 134.8 651.6 136.4M655.6 266.9 654.0 267.2 650.8 266.4 644.3 266.2 638.7 266.4 634.7 267.2 633.6 266.6 632.2 264.2 632.3 263.4 633.9 262.8 639.5 261.4 641.1 261.7 643.5 264.0 645.2 264.6 648.2 261.8 650.0 261.4 657.2 263.4 656.9 265.0 655.6 266.9" stroke="#5c00ff"/></g></g><clipPath id="lbb"><rect x="524.5" y="79.6" width="83" height="39"/></clipPath><rect x="524.5" y="79.6" width="83" height="39" fill="#fff"/><g clip-path="url(#lbb)"><path d="M550.1 78.6V319.6M597.5 78.6V319.6M644.8 78.6V319.6M692.0 78.6V319.6M739.4 78.6V319.6" stroke="#9898f5" stroke-width="1.4" stroke-dasharray="1.8 2.8" fill="none"/><path d="M523.5 293.5H766.0M523.5 246.3H766.0M523.5 199.1H766.0M523.5 151.9H766.0M523.5 104.7H766.0" stroke="#babaf8" stroke-width="1.2" stroke-dasharray="1.8 2.8" fill="none"/></g><rect x="523.5" y="78.6" width="242.5" height="241.0" fill="none" stroke="#000" stroke-width="2"/><path d="M550.1 319.6v14M523.5 293.5h-14M597.5 319.6v14M523.5 246.3h-14M644.8 319.6v14M523.5 199.1h-14M692.0 319.6v14M523.5 151.9h-14M739.4 319.6v14M523.5 104.7h-14" stroke="#000" stroke-width="2" fill="none"/><text x="548.0" y="357.3" text-anchor="middle" font-size="18">−4</text><text x="501.5" y="300.0" text-anchor="end" font-size="18">−4</text><text x="595.4" y="357.3" text-anchor="middle" font-size="18">−2</text><text x="501.5" y="252.8" text-anchor="end" font-size="18">−2</text><text x="644.5" y="357.3" text-anchor="middle" font-size="18">0</text><text x="501.5" y="205.6" text-anchor="end" font-size="18">0</text><text x="691.8" y="357.3" text-anchor="middle" font-size="18">2</text><text x="501.5" y="158.4" text-anchor="end" font-size="18">2</text><text x="739.1" y="357.3" text-anchor="middle" font-size="18">4</text><text x="501.5" y="111.2" text-anchor="end" font-size="18">4</text><g transform="translate(644.75 387.40)"><text x="-96.91" y="0.00" font-size="18.9">momentum</text><text x="3.50" y="0.00" font-size="18.5">(10</text><text x="30.77" y="-12.70" font-size="12">5</text><text x="43.57" y="0.00" font-size="18.5" font-style="italic">u</text><text x="59.22" y="0.00" font-size="18.5">m/s)</text></g><g transform="translate(460.50 197.60) rotate(-90)"><text x="-96.91" y="0.00" font-size="18.9">momentum</text><text x="3.50" y="0.00" font-size="18.5">(10</text><text x="30.77" y="-12.70" font-size="12">5</text><text x="43.57" y="0.00" font-size="18.5" font-style="italic">u</text><text x="59.22" y="0.00" font-size="18.5">m/s)</text></g><text x="530.85" y="113.10" font-size="25">(b) C</text><text x="585.82" y="95.75" font-size="16.5">2+</text><rect x="774.2" y="84.8" width="6.3" height="70.7" fill="url(#cbg)" stroke="#000" stroke-width="1.5"/><path d="M781.3 149.3h4.5" stroke="#000" stroke-width="2"/><text x="793.5" y="155.8" font-size="18">0</text><path d="M781.3 117.4h4.5" stroke="#000" stroke-width="2"/><text x="793.5" y="123.9" font-size="18">2</text><path d="M781.3 85.4h4.5" stroke="#000" stroke-width="2"/><text x="793.5" y="91.9" font-size="18">4</text><text transform="translate(780.5 168.1) rotate(90)" font-size="18">×10<tspan font-size="13" dy="-13">−4</tspan></text><path d="M923.6 78.6V319.6M971.0 78.6V319.6M1018.2 78.6V319.6M1065.5 78.6V319.6M1112.8 78.6V319.6" stroke="#9898f5" stroke-width="1.4" stroke-dasharray="1.8 2.8" fill="none"/><path d="M897.0 293.5H1139.5M897.0 246.3H1139.5M897.0 199.1H1139.5M897.0 151.9H1139.5M897.0 104.7H1139.5" stroke="#babaf8" stroke-width="1.2" stroke-dasharray="1.8 2.8" fill="none"/><clipPath id="clipc"><rect x="897.0" y="78.6" width="242.5" height="241.0"/></clipPath><g clip-path="url(#clipc)"><g fill="none" stroke-width="1.9" stroke-linejoin="round" stroke-linecap="round"><path d="M985.0 103.7 982.5 103.6 981.2 101.2 982.0 98.8 984.2 97.5 985.8 98.1 986.8 100.4 986.3 102.8 985.0 103.7M1053.9 103.7 1051.5 103.7 1049.9 102.2 1049.9 99.4 1051.5 97.6 1053.7 98.0 1055.0 99.6 1055.2 102.0 1053.9 103.7M1064.3 289.3 1061.1 289.1 1057.1 286.9 1055.5 285.0 1053.1 279.9 1052.3 279.3 1047.3 281.0 1046.3 282.6 1045.3 286.6 1043.6 288.2 1041.9 288.8 1040.3 288.9 1038.4 288.2 1036.8 284.2 1036.3 284.1 1017.8 286.0 1001.0 284.0 999.7 284.2 998.1 288.2 996.2 288.9 993.8 288.5 991.8 287.4 990.8 285.8 989.9 281.8 989.2 281.0 985.0 279.3 983.4 279.9 981.0 285.0 979.4 286.9 976.2 288.8 973.0 289.5 971.4 288.9 970.3 287.4 967.1 277.0 961.8 266.1 955.5 259.4 951.1 253.0 946.6 248.7 943.4 248.3 941.0 249.5 931.4 261.6 929.0 263.6 926.6 264.6 924.2 264.7 922.6 264.1 917.8 260.2 913.0 257.4 911.1 253.8 911.0 249.8 916.5 241.8 916.8 239.4 915.4 236.3 913.8 234.2 906.6 231.4 904.2 229.3 903.6 227.5 903.5 224.3 904.7 218.7 905.8 217.4 907.4 216.7 917.0 216.1 918.6 216.5 919.6 217.9 919.7 219.5 916.7 226.7 917.0 229.3 918.6 230.2 929.0 231.8 931.4 231.1 933.0 229.1 933.7 226.7 934.0 220.3 933.0 213.2 930.3 203.5 930.5 193.1 932.6 186.7 934.0 177.9 933.7 171.5 932.6 168.3 930.7 166.7 929.0 166.4 917.6 168.3 916.6 169.9 916.7 171.5 919.4 177.1 919.7 179.5 919.2 181.1 917.8 182.0 906.6 181.3 905.0 179.9 904.1 177.9 903.5 172.3 904.2 168.9 906.6 166.8 913.8 164.0 915.4 161.9 916.8 158.8 916.5 156.4 911.0 148.4 911.1 144.4 913.0 140.8 917.8 138.0 922.6 134.1 924.2 133.5 926.6 133.6 929.0 134.6 931.4 136.6 941.0 148.7 943.4 149.9 946.6 149.5 951.1 145.2 955.5 138.8 961.8 132.1 967.1 121.2 970.3 110.8 971.4 109.3 973.0 108.7 976.2 109.4 979.4 111.3 981.0 113.2 983.4 118.3 985.0 118.9 989.2 117.2 989.9 116.4 990.8 112.4 991.8 110.8 993.8 109.7 996.2 109.3 998.1 110.0 999.7 114.0 1001.0 114.2 1017.8 112.2 1036.3 114.1 1036.8 114.0 1038.4 110.0 1040.3 109.3 1041.9 109.4 1043.6 110.0 1045.3 111.6 1046.3 115.6 1047.3 117.2 1052.3 118.9 1053.1 118.3 1055.5 113.2 1057.1 111.3 1060.3 109.4 1063.5 108.7 1065.1 109.3 1066.2 110.8 1069.4 121.2 1074.7 132.1 1081.0 138.8 1085.4 145.2 1089.9 149.5 1093.1 149.9 1095.5 148.7 1105.1 136.6 1107.5 134.6 1109.9 133.6 1112.3 133.5 1113.9 134.1 1118.7 138.0 1123.5 140.8 1125.4 144.4 1125.5 148.4 1120.0 156.4 1119.7 158.8 1121.1 161.9 1122.7 164.0 1129.9 166.8 1132.3 168.9 1133.0 172.3 1132.4 177.9 1131.5 179.9 1129.9 181.3 1118.7 182.0 1117.3 181.1 1116.8 179.5 1117.1 177.1 1119.8 171.5 1119.9 169.9 1118.9 168.3 1107.5 166.4 1105.8 166.7 1103.9 168.3 1102.8 171.5 1102.5 177.9 1103.9 186.7 1106.0 193.1 1106.2 203.5 1103.4 213.9 1102.5 222.7 1103.0 227.5 1103.9 229.9 1105.9 231.5 1108.3 231.7 1114.7 230.4 1117.9 230.2 1119.5 229.3 1119.8 226.7 1116.8 219.5 1116.9 217.9 1117.9 216.5 1119.5 216.1 1128.3 216.6 1130.2 217.1 1131.5 218.3 1132.9 222.7 1133.0 226.7 1132.5 229.1 1129.9 231.4 1122.7 234.2 1121.1 236.3 1119.7 239.4 1120.0 241.8 1125.5 249.8 1125.7 252.2 1124.9 255.4 1123.0 257.8 1118.7 260.2 1114.7 263.6 1113.1 264.5 1110.7 264.7 1107.5 263.6 1105.1 261.6 1095.5 249.5 1093.1 248.3 1089.9 248.7 1085.4 253.0 1081.0 259.4 1074.3 266.6 1069.4 277.0 1066.2 287.4 1064.3 289.3M939.4 122.1 937.0 122.0 936.4 121.2 937.0 119.6 937.8 119.0 939.4 118.8 940.6 119.6 940.7 121.2 939.4 122.1M1099.5 122.0 1096.3 121.7 1095.5 120.4 1095.9 119.6 1097.1 118.8 1098.7 119.0 1100.0 120.4 1099.5 122.0M1013.7 190.7 1014.2 189.1 1013.4 185.9 1010.6 181.5 1008.9 180.3 1008.2 181.9 1009.5 185.9 1011.4 189.6 1012.2 190.5 1013.7 190.7M1023.8 190.7 1025.4 189.1 1027.7 184.3 1028.3 181.1 1027.6 180.3 1025.1 182.5 1022.8 186.7 1022.3 189.9 1022.7 190.7 1023.8 190.7M1011.4 193.1 1010.4 190.7 1006.6 187.7 1003.4 185.8 1001.0 185.7 1001.0 186.7 1002.0 188.3 1005.8 191.7 1009.8 193.7 1011.4 193.1M1028.3 193.1 1033.7 189.1 1035.5 186.7 1035.5 185.7 1033.9 185.5 1031.5 186.6 1025.4 191.5 1025.1 193.1 1025.9 193.7 1028.3 193.1M1018.8 205.1 1019.2 196.3 1018.7 192.7 1017.8 192.7 1017.3 196.3 1017.3 201.9 1017.8 205.5 1018.7 205.5 1018.8 205.1M910.6 202.9 909.0 203.3 907.4 202.8 905.5 200.3 905.8 197.1 908.2 195.1 910.6 195.3 911.9 197.1 912.2 200.3 910.6 202.9M1129.1 202.8 1126.7 203.2 1125.1 202.2 1124.6 201.1 1124.6 197.1 1125.1 196.0 1126.7 195.0 1129.3 195.5 1131.0 197.9 1130.7 201.1 1129.1 202.8M1003.6 212.3 1010.4 207.5 1011.4 205.1 1010.6 204.5 1009.0 204.7 1003.6 208.3 1001.4 210.7 1000.9 212.3 1001.8 212.8 1003.6 212.3M1035.6 212.3 1034.5 209.9 1030.7 206.5 1026.7 204.5 1025.1 205.1 1026.1 207.5 1030.7 211.1 1033.9 212.7 1035.6 212.3M1009.1 217.9 1011.4 215.7 1013.4 212.3 1014.2 209.1 1013.8 207.5 1013.0 207.3 1011.7 208.3 1009.5 212.3 1008.2 216.3 1008.2 217.3 1009.1 217.9M1027.6 217.9 1028.3 216.3 1026.2 210.7 1024.3 207.7 1022.7 207.5 1022.3 209.9 1023.5 213.1 1025.9 216.7 1027.6 217.9M938.6 279.4 936.5 277.8 937.0 276.2 939.4 276.1 940.7 277.0 940.6 278.6 938.6 279.4M1097.9 279.4 1095.9 278.6 1095.8 277.0 1097.1 276.1 1099.5 276.2 1100.0 277.8 1097.9 279.4M985.0 300.6 982.8 300.2 981.5 298.6 981.3 296.2 982.6 294.5 985.0 294.5 986.6 296.0 986.6 298.8 985.0 300.6M1053.1 300.5 1050.7 300.1 1049.7 297.8 1050.2 295.4 1052.3 294.3 1054.0 294.6 1055.3 297.0 1054.7 299.2 1053.1 300.5" stroke="#ff4500"/><path d="M1020.3 282.7 1006.6 281.6 996.2 279.8 990.6 278.0 973.8 270.8 966.6 265.4 960.2 259.6 948.4 245.8 941.2 233.1 937.5 221.9 935.0 208.3 934.1 199.5 934.9 190.7 937.5 176.3 940.5 166.7 948.4 152.4 959.4 139.4 972.2 128.4 979.4 124.7 996.2 118.4 1008.2 116.3 1017.8 115.4 1037.1 117.7 1045.9 120.2 1062.7 127.4 1070.7 133.4 1077.1 139.4 1088.1 152.4 1096.0 166.7 1099.0 176.3 1101.5 189.9 1102.4 198.7 1101.6 207.5 1099.0 221.9 1096.0 231.5 1088.1 245.8 1077.3 258.6 1065.1 269.2 1058.7 272.8 1041.1 279.6 1028.3 281.9 1020.3 282.7M1024.4 233.9 1031.5 230.0 1036.3 229.7 1038.2 229.1 1039.7 227.5 1041.7 221.9 1047.2 217.9 1047.7 216.3 1047.8 211.5 1051.1 205.9 1050.9 203.5 1049.5 199.5 1051.1 192.3 1047.8 186.7 1047.7 181.9 1047.2 180.3 1041.7 176.3 1039.7 170.7 1038.7 169.5 1036.3 168.5 1030.7 167.9 1026.5 165.1 1024.3 164.3 1013.0 164.1 1010.6 164.8 1005.0 168.2 1000.2 168.5 998.3 169.1 996.8 170.7 994.8 176.3 989.3 180.3 988.8 181.9 988.7 186.7 985.4 192.3 985.6 194.7 987.0 198.7 985.4 205.9 988.7 211.5 988.8 216.3 989.3 217.9 994.8 221.9 996.8 227.5 998.3 229.1 1000.2 229.7 1005.0 230.0 1010.6 233.4 1013.0 234.1 1024.4 233.9" stroke="#ff9100"/><path d="M1022.7 280.3 1017.0 280.5 1008.2 279.7 999.4 278.3 992.2 276.3 975.4 268.7 970.0 265.0 962.5 258.6 950.7 245.0 943.3 231.5 939.8 221.1 937.5 209.1 936.6 200.3 937.8 187.5 940.2 175.5 942.3 169.1 950.2 154.0 960.8 141.2 969.0 134.0 974.5 130.0 989.8 122.8 1001.0 119.6 1017.8 117.6 1034.7 119.5 1045.9 122.5 1061.9 129.9 1067.5 134.0 1074.9 140.4 1085.9 153.4 1093.5 167.5 1096.7 177.1 1099.0 189.1 1099.9 197.9 1098.7 210.7 1096.3 222.7 1094.2 229.1 1086.3 244.2 1076.3 256.4 1064.4 266.6 1054.7 271.9 1040.3 277.5 1029.9 279.5 1022.7 280.3M1024.8 239.4 1029.1 238.3 1041.1 232.6 1043.1 230.7 1046.7 225.1 1051.2 220.3 1052.3 217.9 1053.1 213.1 1056.1 205.9 1056.1 192.3 1053.1 185.1 1051.6 178.7 1046.7 173.1 1043.1 167.5 1041.1 165.6 1026.7 159.1 1019.5 158.2 1012.2 158.7 1007.4 159.9 995.4 165.6 993.4 167.5 989.8 173.1 985.3 177.9 984.2 180.3 983.4 185.1 980.4 192.3 980.4 205.9 983.4 213.1 984.9 219.5 989.8 225.1 993.4 230.7 995.4 232.6 1009.8 239.1 1017.0 240.0 1024.8 239.4" stroke="#ffdc00"/><path d="M1025.1 277.9 1017.8 278.3 1009.8 277.7 1001.0 276.5 993.8 274.6 983.4 270.3 977.0 267.0 971.4 263.2 964.2 257.0 952.5 243.4 945.9 231.5 943.2 224.3 941.6 217.9 939.9 209.1 939.0 201.1 939.3 193.9 940.6 185.1 942.5 176.3 945.2 168.3 952.2 155.2 961.8 143.5 973.0 133.8 978.6 130.3 985.0 127.2 993.0 123.9 999.4 122.1 1016.2 119.9 1022.7 120.1 1033.9 121.4 1045.1 124.5 1054.7 128.6 1060.3 131.7 1065.1 135.0 1073.1 141.9 1084.0 154.8 1090.6 166.7 1093.3 173.9 1094.9 180.3 1096.6 189.1 1097.5 197.1 1097.3 202.7 1096.2 211.5 1094.2 221.1 1091.9 228.3 1089.4 233.9 1084.6 242.6 1075.5 253.8 1064.3 263.8 1054.7 269.6 1040.3 275.3 1034.7 276.6 1025.1 277.9M1020.8 244.2 1031.5 242.3 1035.0 241.0 1044.9 235.5 1051.5 229.0 1057.1 220.4 1059.5 214.5 1061.9 202.7 1062.1 197.9 1060.3 186.5 1057.9 179.4 1052.3 170.1 1046.7 164.3 1042.7 161.3 1033.1 156.4 1022.7 154.2 1017.0 153.9 1005.8 155.7 1001.5 157.2 991.6 162.7 985.0 169.2 979.4 177.8 977.0 183.7 974.6 195.5 974.4 200.3 976.2 211.7 978.6 218.8 984.2 228.1 990.6 234.6 993.8 236.9 1003.4 241.8 1014.6 244.1 1020.8 244.2" stroke="#c9ec00"/><path d="M1020.3 276.2 1013.0 276.0 1001.8 274.7 989.8 270.9 982.6 267.7 976.6 264.2 972.1 261.0 964.9 254.6 954.6 242.5 948.0 230.7 943.3 215.5 941.9 207.5 941.2 199.5 941.8 191.5 943.3 182.7 948.0 167.5 954.1 156.4 964.1 144.4 974.6 135.3 980.5 131.6 986.6 128.6 1000.2 123.9 1017.0 121.9 1024.3 122.2 1035.5 123.7 1048.3 128.0 1055.5 131.3 1061.1 134.8 1072.3 144.3 1082.4 156.4 1088.5 167.5 1093.2 182.7 1094.6 190.7 1095.3 198.7 1094.7 206.7 1093.2 215.5 1088.8 229.9 1082.7 241.3 1073.1 253.1 1062.7 262.3 1056.3 266.5 1050.7 269.2 1036.3 274.3 1020.3 276.2M1025.1 245.8 1033.9 243.8 1042.7 239.5 1048.3 235.5 1055.2 228.3 1059.5 221.4 1062.1 214.7 1064.6 202.7 1064.7 196.3 1062.5 185.1 1059.6 177.1 1055.2 169.9 1047.5 162.0 1041.1 157.8 1032.3 153.9 1021.1 151.9 1013.0 152.1 1003.4 154.1 995.1 158.0 989.1 161.9 982.0 169.1 977.3 176.3 974.7 182.7 971.9 195.5 971.8 201.9 974.0 213.1 976.9 221.1 981.3 228.3 989.1 236.3 996.2 240.9 1004.2 244.3 1016.2 246.4 1025.1 245.8" stroke="#0df900"/><path d="M1026.7 273.8 1014.6 274.3 999.4 272.2 984.7 266.6 973.5 259.4 962.6 249.0 957.5 242.6 953.3 236.3 948.7 225.9 945.9 217.1 944.5 209.9 943.5 197.9 945.5 182.7 950.4 167.5 956.3 157.2 965.5 146.0 972.2 139.8 977.9 135.6 987.4 130.3 997.8 126.4 1003.4 125.1 1019.5 123.8 1035.5 125.6 1050.7 131.0 1061.1 137.3 1065.9 141.2 1073.1 148.2 1078.4 154.8 1082.7 161.1 1087.3 170.7 1090.6 181.1 1092.0 188.3 1092.9 201.1 1090.8 216.3 1085.7 231.5 1082.3 237.9 1077.8 244.2 1072.5 250.6 1065.9 257.0 1054.7 265.1 1049.1 267.9 1038.7 271.8 1026.7 273.8M1025.3 247.4 1034.7 245.3 1043.5 241.2 1050.5 236.3 1057.4 229.1 1061.6 222.7 1064.6 214.7 1067.2 203.5 1067.3 195.5 1064.6 183.5 1061.2 174.7 1056.8 168.3 1049.6 161.1 1042.4 156.4 1033.1 152.4 1021.1 150.3 1012.2 150.6 1002.6 152.6 993.8 156.5 986.6 161.4 979.1 169.1 974.9 175.5 971.9 183.5 969.3 194.7 969.2 202.7 971.9 214.7 975.3 223.5 979.7 229.9 987.4 237.4 995.4 242.5 1004.2 246.0 1016.2 248.0 1025.3 247.4" stroke="#00fa00"/><path d="M1025.9 272.2 1014.6 272.6 1004.2 271.5 999.4 270.5 985.8 265.2 974.6 257.8 963.4 246.9 955.4 235.5 952.9 230.7 950.5 224.3 947.9 216.3 946.9 210.7 945.8 197.9 947.7 182.7 952.9 167.5 959.0 157.2 963.4 151.3 969.2 145.2 973.8 141.0 980.2 136.3 989.0 131.6 998.6 128.0 1004.2 126.7 1018.7 125.5 1033.9 127.0 1039.5 128.5 1049.1 132.2 1057.9 137.4 1063.9 142.0 1070.4 148.4 1074.6 153.2 1079.6 160.3 1084.9 170.7 1088.4 181.1 1089.6 187.5 1090.7 201.1 1088.6 216.3 1083.2 231.5 1075.2 244.2 1071.2 249.0 1064.3 255.9 1053.1 263.9 1048.3 266.3 1037.9 270.2 1025.9 272.2M1024.6 249.0 1034.7 246.9 1043.5 243.2 1051.6 237.9 1059.6 229.9 1063.8 223.5 1067.7 213.1 1069.9 202.7 1069.9 195.5 1067.7 185.1 1063.4 173.9 1059.6 168.3 1051.6 160.3 1043.0 154.8 1033.9 151.0 1021.9 148.8 1013.0 149.0 1002.6 151.0 993.0 155.0 984.9 160.3 976.9 168.3 972.7 174.7 968.8 185.1 966.6 195.5 966.6 202.7 968.8 213.1 973.1 224.3 976.9 229.9 984.9 237.9 993.5 243.4 1003.4 247.4 1015.4 249.4 1024.6 249.0" stroke="#00fa00"/><path d="M1026.7 270.7 1015.4 271.2 1001.0 269.3 987.4 264.2 977.5 257.8 972.7 253.8 967.3 248.2 959.0 237.1 953.4 225.9 949.4 212.3 948.1 197.9 949.8 183.5 954.4 169.9 960.5 158.8 964.5 153.2 970.3 146.8 974.6 142.6 981.0 137.8 989.8 132.9 998.6 129.6 1005.0 128.1 1019.5 127.0 1033.9 128.5 1047.5 133.3 1056.3 138.4 1062.0 142.8 1067.0 147.6 1072.3 153.6 1076.5 159.5 1082.8 171.5 1085.8 180.3 1087.1 185.9 1088.4 200.3 1086.5 215.5 1081.4 229.9 1078.5 235.5 1073.8 242.6 1063.5 254.1 1052.3 262.5 1047.5 264.9 1037.9 268.6 1026.7 270.7M1022.7 250.6 1033.9 248.6 1043.3 245.0 1052.4 239.4 1060.2 232.3 1065.0 225.9 1068.7 217.9 1071.5 208.3 1072.6 197.9 1070.7 186.7 1066.7 175.5 1062.3 168.3 1054.7 160.6 1045.1 154.1 1036.3 150.3 1025.1 147.8 1015.4 147.4 1004.2 149.2 993.8 152.8 984.2 158.6 977.0 165.1 972.0 171.5 968.1 179.5 965.0 189.9 963.9 200.3 965.8 211.5 970.2 223.5 974.6 230.4 982.1 237.9 991.6 244.2 1001.4 248.2 1013.0 250.6 1022.7 250.6" stroke="#00f849"/><path d="M1021.1 269.8 1014.6 269.8 1005.8 268.8 996.2 266.3 985.0 261.2 973.8 252.6 964.1 241.0 960.1 234.7 956.2 226.7 952.2 214.9 950.5 201.9 950.6 194.0 951.7 185.9 955.4 173.4 961.0 161.9 965.3 155.6 970.5 149.2 979.4 140.9 985.0 137.0 989.8 134.5 1002.6 130.0 1016.2 128.4 1030.7 129.4 1040.3 131.9 1051.5 137.0 1057.4 141.2 1063.0 146.0 1068.1 151.6 1073.1 158.2 1076.4 163.5 1080.3 171.5 1084.3 183.3 1086.0 196.3 1085.9 204.2 1084.8 212.3 1081.1 224.8 1075.5 236.3 1071.2 242.6 1066.0 249.0 1057.4 257.0 1047.5 263.4 1034.7 268.1 1021.1 269.8M1026.6 251.4 1037.0 249.0 1046.5 245.0 1055.2 239.4 1064.5 230.7 1069.9 221.9 1073.6 210.7 1075.2 199.5 1073.9 189.1 1070.5 177.9 1066.2 169.9 1060.7 163.5 1051.5 156.1 1041.9 150.9 1030.7 147.5 1018.7 146.0 1006.6 147.3 995.1 150.8 985.9 155.6 976.6 162.7 970.9 169.1 966.3 177.1 962.7 188.3 961.3 198.7 962.6 209.1 966.0 220.3 970.3 228.3 975.8 234.7 984.2 241.6 993.1 246.6 1004.2 250.4 1016.2 252.1 1026.6 251.4" stroke="#00f4a7"/><path d="M1025.1 268.2 1013.8 268.4 1005.8 267.6 1000.2 266.2 988.2 261.4 978.5 254.6 971.5 247.4 962.9 234.7 957.9 223.5 954.6 213.1 953.8 208.8 953.4 195.5 954.6 185.1 957.9 174.7 961.7 165.9 966.8 157.2 975.0 146.8 985.0 138.7 989.8 136.0 996.2 133.3 1007.4 130.4 1020.3 129.6 1033.9 131.3 1046.7 136.0 1056.0 142.0 1064.4 150.0 1073.6 163.5 1078.6 174.7 1081.9 185.1 1082.7 189.4 1083.1 202.7 1081.9 213.1 1078.6 223.5 1074.8 232.3 1068.0 243.4 1063.7 249.0 1059.8 253.0 1049.1 261.0 1036.3 266.2 1025.1 268.2M1023.7 253.0 1034.7 251.1 1045.1 247.4 1055.0 241.8 1064.3 234.3 1070.8 225.9 1073.7 220.3 1076.8 209.9 1078.2 197.9 1076.1 185.1 1072.7 175.5 1066.2 165.9 1061.3 161.1 1051.5 154.2 1045.1 150.8 1039.5 148.6 1026.7 145.5 1020.3 144.9 1014.6 145.0 1002.6 146.9 991.5 150.8 981.5 156.4 972.5 163.5 965.7 172.3 962.8 177.9 959.7 188.3 958.3 200.3 960.4 213.1 963.8 222.7 970.3 232.3 976.2 237.9 981.8 242.1 988.3 245.8 998.6 250.1 1005.0 251.8 1012.2 253.0 1017.8 253.4 1023.7 253.0" stroke="#00e1f1"/><path d="M1065.9 159.7 1061.9 158.5 1050.1 151.6 1041.1 147.8 1030.7 145.0 1018.7 143.6 1007.4 144.7 997.0 147.2 987.4 151.0 974.6 158.5 970.5 159.5 972.4 153.2 974.5 150.0 980.1 144.4 988.2 138.3 993.8 135.6 1003.4 132.4 1009.8 131.3 1018.7 130.8 1028.3 131.5 1033.9 132.6 1042.7 135.6 1049.0 138.8 1056.4 144.4 1062.0 150.0 1064.1 153.2 1065.9 159.7M1019.5 267.4 1010.6 266.9 1003.4 265.8 995.9 263.4 988.8 260.2 981.0 254.6 975.2 249.0 972.4 245.0 970.5 238.7 974.6 239.7 987.4 247.2 996.2 250.7 1006.6 253.4 1017.8 254.6 1029.1 253.5 1039.5 251.0 1049.1 247.2 1061.9 239.7 1066.0 238.7 1064.1 245.0 1062.0 248.2 1056.4 253.8 1049.0 259.4 1042.7 262.6 1034.7 265.4 1028.7 266.6 1019.5 267.4" stroke="#0094f6"/><path d="M1057.9 152.0 1053.9 151.3 1045.9 148.0 1035.5 144.7 1027.5 143.2 1018.7 142.4 1009.8 143.1 1001.8 144.5 990.6 148.0 982.6 151.3 978.6 152.0 978.1 151.6 979.3 148.4 982.6 144.4 987.7 140.4 992.2 137.8 1005.0 133.3 1018.7 132.0 1032.3 133.5 1045.1 138.1 1049.9 141.2 1054.7 145.2 1057.6 149.2 1058.4 151.6 1057.9 152.0M1024.3 265.9 1016.2 266.2 1007.4 265.3 1001.8 264.0 993.8 261.2 988.9 258.6 982.6 253.8 979.3 249.8 978.1 246.6 978.6 246.2 982.6 246.9 990.6 250.2 1001.8 253.7 1009.8 255.1 1017.8 255.8 1026.7 255.1 1034.7 253.7 1045.9 250.2 1053.9 246.9 1057.9 246.2 1058.4 246.6 1057.2 249.8 1054.7 253.0 1046.2 259.4 1034.7 264.0 1024.3 265.9" stroke="#0047fb"/><path d="M1049.9 146.0 1045.1 145.9 1036.3 143.4 1029.1 142.1 1018.7 141.1 1007.4 142.1 1000.2 143.4 991.4 145.9 986.5 146.0 987.1 144.4 989.8 141.2 995.4 137.9 1005.8 134.5 1018.7 133.3 1030.7 134.5 1041.3 138.0 1046.7 141.2 1049.4 144.4 1049.9 146.0M1026.7 264.3 1015.4 264.8 1007.4 264.0 1002.6 262.9 992.0 258.6 988.3 255.4 986.5 252.2 991.4 252.3 1005.0 255.7 1017.8 257.1 1029.1 256.1 1036.3 254.8 1045.1 252.3 1050.0 252.2 1049.4 253.8 1047.5 256.2 1043.0 259.4 1033.9 262.9 1026.7 264.3" stroke="#0500ff"/><path d="M1038.7 140.9 1018.7 139.6 1002.6 140.8 997.8 140.9 997.4 140.4 1002.1 138.0 1006.6 136.5 1018.7 135.3 1030.7 136.7 1037.6 139.6 1039.1 140.4 1038.7 140.9M1023.5 262.7 1016.2 262.9 1007.4 261.9 1002.1 260.2 997.4 257.8 997.8 257.3 1002.6 257.4 1017.8 258.6 1033.9 257.4 1038.7 257.3 1039.1 257.8 1032.3 261.1 1023.5 262.7" stroke="#5000ff"/></g></g><clipPath id="lbc"><rect x="898.0" y="79.6" width="83" height="39"/></clipPath><rect x="898.0" y="79.6" width="83" height="39" fill="#fff"/><g clip-path="url(#lbc)"><path d="M923.6 78.6V319.6M971.0 78.6V319.6M1018.2 78.6V319.6M1065.5 78.6V319.6M1112.8 78.6V319.6" stroke="#9898f5" stroke-width="1.4" stroke-dasharray="1.8 2.8" fill="none"/><path d="M897.0 293.5H1139.5M897.0 246.3H1139.5M897.0 199.1H1139.5M897.0 151.9H1139.5M897.0 104.7H1139.5" stroke="#babaf8" stroke-width="1.2" stroke-dasharray="1.8 2.8" fill="none"/></g><rect x="897.0" y="78.6" width="242.5" height="241.0" fill="none" stroke="#000" stroke-width="2"/><path d="M923.6 319.6v14M897.0 293.5h-14M971.0 319.6v14M897.0 246.3h-14M1018.2 319.6v14M897.0 199.1h-14M1065.5 319.6v14M897.0 151.9h-14M1112.8 319.6v14M897.0 104.7h-14" stroke="#000" stroke-width="2" fill="none"/><text x="921.5" y="357.3" text-anchor="middle" font-size="18">−4</text><text x="875.0" y="300.0" text-anchor="end" font-size="18">−4</text><text x="968.9" y="357.3" text-anchor="middle" font-size="18">−2</text><text x="875.0" y="252.8" text-anchor="end" font-size="18">−2</text><text x="1018.0" y="357.3" text-anchor="middle" font-size="18">0</text><text x="875.0" y="205.6" text-anchor="end" font-size="18">0</text><text x="1065.3" y="357.3" text-anchor="middle" font-size="18">2</text><text x="875.0" y="158.4" text-anchor="end" font-size="18">2</text><text x="1112.6" y="357.3" text-anchor="middle" font-size="18">4</text><text x="875.0" y="111.2" text-anchor="end" font-size="18">4</text><g transform="translate(1018.25 387.40)"><text x="-96.91" y="0.00" font-size="18.9">momentum</text><text x="3.50" y="0.00" font-size="18.5">(10</text><text x="30.77" y="-12.70" font-size="12">5</text><text x="43.57" y="0.00" font-size="18.5" font-style="italic">u</text><text x="59.22" y="0.00" font-size="18.5">m/s)</text></g><g transform="translate(834.00 197.60) rotate(-90)"><text x="-96.91" y="0.00" font-size="18.9">momentum</text><text x="3.50" y="0.00" font-size="18.5">(10</text><text x="30.77" y="-12.70" font-size="12">5</text><text x="43.57" y="0.00" font-size="18.5" font-style="italic">u</text><text x="59.22" y="0.00" font-size="18.5">m/s)</text></g><text x="904.35" y="113.10" font-size="25">(c) C</text><text x="957.92" y="95.75" font-size="16.5">2+</text><rect x="1147.8" y="84.8" width="6.3" height="70.7" fill="url(#cbg)" stroke="#000" stroke-width="1.5"/><path d="M1154.8 150.1h4.5" stroke="#000" stroke-width="2"/><text x="1167.0" y="156.6" font-size="18">0</text><path d="M1154.8 127.6h4.5" stroke="#000" stroke-width="2"/><text x="1167.0" y="134.1" font-size="18">2</text><path d="M1154.8 105.1h4.5" stroke="#000" stroke-width="2"/><text x="1167.0" y="111.6" font-size="18">4</text><text transform="translate(1154.0 168.1) rotate(90)" font-size="18">×10<tspan font-size="13" dy="-13">−4</tspan></text><path d="M176.7 459.4V700.4M223.9 459.4V700.4M271.2 459.4V700.4M318.6 459.4V700.4M365.9 459.4V700.4" stroke="#9898f5" stroke-width="1.4" stroke-dasharray="1.8 2.8" fill="none"/><path d="M150.0 674.3H392.5M150.0 627.1H392.5M150.0 579.9H392.5M150.0 532.7H392.5M150.0 485.5H392.5" stroke="#babaf8" stroke-width="1.2" stroke-dasharray="1.8 2.8" fill="none"/><clipPath id="clipd"><rect x="150.0" y="459.4" width="242.5" height="241.0"/></clipPath><g clip-path="url(#clipd)"><g fill="none" stroke-width="1.9" stroke-linejoin="round" stroke-linecap="round"><path d="M277.3 662.6 271.7 660.8 264.4 662.5 258.8 659.5 253.2 659.9 251.6 659.5 247.5 655.4 246.0 654.7 242.0 654.7 240.4 654.2 236.4 648.8 230.4 646.6 226.8 640.1 225.0 639.4 222.8 642.0 221.2 642.9 219.6 642.9 218.0 642.1 217.2 640.6 216.2 635.4 211.6 631.0 210.4 624.2 205.5 620.2 204.6 613.9 201.2 609.3 201.1 607.5 202.4 602.7 199.8 597.1 200.8 591.5 200.3 589.9 197.8 586.7 197.4 585.1 199.0 580.3 197.5 575.5 197.5 573.9 200.7 569.1 200.8 567.5 199.8 562.7 202.3 557.9 201.1 552.3 201.2 550.5 204.6 545.9 205.5 539.6 210.4 535.6 211.6 528.8 216.2 524.4 217.2 519.2 218.0 517.7 219.6 516.9 221.2 516.9 222.8 517.8 225.0 520.4 226.8 519.7 230.0 513.5 231.6 512.5 234.8 511.9 236.4 511.0 240.4 505.6 246.8 504.8 251.6 500.3 253.2 499.9 258.8 500.3 262.8 497.9 265.1 497.2 270.8 499.0 278.1 497.3 283.7 500.3 289.3 499.9 290.9 500.3 295.0 504.4 296.5 505.1 300.5 505.1 302.1 505.6 306.1 511.0 312.1 513.2 315.7 519.7 317.5 520.4 319.7 517.8 321.3 516.9 322.9 516.9 324.5 517.7 325.3 519.2 326.3 524.4 330.9 528.8 332.1 535.6 337.0 539.6 337.9 545.9 341.3 550.5 341.4 552.3 340.1 557.1 342.7 562.7 341.7 568.3 342.2 569.9 344.7 573.1 345.1 574.7 343.5 579.5 345.0 584.3 345.0 585.9 341.8 590.7 341.7 592.3 342.7 597.1 340.2 601.9 341.4 607.5 341.3 609.3 337.9 613.9 337.0 620.2 332.1 624.2 330.9 631.0 326.3 635.4 325.3 640.6 324.5 642.1 322.9 642.9 321.3 642.9 319.7 642.0 317.5 639.4 315.7 640.1 312.5 646.3 310.9 647.3 307.7 647.9 306.1 648.8 302.1 654.2 295.7 655.0 290.9 659.5 289.3 659.9 283.7 659.5 279.7 661.9 277.3 662.6M192.4 584.4 190.7 583.5 189.7 579.5 190.8 576.2 192.4 575.4 193.8 577.1 194.4 579.5 194.0 582.3 192.4 584.4M350.9 584.4 349.3 583.8 348.1 580.3 348.5 577.5 350.1 575.4 351.7 576.2 352.8 579.5 352.3 582.7 350.9 584.4" stroke="#ff3500"/><path d="M278.9 661.2 276.5 661.2 270.8 660.0 264.4 661.3 258.8 658.8 252.4 658.9 250.8 658.0 246.8 654.1 242.0 654.0 240.4 653.3 236.4 647.9 231.6 646.7 230.3 645.8 227.9 640.2 222.8 636.9 221.8 635.4 220.4 631.1 216.2 627.4 215.4 625.0 215.1 620.2 210.9 617.1 210.8 611.3 207.1 605.9 207.7 599.5 205.4 596.3 205.2 594.7 206.1 589.9 203.8 585.1 204.0 583.5 205.7 580.3 203.8 574.7 206.1 569.9 205.2 565.1 205.4 563.5 207.7 560.3 207.1 555.5 207.3 553.1 210.8 548.5 210.9 542.7 215.1 539.6 215.8 533.2 220.4 528.7 222.3 523.6 223.6 522.2 227.6 520.0 230.3 514.0 231.6 513.1 236.4 511.9 239.6 507.4 241.2 506.0 246.8 505.7 251.6 501.2 254.0 500.8 258.8 501.0 264.4 498.5 270.8 499.8 278.1 498.5 283.7 501.0 290.1 500.9 291.7 501.8 295.7 505.7 300.5 505.8 302.1 506.5 306.1 511.9 310.9 513.1 312.2 514.0 314.6 519.6 319.7 522.9 320.7 524.4 322.1 528.7 326.3 532.4 327.1 534.8 327.4 539.6 331.6 542.7 331.7 548.5 335.4 553.9 334.8 560.3 337.1 563.5 337.3 565.1 336.4 569.9 338.7 574.7 338.5 576.3 336.8 579.5 338.7 585.1 336.4 589.9 337.3 594.7 337.1 596.3 334.8 599.5 335.4 604.3 335.2 606.7 331.7 611.3 331.6 617.1 327.4 620.2 326.7 626.6 322.1 631.1 320.2 636.2 318.9 637.6 314.9 639.8 312.2 645.8 310.9 646.7 306.1 647.9 302.9 652.4 301.3 653.8 295.7 654.1 290.9 658.6 288.5 659.0 283.7 658.8 278.9 661.2M192.4 582.3 191.6 582.3 190.7 580.3 190.8 578.7 191.6 577.5 192.8 577.9 193.4 579.5 193.2 581.3 192.4 582.3M350.9 582.3 349.7 581.9 349.1 580.3 349.3 578.5 350.1 577.5 350.9 577.5 351.8 579.5 351.7 581.1 350.9 582.3" stroke="#ff6000"/><path d="M280.5 659.6 278.1 659.9 270.8 659.1 263.6 659.9 258.8 658.2 252.4 657.8 246.8 653.3 241.2 652.9 236.4 646.9 230.8 645.6 228.3 639.4 222.8 635.8 220.4 629.8 216.4 625.8 215.9 619.5 212.8 617.9 211.6 616.6 211.3 610.7 207.7 605.1 208.6 598.7 206.0 595.5 206.8 589.9 204.7 585.1 205.0 583.5 207.1 580.3 206.8 578.7 205.0 576.3 204.7 574.7 206.8 569.9 206.0 564.3 208.6 561.1 207.7 554.7 211.3 549.1 211.6 543.2 212.8 541.9 215.9 540.3 216.4 534.0 220.4 530.0 222.8 524.0 228.3 520.4 230.8 514.2 236.4 512.9 241.2 506.9 246.8 506.5 252.3 502.0 258.8 501.6 262.8 499.9 271.7 500.7 278.9 499.9 283.7 501.6 290.1 502.0 295.7 506.5 301.3 506.9 306.1 512.9 311.7 514.2 314.2 520.4 319.7 524.0 322.1 530.0 326.1 534.0 326.6 540.3 329.7 541.9 330.9 543.2 331.2 549.1 334.8 554.7 333.9 561.1 336.5 564.3 335.7 569.9 337.8 574.7 337.5 576.3 335.4 579.5 335.7 581.1 337.5 583.5 337.8 585.1 335.7 589.9 336.5 595.5 333.9 598.7 334.8 605.1 331.2 610.7 330.9 616.6 329.7 617.9 326.6 619.5 326.1 625.8 322.1 629.8 319.9 635.4 318.3 637.0 314.2 639.4 311.7 645.6 306.1 646.9 301.3 652.9 295.7 653.3 290.2 657.8 283.7 658.2 280.5 659.6" stroke="#ff8c00"/><path d="M280.5 658.7 267.6 658.1 262.8 658.8 258.8 657.4 253.1 657.0 251.6 656.4 246.8 652.5 241.8 652.2 238.3 647.4 236.4 645.9 231.2 645.0 229.0 638.6 223.4 635.4 222.4 633.8 221.1 629.0 217.2 625.5 216.8 623.4 217.1 620.2 216.5 618.7 212.6 616.3 211.9 609.9 210.8 607.5 208.3 604.3 209.5 598.7 206.8 594.7 207.6 589.9 207.1 584.3 208.5 580.3 207.1 575.5 207.6 569.9 206.8 565.1 209.5 561.1 208.3 555.5 210.8 552.3 211.9 549.9 212.6 543.5 216.4 541.2 216.9 540.3 216.8 535.6 217.2 534.3 221.1 530.8 222.4 526.0 223.4 524.4 229.0 521.2 231.2 514.8 235.6 514.3 237.2 513.4 242.0 507.5 246.8 507.3 252.4 503.0 254.8 502.4 258.8 502.4 262.8 501.0 267.6 501.7 274.9 501.7 279.7 501.0 283.7 502.4 289.4 502.8 290.9 503.4 295.7 507.3 300.7 507.6 304.2 512.4 306.1 513.9 311.3 514.8 313.5 521.2 319.1 524.4 320.1 526.0 321.4 530.8 325.3 534.3 325.7 536.4 325.4 539.6 326.0 541.1 329.9 543.5 330.6 549.9 331.7 552.3 334.2 555.5 333.0 561.1 335.7 565.1 334.9 569.9 335.4 575.5 334.0 579.5 335.4 584.3 334.9 589.9 335.7 594.7 333.0 598.7 334.2 604.3 331.7 607.5 330.6 609.9 329.9 616.3 326.1 618.6 325.6 619.5 325.7 624.2 325.3 625.5 321.4 629.0 320.1 633.8 319.1 635.4 313.5 638.6 311.3 645.0 306.9 645.5 305.3 646.4 300.5 652.3 295.7 652.5 290.1 656.8 287.7 657.4 283.7 657.4 280.5 658.7" stroke="#ffb600"/><path d="M279.7 657.9 274.9 657.1 267.6 657.1 262.8 657.9 258.8 656.4 254.6 656.2 251.6 655.1 246.8 651.6 243.6 651.8 242.2 651.4 239.5 647.4 236.4 644.8 231.6 644.1 230.6 641.0 230.5 638.6 229.8 637.8 223.6 634.6 222.5 632.2 222.6 628.2 222.1 627.4 219.6 626.4 218.0 625.0 217.4 618.7 213.4 615.5 212.5 608.3 211.6 606.6 209.2 604.5 208.9 603.5 210.4 598.7 208.2 593.9 209.4 580.3 208.2 565.9 210.4 561.1 208.9 556.3 209.2 555.3 211.6 553.2 212.5 551.5 213.4 544.3 217.4 541.1 218.0 534.8 219.6 533.4 222.1 532.4 222.6 531.6 222.5 527.6 223.6 525.2 229.8 522.0 230.5 521.2 230.6 518.8 231.6 515.7 235.6 515.3 237.2 514.5 242.8 508.1 246.8 508.2 252.4 504.3 255.6 503.4 258.8 503.4 262.8 501.9 267.6 502.7 274.9 502.7 279.7 501.9 283.7 503.4 287.9 503.6 290.9 504.7 295.7 508.2 298.9 508.0 300.3 508.4 303.0 512.4 306.1 515.0 310.9 515.7 311.9 518.8 312.0 521.2 312.7 522.0 318.9 525.2 320.0 527.6 319.9 531.6 320.4 532.4 322.9 533.4 324.5 534.8 325.1 541.1 329.1 544.3 330.0 551.5 330.9 553.2 333.3 555.3 333.6 556.3 332.1 561.1 334.3 565.9 333.1 579.5 334.3 593.9 332.1 598.7 333.6 603.5 333.3 604.5 330.9 606.6 330.0 608.3 329.1 615.5 325.1 618.7 324.5 625.0 322.9 626.4 320.4 627.4 319.9 628.2 320.0 632.2 318.9 634.6 312.7 637.8 312.0 638.6 311.9 641.0 310.9 644.1 306.9 644.5 305.3 645.3 299.7 651.7 295.7 651.6 290.1 655.5 286.9 656.4 283.7 656.4 279.7 657.9M216.6 554.7 217.5 553.9 217.4 553.1 216.4 552.5 215.6 553.1 215.6 553.9 216.6 554.7M326.3 554.7 326.9 553.1 326.1 552.5 325.1 553.1 325.0 553.9 326.3 554.7M217.4 606.7 217.2 605.4 216.2 605.1 215.6 606.7 216.4 607.3 217.4 606.7M326.9 606.7 326.1 605.0 325.0 605.9 325.1 606.7 326.1 607.3 326.9 606.7" stroke="#ffe100"/><path d="M279.7 657.0 278.1 657.2 274.1 656.2 267.6 656.2 264.4 657.2 262.8 657.0 255.6 652.8 250.8 653.4 246.8 650.5 242.8 650.6 241.3 647.4 240.3 646.6 236.4 643.8 232.4 642.6 231.6 641.0 231.8 637.8 226.8 634.6 224.4 634.1 223.6 633.3 223.1 630.6 224.5 627.4 224.3 626.6 219.5 625.0 218.6 623.4 218.3 618.7 214.3 614.7 215.3 609.9 218.0 607.9 218.8 606.7 218.2 605.1 217.2 604.2 215.6 604.0 214.0 606.2 213.2 606.4 209.8 603.5 211.3 598.7 210.0 594.7 209.5 585.9 210.3 579.5 209.5 573.9 210.1 564.3 211.3 561.1 209.8 556.3 213.2 553.4 214.0 553.6 215.2 555.5 216.4 555.9 218.6 553.9 218.4 552.3 215.3 549.9 214.3 545.1 218.3 541.1 218.6 536.4 219.5 534.8 224.3 533.2 224.5 532.4 223.1 529.2 223.6 526.5 224.4 525.7 226.8 525.2 231.8 522.0 231.6 518.8 232.4 517.2 236.4 516.0 240.3 513.2 241.3 512.4 242.8 509.1 246.8 509.3 250.8 506.4 255.6 507.0 259.6 504.9 262.0 503.0 263.6 502.6 268.4 503.6 274.9 503.6 278.9 502.6 280.5 503.0 282.9 504.9 286.9 507.0 291.7 506.4 295.7 509.3 299.7 509.1 301.2 512.4 302.2 513.2 306.1 516.0 310.1 517.2 310.9 518.8 310.7 522.0 315.7 525.2 318.1 525.7 318.9 526.5 319.4 529.2 318.0 532.4 318.2 533.2 323.0 534.8 323.9 536.4 324.2 541.1 328.2 545.1 327.2 549.9 324.1 552.3 323.9 553.9 326.1 555.9 327.3 555.5 328.5 553.6 329.3 553.4 332.7 556.3 331.2 561.1 332.4 564.3 333.0 573.9 332.2 579.5 333.0 585.9 332.5 594.7 331.2 598.7 332.7 603.5 329.3 606.4 328.5 606.2 327.3 604.3 326.1 603.9 323.9 605.9 324.1 607.5 327.2 609.9 328.3 613.9 327.9 615.5 324.2 618.7 323.7 624.2 322.1 625.7 318.2 626.6 318.0 627.4 319.4 630.6 318.9 633.3 318.1 634.1 315.7 634.6 310.7 637.8 310.9 641.0 310.1 642.6 306.1 643.8 302.2 646.6 301.2 647.4 299.7 650.6 295.7 650.5 291.7 653.4 286.9 652.8 279.7 657.0M263.9 509.2 262.8 508.6 262.8 509.2 263.9 509.2M279.7 509.2 279.7 508.6 278.6 509.2 279.7 509.2M263.9 650.6 262.8 650.6 262.8 651.2 263.9 650.6M279.7 650.6 278.6 650.6 279.7 651.2 279.7 650.6" stroke="#ffe700"/><path d="M279.7 656.3 278.1 656.5 274.1 655.1 267.6 655.1 264.4 656.5 262.8 656.3 261.8 655.4 261.4 653.8 262.0 653.0 265.4 651.4 265.4 650.6 264.4 649.7 262.8 649.5 258.8 651.1 255.6 651.1 250.8 652.1 246.8 648.8 244.4 649.7 243.6 649.5 243.2 646.6 242.5 645.8 239.6 645.0 237.2 643.1 233.6 641.8 233.1 641.0 233.4 638.6 232.4 637.0 229.2 635.6 227.6 633.5 225.2 633.1 224.1 632.2 224.2 629.8 226.0 627.8 227.6 627.8 230.0 630.0 231.4 629.8 231.5 629.0 229.4 625.8 228.6 623.4 227.6 622.5 226.8 622.6 225.3 625.0 221.2 624.8 220.1 622.6 220.4 619.0 215.5 614.7 217.4 609.9 220.0 607.5 219.7 605.9 216.4 603.0 214.8 603.2 213.2 604.3 211.6 603.8 210.7 602.7 212.1 598.7 210.9 595.5 211.3 591.5 210.2 585.9 211.4 580.3 210.2 573.1 211.3 568.3 210.9 564.3 212.1 561.1 210.7 557.1 211.6 556.0 213.2 555.5 214.8 556.6 216.4 556.8 219.7 553.9 220.0 552.3 217.4 549.9 215.4 545.9 216.1 544.3 220.4 540.8 220.0 538.0 220.6 535.6 222.0 534.7 225.2 534.7 226.6 537.2 227.6 537.3 228.6 536.4 229.4 534.0 231.5 530.8 231.4 530.0 230.0 529.8 227.6 532.0 226.0 532.0 224.2 530.0 224.1 527.6 225.2 526.7 227.6 526.3 229.2 524.2 232.4 522.8 233.4 521.2 233.1 518.8 233.6 518.0 242.8 513.7 243.6 510.3 244.4 510.1 246.8 511.0 250.8 507.7 255.6 508.7 258.8 508.7 262.8 510.3 264.7 510.0 265.4 508.4 262.0 506.8 261.4 506.0 261.8 504.4 263.6 503.3 268.4 504.7 274.9 504.7 278.1 503.3 279.7 503.5 280.7 504.4 281.1 506.0 280.5 506.8 277.1 508.4 277.1 509.2 278.1 510.1 279.7 510.3 283.7 508.7 286.9 508.7 291.7 507.7 295.7 511.0 298.1 510.1 298.9 510.3 299.3 513.2 300.0 514.0 302.9 514.8 305.3 516.7 308.9 518.0 309.4 518.8 309.1 521.2 310.1 522.8 313.3 524.2 314.9 526.3 317.3 526.7 318.4 527.6 318.3 530.0 316.5 532.0 314.9 532.0 312.5 529.8 311.1 530.0 311.0 530.8 313.1 534.0 313.9 536.4 314.9 537.3 315.7 537.2 317.2 534.8 321.3 535.0 322.4 537.2 322.1 540.8 327.0 545.1 325.1 549.9 322.5 552.3 322.8 553.9 326.1 556.8 327.7 556.6 329.3 555.5 330.9 556.0 331.8 557.1 330.4 561.1 331.6 564.3 331.2 568.3 332.3 573.9 331.1 579.5 332.3 586.7 331.2 591.5 331.6 595.5 330.4 598.7 331.8 602.7 330.9 603.8 329.3 604.3 327.7 603.2 326.1 603.0 322.8 605.9 322.5 607.5 325.1 609.9 327.1 613.9 326.4 615.5 322.1 619.0 322.5 621.8 321.9 624.2 320.5 625.1 317.3 625.1 315.9 622.6 314.9 622.5 313.9 623.4 313.1 625.8 311.0 629.0 311.1 629.8 312.5 630.0 314.9 627.8 316.5 627.8 318.3 629.8 318.4 632.2 317.3 633.1 314.9 633.5 313.3 635.6 310.1 637.0 309.1 638.6 309.4 641.0 308.9 641.8 299.7 646.1 298.9 649.5 298.1 649.7 295.7 648.8 291.7 652.1 286.9 651.1 283.7 651.1 279.7 649.5 277.8 649.8 277.1 651.4 280.5 653.0 281.1 653.8 280.7 655.4 279.7 656.3M222.8 542.7 222.8 542.7M319.7 542.7 319.7 542.7M242.2 553.9 242.0 552.8 240.9 553.1 241.2 554.4 242.2 553.9M301.7 553.9 301.3 552.9 300.2 553.1 300.5 554.2 301.3 554.4 301.7 553.9M240.4 562.7 240.6 561.9 239.6 561.4 238.5 561.9 238.8 562.7 240.4 562.7M303.7 562.7 304.0 561.9 303.7 561.5 301.9 561.9 302.1 562.7 303.7 562.7M230.5 572.3 230.2 570.7 227.6 570.0 227.4 570.7 228.4 572.2 230.5 572.3M313.9 572.3 315.1 570.7 314.8 569.9 313.3 570.1 311.8 571.5 312.5 572.6 313.9 572.3M222.8 571.5 222.8 570.5 222.8 571.5M319.8 571.5 319.7 570.5 319.8 571.5M262.9 574.7 262.9 574.7M279.8 574.7 279.8 574.7M227.8 580.3 227.6 579.4 227.8 580.3M315.0 580.3 314.9 579.4 315.0 580.3M262.9 585.1 262.9 585.1M279.8 585.1 279.8 585.1M228.7 589.9 230.2 589.1 230.5 587.5 229.2 587.2 227.7 588.3 227.6 589.8 228.7 589.9M314.8 589.9 315.1 589.1 314.1 587.6 312.0 587.5 312.3 589.1 314.8 589.9M223.0 589.1 222.8 588.3 223.0 589.1M319.9 589.1 319.7 588.3 319.9 589.1M240.6 597.9 240.4 597.1 239.6 596.9 238.8 597.1 238.5 597.9 239.6 598.4 240.6 597.9M304.0 597.9 303.7 597.1 302.9 596.9 302.1 597.1 301.9 597.9 302.9 598.4 304.0 597.9M242.3 606.7 242.0 605.6 241.2 605.4 240.8 605.9 241.2 606.9 242.3 606.7M301.6 606.7 301.3 605.4 300.5 605.6 300.5 607.0 301.6 606.7M222.8 617.1 222.8 617.1M319.7 617.1 319.7 617.1" stroke="#a1ef00"/><path d="M278.9 655.7 277.3 655.5 274.9 653.6 270.8 654.0 267.6 653.6 265.2 655.5 263.6 655.7 262.5 654.6 262.7 653.8 266.0 652.7 266.8 651.4 265.8 649.8 264.5 649.0 262.8 648.7 258.0 649.5 254.0 648.2 253.5 649.8 250.8 650.8 246.8 646.8 245.2 646.4 242.8 644.7 239.6 643.8 238.0 642.4 235.1 641.0 233.6 637.0 230.0 635.2 229.0 633.8 229.2 631.8 231.6 631.0 232.7 629.8 230.2 625.8 228.9 622.6 227.6 621.6 226.0 621.6 224.3 623.4 222.8 623.9 221.7 622.6 222.0 620.5 225.4 616.3 224.4 612.9 223.6 612.2 222.8 612.9 220.4 616.9 218.8 616.7 217.0 614.7 217.2 613.1 218.8 609.7 220.4 609.0 222.8 610.7 223.6 610.6 225.4 608.3 225.0 607.5 221.2 605.8 216.4 602.2 214.8 601.9 213.2 602.4 212.3 601.9 213.2 599.5 211.7 595.5 212.2 591.5 210.9 586.7 210.9 584.3 212.4 581.2 215.9 580.3 215.6 579.1 213.2 579.2 212.4 578.6 210.9 575.5 210.9 573.1 212.2 568.3 211.7 564.3 213.2 560.3 212.3 557.9 213.2 557.4 214.8 557.9 216.4 557.6 221.2 554.0 224.4 552.7 225.4 551.5 223.6 549.2 222.8 549.1 220.4 550.8 218.8 550.1 217.2 546.7 217.0 545.1 218.8 543.1 220.4 542.9 222.8 546.9 223.6 547.6 224.4 546.9 225.4 543.5 222.0 539.3 221.7 537.2 222.8 535.9 224.3 536.4 226.0 538.2 227.6 538.2 228.9 537.2 230.2 534.0 232.7 530.0 231.6 528.8 229.2 528.0 229.0 526.0 230.0 524.6 233.6 522.8 235.1 518.8 238.0 517.4 239.6 516.0 242.8 515.1 245.2 513.4 246.8 513.0 250.8 509.0 253.5 510.0 254.0 511.6 258.0 510.3 262.8 511.1 264.5 510.8 265.8 510.0 266.8 508.4 266.0 507.1 262.7 506.0 262.5 505.2 263.6 504.1 265.2 504.3 267.6 506.2 271.7 505.8 274.9 506.2 277.3 504.3 278.9 504.1 280.0 505.2 279.8 506.0 276.5 507.1 275.7 508.4 276.7 510.0 278.0 510.8 279.7 511.1 284.5 510.3 288.5 511.6 289.0 510.0 291.7 509.0 295.7 513.0 297.3 513.4 299.7 515.1 302.9 516.0 304.5 517.4 307.4 518.8 308.9 522.8 312.5 524.6 313.5 526.0 313.3 528.0 310.9 528.8 309.8 530.0 312.3 534.0 313.6 537.2 314.9 538.2 316.5 538.2 318.2 536.4 319.7 535.9 320.8 537.2 320.5 539.3 317.1 543.5 318.1 546.9 318.9 547.6 319.7 546.9 322.1 542.9 323.7 543.1 325.5 545.1 325.3 546.7 323.7 550.1 322.1 550.8 319.7 549.1 318.9 549.2 317.1 551.5 317.5 552.3 321.3 554.0 326.1 557.6 327.7 557.9 329.3 557.4 330.2 557.9 329.3 560.3 330.8 564.3 330.3 568.3 331.6 573.1 331.6 575.5 330.1 578.6 326.6 579.5 326.9 580.7 329.3 580.6 330.1 581.2 331.6 584.3 331.6 586.7 330.3 591.5 330.8 595.5 329.3 599.5 330.2 601.9 329.3 602.4 327.7 601.9 326.1 602.2 321.3 605.8 318.1 607.1 317.1 608.3 318.9 610.6 319.7 610.7 322.1 609.0 323.7 609.7 325.3 613.1 325.5 614.7 323.7 616.7 322.1 616.9 319.7 612.9 318.9 612.2 318.1 612.9 317.1 616.3 320.5 620.5 320.8 622.6 319.7 623.9 318.2 623.4 316.5 621.6 314.9 621.6 313.6 622.6 312.3 625.8 309.8 629.8 310.9 631.0 313.3 631.8 313.5 633.8 312.5 635.2 308.9 637.0 307.4 641.0 304.5 642.4 302.9 643.8 299.7 644.7 297.3 646.4 295.7 646.8 291.7 650.8 289.0 649.8 288.5 648.2 284.5 649.5 279.7 648.7 278.0 649.0 276.7 649.8 275.7 651.4 276.5 652.7 279.8 653.8 280.0 654.6 278.9 655.7M226.8 530.9 225.3 530.0 225.2 528.4 226.8 528.1 228.3 529.2 226.8 530.9M315.7 530.9 314.2 529.2 315.7 528.1 317.3 528.4 317.2 530.0 315.7 530.9M233.3 543.5 233.3 541.9 232.4 541.6 232.4 543.5 233.3 543.5M309.9 543.5 310.4 542.7 310.1 541.6 309.3 541.8 309.0 542.7 309.3 543.6 309.9 543.5M230.0 550.7 229.2 549.8 228.6 550.7 230.0 550.7M313.9 550.7 313.3 549.8 312.5 550.7 313.9 550.7M242.2 555.5 243.2 553.9 243.3 552.3 242.0 551.8 240.4 552.0 239.2 553.9 239.3 555.5 241.2 556.0 242.2 555.5M303.2 555.5 303.3 553.9 302.1 552.0 300.5 551.8 299.2 552.3 299.3 553.9 300.5 555.8 303.2 555.5M241.9 563.5 242.5 562.7 242.4 561.9 241.2 560.6 238.8 560.4 237.3 561.9 237.4 562.7 238.8 563.6 241.9 563.5M303.9 563.5 305.1 562.7 305.2 561.9 303.7 560.4 301.3 560.6 300.1 561.9 300.0 562.7 300.6 563.5 302.1 563.9 303.9 563.5M249.5 567.5 250.3 566.7 248.4 566.0 246.0 564.1 245.2 563.8 244.1 564.3 244.7 565.9 246.0 566.9 249.5 567.5M295.0 567.5 297.8 565.9 298.3 565.1 298.1 564.0 296.5 564.1 294.1 566.0 292.2 566.7 293.0 567.5 295.0 567.5M222.0 573.9 224.2 570.7 224.4 569.9 223.7 569.1 222.0 569.8 220.9 572.3 221.2 573.9 222.0 573.9M232.2 573.9 231.8 571.5 230.0 570.0 227.6 569.1 226.3 569.9 228.4 573.0 231.6 574.5 232.2 573.9M312.1 573.9 314.1 573.0 315.5 571.5 316.2 569.9 315.7 569.3 313.3 569.6 310.7 571.5 310.3 573.9 310.9 574.5 312.1 573.9M321.3 573.9 321.6 572.3 320.5 569.9 318.8 569.1 318.1 569.9 318.6 571.5 320.5 573.9 321.3 573.9M254.2 570.7 254.0 569.5 253.2 569.3 253.0 570.7 254.2 570.7M289.5 570.7 289.3 569.3 288.5 569.5 288.3 570.7 289.5 570.7M239.2 574.7 238.0 572.3 237.2 572.2 236.9 574.7 238.8 575.5 239.2 574.7M305.6 574.7 305.3 572.2 304.5 572.3 303.3 574.7 303.7 575.5 305.6 574.7M251.7 575.5 251.6 574.2 250.8 573.5 250.2 574.7 250.8 575.7 251.7 575.5M263.9 575.5 264.0 574.7 263.2 573.9 262.0 573.5 261.3 573.9 262.0 575.1 263.9 575.5M279.7 575.5 281.2 573.9 280.5 573.5 278.9 574.3 278.6 575.5 279.7 575.5M291.9 575.5 292.3 574.7 291.7 573.5 290.9 574.2 290.8 575.5 291.9 575.5M228.7 581.1 229.0 579.5 228.4 578.4 227.6 578.1 226.8 578.9 226.8 580.9 227.6 581.7 228.7 581.1M315.6 581.1 315.6 578.7 314.9 578.1 314.1 578.4 313.5 579.5 313.8 581.1 314.9 581.7 315.6 581.1M251.5 585.9 251.7 584.3 250.8 584.1 250.2 585.1 250.4 585.9 250.8 586.3 251.5 585.9M263.2 585.9 264.0 585.1 263.9 584.3 262.0 584.7 261.3 585.9 262.0 586.3 263.2 585.9M281.2 585.9 280.5 584.7 278.6 584.3 278.5 585.1 279.3 585.9 280.5 586.3 281.2 585.9M292.1 585.9 291.9 584.3 290.9 584.1 291.0 585.9 291.7 586.3 292.1 585.9M238.1 587.5 239.1 585.9 238.8 584.3 237.2 584.8 236.7 585.9 237.2 587.6 238.1 587.5M305.3 587.5 305.6 585.1 303.7 584.3 303.3 585.1 303.7 586.4 304.5 587.5 305.3 587.5M223.7 590.7 224.4 589.9 223.9 588.3 222.0 585.9 221.2 585.9 220.9 587.5 222.0 589.9 223.7 590.7M227.6 590.7 229.9 589.9 231.8 588.3 232.3 586.7 231.6 585.3 228.4 586.8 227.0 588.3 226.3 589.9 227.6 590.7M314.9 590.7 316.2 589.9 315.5 588.3 314.1 586.8 310.9 585.3 310.2 586.7 310.7 588.3 312.6 589.9 314.9 590.7M319.1 590.7 320.5 590.0 320.9 589.1 321.7 586.7 321.3 585.9 319.7 586.7 318.3 589.1 318.1 589.9 319.1 590.7M254.3 589.9 254.0 588.9 253.0 589.1 253.2 590.5 254.3 589.9M289.6 589.9 289.3 588.8 288.3 589.1 288.5 590.3 289.3 590.5 289.6 589.9M246.4 595.5 248.4 593.8 250.3 593.1 249.2 592.2 246.0 592.9 244.7 593.9 244.1 595.5 245.2 596.0 246.4 595.5M298.4 595.5 297.8 593.9 295.7 592.5 293.3 592.2 292.2 593.1 294.1 593.8 296.5 595.7 297.3 596.0 298.4 595.5M240.0 599.5 241.2 599.2 242.4 597.9 242.5 597.1 241.9 596.3 239.6 596.0 237.4 597.1 237.3 597.9 238.0 599.0 240.0 599.5M303.1 599.5 304.8 598.7 305.1 597.1 302.9 596.0 300.6 596.3 300.0 597.1 300.6 598.7 303.1 599.5M243.3 607.5 243.2 605.9 242.0 604.0 239.3 604.3 239.2 605.9 240.4 607.8 242.0 608.0 243.3 607.5M302.4 607.5 303.6 605.1 303.2 604.3 300.5 604.0 299.3 605.9 299.2 607.5 300.5 608.0 302.4 607.5M229.5 609.9 230.0 609.1 228.6 609.1 228.9 609.9 229.5 609.9M313.6 609.9 313.9 609.1 312.5 609.1 313.6 609.9M233.3 617.9 233.3 616.3 232.4 616.3 232.2 617.9 232.4 618.2 233.3 617.9M310.3 617.9 310.1 616.3 309.3 616.2 309.3 618.0 310.3 617.9M227.6 631.5 225.2 631.4 225.3 629.8 226.8 628.9 227.6 629.4 228.3 630.6 227.6 631.5M317.3 631.4 314.7 631.4 314.2 630.6 314.5 629.8 315.7 628.9 316.5 629.2 317.3 630.1 317.3 631.4" stroke="#36f600"/><path d="M272.5 652.3 269.7 652.2 267.0 649.8 263.6 648.1 258.8 648.5 254.0 646.9 252.6 647.4 250.8 649.0 242.8 642.9 240.4 642.9 238.8 641.4 236.5 640.2 234.6 637.0 230.6 634.6 230.0 633.0 233.2 630.8 233.5 629.8 230.7 625.8 229.2 622.0 227.6 620.8 225.0 620.2 226.6 616.3 225.0 611.5 226.0 609.9 228.4 611.1 230.0 610.9 233.2 606.5 232.4 606.3 228.4 607.8 226.8 607.7 219.6 603.7 216.1 601.1 212.7 596.3 213.0 590.7 211.5 585.9 212.4 582.5 213.2 582.0 215.6 581.9 216.9 580.3 216.4 578.5 215.6 577.9 213.2 577.8 212.2 577.1 211.6 575.5 211.5 573.1 213.0 569.1 212.4 564.3 213.2 562.7 216.1 558.7 219.6 556.1 226.8 552.1 228.4 552.0 232.4 553.5 233.2 553.3 230.0 548.9 228.4 548.7 226.0 549.9 225.0 548.3 226.6 543.5 225.0 539.6 227.6 539.0 229.2 537.8 230.7 534.0 233.5 530.0 233.2 529.0 230.0 526.8 230.6 525.2 234.6 522.8 236.5 519.6 238.8 518.4 240.4 516.9 242.8 516.9 250.8 510.8 252.6 512.4 254.0 512.9 258.8 511.3 263.6 511.7 267.0 510.0 269.2 507.9 270.8 507.3 272.8 507.6 275.5 510.0 278.9 511.7 283.7 511.3 288.5 512.9 289.9 512.4 291.7 510.8 299.7 516.9 302.1 516.9 303.7 518.4 306.0 519.6 307.9 522.8 311.9 525.2 312.5 526.8 309.3 529.0 309.0 530.0 311.8 534.0 313.3 537.8 314.9 539.0 317.5 539.6 315.9 543.5 317.5 548.3 316.5 549.9 314.1 548.7 312.5 548.9 309.3 553.3 310.1 553.5 314.1 552.0 315.7 552.1 322.9 556.1 326.4 558.7 329.8 563.5 329.5 569.1 331.0 573.9 330.1 577.3 329.3 577.8 326.9 577.9 325.6 579.5 326.1 581.3 326.9 581.9 329.3 582.0 330.3 582.7 330.9 584.3 331.0 586.7 329.5 590.7 330.1 595.5 329.3 597.1 326.4 601.1 322.9 603.7 315.7 607.7 314.1 607.8 310.1 606.3 309.3 606.5 312.5 610.9 314.1 611.1 316.5 609.9 317.5 611.5 315.9 616.3 317.5 620.2 314.9 620.8 313.3 622.0 311.8 625.8 309.0 629.8 309.3 630.8 312.5 633.0 311.9 634.6 307.9 637.0 306.0 640.2 303.7 641.4 302.1 642.9 299.7 642.9 294.9 646.2 292.5 648.7 290.9 648.7 289.9 647.4 288.5 646.9 283.7 648.5 278.9 648.1 275.5 649.8 272.5 652.3M243.9 522.0 244.4 518.8 243.6 517.5 242.8 517.4 241.8 518.8 241.8 520.4 242.8 522.4 243.9 522.0M300.2 522.0 300.7 518.8 299.7 517.4 298.9 517.5 298.1 518.8 298.2 521.2 298.9 522.2 300.2 522.0M239.1 525.2 238.8 524.8 239.1 525.2M303.8 525.2 303.8 525.2M242.9 531.6 243.5 530.0 242.9 529.2 241.2 528.7 240.6 529.2 240.4 530.8 241.2 532.0 242.9 531.6M301.6 531.6 302.1 530.8 301.9 529.2 301.3 528.7 299.6 529.2 299.0 530.0 299.7 531.6 300.5 532.1 301.6 531.6M233.7 544.3 234.4 542.7 234.0 540.9 233.2 540.0 232.4 540.2 231.4 541.1 231.3 542.7 232.4 544.5 233.7 544.3M310.2 544.3 311.2 542.7 311.1 541.1 309.3 540.0 308.5 540.9 308.2 543.5 309.3 544.6 310.2 544.3M248.4 545.9 249.2 543.5 248.4 542.6 246.8 542.4 246.0 543.7 247.6 546.2 248.4 545.9M295.1 545.9 296.5 543.5 296.3 542.7 294.9 542.3 293.3 543.5 294.1 545.9 295.1 545.9M220.4 549.4 218.8 548.4 218.3 546.7 218.4 545.1 219.6 544.2 220.4 544.6 221.7 547.5 221.2 548.9 220.4 549.4M322.9 549.3 321.6 549.1 320.8 547.5 322.1 544.6 322.9 544.2 323.7 544.6 324.3 545.9 323.7 548.3 322.9 549.3M272.6 550.7 272.9 549.9 271.7 548.5 270.0 549.1 269.6 549.9 270.0 550.8 272.6 550.7M242.2 557.1 244.3 552.3 243.6 551.3 240.4 551.2 238.9 552.3 237.2 555.5 238.8 557.1 241.2 557.6 242.2 557.1M303.5 557.1 305.3 555.5 303.0 551.5 301.3 551.1 298.5 551.5 298.3 553.1 300.5 557.4 303.5 557.1M253.1 577.1 252.8 573.1 255.2 571.5 255.5 570.7 253.7 565.9 255.8 562.7 253.2 561.7 251.6 561.7 250.8 562.1 249.8 564.3 248.4 564.8 244.4 562.4 241.2 559.1 238.8 559.5 237.2 560.5 236.3 561.9 237.0 563.5 242.8 565.4 246.8 568.1 250.8 569.3 251.3 570.7 249.4 574.7 251.6 577.7 252.4 577.9 253.1 577.1M291.5 577.1 293.1 574.7 291.2 570.7 291.7 569.3 295.7 568.1 299.7 565.4 305.5 563.5 306.2 561.9 304.5 559.8 301.3 559.1 298.1 562.4 294.1 564.8 292.7 564.3 291.7 562.1 290.9 561.7 289.3 561.7 286.7 562.7 288.4 565.1 288.8 566.7 287.0 570.7 287.3 571.5 289.7 573.1 289.4 577.1 290.1 577.9 291.5 577.1M258.2 561.9 256.6 561.9 257.2 562.4 258.2 561.9M285.9 561.9 284.3 561.9 285.3 562.4 285.9 561.9M219.7 565.9 221.0 564.3 221.2 562.5 220.4 562.1 216.5 563.5 217.2 565.3 219.7 565.9M324.2 565.9 325.6 565.1 326.0 563.5 322.1 562.1 321.3 562.5 322.1 565.5 324.2 565.9M270.4 565.1 270.0 564.2 269.2 563.9 268.9 564.3 269.2 565.5 270.4 565.1M273.5 565.1 273.3 563.9 272.3 564.3 272.5 565.6 273.5 565.1M232.9 576.3 234.3 573.9 234.2 571.5 227.6 568.5 222.8 568.4 221.8 569.1 219.5 573.1 220.4 574.9 222.0 575.4 225.2 571.0 226.0 571.3 230.8 575.9 232.4 576.7 232.9 576.3M311.0 576.3 317.3 571.0 320.5 575.4 322.1 574.9 323.0 573.1 320.7 569.1 319.7 568.4 314.9 568.5 308.3 571.5 308.1 573.1 309.0 575.5 310.1 576.7 311.0 576.3M239.1 576.3 240.0 575.5 239.9 573.9 238.0 570.4 236.4 569.8 235.0 571.5 235.3 573.9 236.7 575.5 239.1 576.3M303.8 576.3 305.8 575.5 307.2 573.9 307.5 571.5 306.1 569.8 304.5 570.4 302.6 573.9 302.5 575.5 303.8 576.3M267.1 578.7 269.5 577.1 269.2 576.3 268.4 576.1 267.6 576.9 265.2 576.2 263.6 573.8 262.0 573.0 260.7 573.1 260.6 573.9 262.0 576.0 266.0 576.6 267.4 577.9 266.0 578.7 267.1 578.7M276.5 578.7 275.1 577.9 276.5 576.6 280.5 576.0 281.9 573.9 281.8 573.1 280.5 573.0 278.9 573.8 277.3 576.2 274.9 576.9 274.1 576.1 273.3 576.3 273.0 577.1 274.1 578.2 275.7 579.0 276.5 578.7M268.4 577.5 267.9 577.1 268.4 576.4 268.9 577.1 268.4 577.5M271.7 577.1 270.8 576.8 270.8 577.3 271.7 577.1M274.1 577.5 273.6 577.1 274.1 576.4 274.6 577.1 274.1 577.5M229.0 581.9 229.8 579.5 229.0 577.9 227.6 577.2 226.8 577.6 226.3 578.7 226.3 581.1 226.8 582.2 227.6 582.6 229.0 581.9M261.7 577.9 261.2 577.5 260.4 577.9 261.7 577.9M282.1 577.9 281.3 577.5 280.8 577.9 282.1 577.9M315.9 581.9 316.3 580.3 315.9 577.9 314.9 577.2 314.1 577.4 312.7 579.5 312.9 581.1 314.1 582.4 314.9 582.6 315.9 581.9M262.4 586.7 263.8 585.9 265.2 583.6 267.6 582.9 268.4 583.7 269.2 583.5 269.5 582.7 266.8 580.8 266.0 581.1 267.4 581.9 266.0 583.2 262.0 583.8 261.2 584.7 260.6 585.9 260.7 586.7 262.4 586.7M281.8 586.7 281.9 585.9 280.5 583.8 276.5 583.2 275.1 581.9 276.5 581.1 275.7 580.8 273.0 582.7 273.3 583.5 274.1 583.7 274.9 582.9 277.3 583.6 278.9 586.0 280.5 586.8 281.8 586.7M261.7 581.9 260.4 581.9 261.2 582.3 261.7 581.9M282.1 581.9 280.8 581.9 281.3 582.3 282.1 581.9M241.9 600.3 244.4 597.4 248.4 595.0 249.8 595.5 250.8 597.7 251.6 598.1 253.2 598.1 255.8 597.1 254.1 594.7 253.7 593.1 255.5 589.1 255.2 588.3 252.8 586.7 253.2 583.5 252.4 581.9 250.8 582.8 249.4 585.1 251.3 589.1 250.8 590.5 246.8 591.7 242.8 594.4 238.0 595.8 236.3 597.1 236.7 598.7 238.0 600.0 240.4 600.6 241.9 600.3M268.4 583.4 267.9 582.7 268.4 582.3 268.9 582.7 268.4 583.4M271.7 582.7 270.8 582.5 270.8 583.0 271.7 582.7M274.1 583.4 273.6 582.7 274.1 582.3 274.6 582.7 274.1 583.4M303.8 600.3 305.8 598.7 306.1 596.9 304.5 595.8 299.7 594.4 295.7 591.7 291.7 590.5 291.2 589.1 293.1 585.1 291.7 582.8 290.1 581.9 289.3 583.5 289.7 586.7 287.3 588.3 287.0 589.1 288.8 593.1 288.4 594.7 286.7 597.1 289.3 598.1 290.9 598.1 291.7 597.7 292.7 595.5 294.1 595.0 298.1 597.4 300.5 600.2 301.3 600.7 303.8 600.3M223.9 591.5 228.4 591.0 234.2 588.3 234.3 585.9 233.2 583.8 232.4 583.1 231.6 583.4 225.2 588.8 222.0 584.4 220.4 584.9 219.5 586.7 219.8 587.5 222.0 590.9 223.9 591.5M237.4 589.9 239.9 585.9 240.0 584.3 239.1 583.5 236.7 584.3 235.3 585.9 235.4 589.1 236.4 590.0 237.4 589.9M306.3 589.9 307.5 588.3 306.7 585.1 304.5 583.7 302.9 583.7 302.4 585.1 303.7 588.1 305.3 590.0 306.3 589.9M319.1 591.5 320.5 590.9 322.7 587.5 323.0 586.7 322.1 584.9 320.5 584.4 317.3 588.8 310.9 583.4 310.1 583.1 309.3 583.8 308.2 585.9 308.3 588.3 314.9 591.3 319.1 591.5M221.3 597.1 220.7 594.7 219.6 593.8 218.0 594.0 216.4 595.5 216.5 596.3 217.2 596.7 220.4 597.7 221.3 597.1M323.9 597.1 326.0 596.3 326.1 595.5 324.5 594.0 322.9 593.8 321.8 594.7 321.2 597.1 322.1 597.7 323.9 597.1M270.2 595.5 270.0 594.2 269.2 594.3 268.9 595.5 269.2 595.9 270.2 595.5M273.6 595.5 273.3 594.3 272.5 594.2 272.3 595.5 273.3 595.9 273.6 595.5M258.2 597.9 257.2 597.4 256.6 597.9 258.2 597.9M285.9 597.9 285.3 597.4 284.3 597.9 285.9 597.9M244.0 608.3 244.2 606.7 242.0 602.4 238.8 602.7 237.6 603.5 237.3 605.1 239.6 608.3 241.2 608.7 244.0 608.3M303.0 608.3 305.3 604.3 303.7 602.7 300.5 602.4 298.3 606.7 298.5 608.3 301.3 608.7 303.0 608.3M272.5 610.7 272.9 609.9 272.6 609.1 269.9 609.1 269.6 609.9 270.8 611.3 272.5 610.7M219.6 615.6 218.4 614.7 218.3 613.1 218.8 611.4 220.4 610.4 221.2 610.9 221.7 612.3 220.4 615.2 219.6 615.6M322.9 615.6 322.1 615.2 320.8 612.3 321.3 610.9 322.1 610.4 323.7 611.4 324.2 613.1 324.1 614.7 322.9 615.6M248.6 617.1 249.1 615.5 248.4 613.9 247.6 613.6 246.0 616.5 246.8 617.4 248.6 617.1M296.3 617.1 296.5 616.3 295.7 614.5 294.9 613.6 294.1 613.9 293.3 616.3 294.9 617.5 296.3 617.1M233.6 619.5 234.3 616.3 233.2 615.2 232.4 615.3 231.3 617.1 231.4 618.7 232.4 619.6 233.6 619.5M310.3 619.5 311.1 618.7 311.2 617.1 310.2 615.5 309.3 615.2 308.2 616.3 308.2 617.9 308.9 619.5 310.3 619.5M242.9 630.6 243.5 629.8 243.4 629.0 242.0 627.7 241.2 627.8 240.4 629.0 240.6 630.6 241.2 631.1 242.9 630.6M301.9 630.6 302.1 629.0 301.3 627.8 299.7 628.2 299.0 629.8 299.6 630.6 301.3 631.1 301.9 630.6M239.1 634.6 238.8 635.0 239.1 634.6M303.8 634.6 303.8 634.6M244.0 641.8 244.4 640.9 244.3 638.6 243.6 637.6 242.8 637.4 242.0 638.6 241.8 641.0 242.8 642.4 244.0 641.8M300.1 641.8 300.9 640.2 300.5 638.4 299.7 637.4 298.9 637.6 298.2 638.6 298.1 640.9 298.9 642.3 299.7 642.4 300.1 641.8" stroke="#00fa00"/><path d="M274.9 649.2 269.2 649.6 263.6 647.4 258.8 647.6 254.0 646.2 250.0 647.2 245.8 644.2 245.3 643.4 245.0 637.8 241.6 635.4 240.8 633.8 241.2 632.4 243.6 631.0 244.5 629.8 241.2 621.6 240.7 625.0 239.5 628.2 239.3 631.4 237.4 633.8 236.9 636.2 240.4 636.9 240.9 638.6 239.6 640.0 237.6 639.4 236.4 637.0 231.3 633.8 231.4 633.0 234.0 630.9 234.3 629.8 231.3 625.8 230.5 622.6 227.2 619.5 227.5 616.3 226.9 612.3 230.6 611.5 232.4 608.5 235.6 606.4 237.2 606.9 239.6 609.3 245.2 609.1 245.2 607.5 243.1 601.1 244.4 598.5 247.6 596.7 248.4 596.6 250.0 598.7 251.6 599.5 254.0 599.8 256.4 599.3 258.8 599.8 260.4 602.2 261.2 601.9 261.5 601.1 259.4 597.1 256.4 596.1 255.0 594.7 255.1 592.3 257.1 588.3 253.7 585.9 254.3 582.7 253.0 580.3 254.3 577.1 253.7 573.9 257.1 571.5 255.1 567.5 255.0 565.1 256.4 563.7 259.4 562.7 261.5 559.5 261.3 557.9 260.4 557.6 258.8 560.0 255.6 560.5 253.2 560.0 250.8 560.6 248.4 563.2 247.6 563.1 244.4 561.3 243.1 558.7 245.2 552.3 245.2 550.7 239.6 550.5 237.2 552.9 235.6 553.4 232.4 551.3 230.6 548.3 226.9 547.5 227.5 543.5 227.2 540.3 230.5 537.2 231.3 534.0 234.3 530.0 234.0 528.9 231.4 526.8 231.3 526.0 236.4 522.8 237.6 520.4 239.6 519.8 240.4 520.2 240.9 522.0 240.6 522.8 236.9 523.6 237.4 526.0 239.3 528.4 239.5 531.6 240.7 534.8 241.2 538.2 244.5 530.0 243.6 528.8 241.2 527.4 240.8 526.0 241.6 524.4 245.0 522.0 245.3 516.4 245.8 515.6 250.0 512.6 254.0 513.6 258.8 512.2 263.6 512.4 267.6 510.6 270.8 510.0 274.9 510.6 278.9 512.4 283.7 512.2 288.5 513.6 292.5 512.6 296.7 515.6 297.2 516.4 297.5 522.0 300.9 524.4 301.7 526.0 301.3 527.4 298.9 528.8 298.0 530.0 301.3 538.2 301.8 534.8 303.0 531.6 303.2 528.4 305.1 526.0 305.6 523.6 302.1 522.9 301.6 521.2 302.9 519.8 305.3 520.7 306.1 522.8 311.2 526.0 311.1 526.8 308.5 528.9 308.2 530.0 311.2 534.0 312.0 537.2 315.3 540.3 315.0 543.5 315.6 547.5 311.9 548.3 310.1 551.3 306.9 553.4 305.3 552.9 302.9 550.5 297.3 550.7 297.3 552.3 299.4 558.7 298.1 561.3 294.9 563.1 294.1 563.2 292.5 561.1 290.9 560.3 288.5 560.0 286.1 560.5 283.7 560.0 282.1 557.6 281.3 557.9 281.0 558.7 283.1 562.7 286.1 563.7 287.5 565.1 287.4 567.5 285.4 571.5 288.8 573.9 288.2 577.1 289.5 579.5 288.2 582.7 288.8 585.9 285.4 588.3 287.4 592.3 287.5 594.7 286.1 596.1 283.1 597.1 281.0 600.3 281.2 601.9 282.1 602.2 283.7 599.8 286.9 599.3 289.3 599.8 291.7 599.2 294.1 596.6 294.9 596.7 298.1 598.5 299.4 601.1 297.3 607.5 297.3 609.1 302.9 609.3 305.3 606.9 306.9 606.4 310.1 608.5 311.9 611.5 315.6 612.3 315.0 616.3 315.3 619.5 312.0 622.6 311.2 625.8 308.2 629.8 308.5 630.9 311.1 633.0 311.2 633.8 306.1 637.0 304.9 639.4 302.9 640.0 302.1 639.6 301.6 637.8 301.9 637.0 305.6 636.2 305.1 633.8 303.2 631.4 303.0 628.2 301.8 625.0 301.3 621.6 298.0 629.8 298.9 631.0 301.3 632.4 301.7 633.8 300.9 635.4 297.5 637.8 297.2 643.4 296.7 644.2 292.5 647.2 288.5 646.2 283.7 647.6 278.9 647.4 274.9 649.2M233.6 545.1 235.0 543.5 235.9 539.6 235.8 538.8 234.8 538.2 232.4 538.9 230.5 541.1 231.6 544.5 232.4 545.2 233.6 545.1M310.2 545.1 311.8 542.7 311.7 540.3 309.3 538.5 306.9 538.5 306.6 539.6 307.5 543.5 308.5 544.9 310.2 545.1M247.7 547.5 249.2 546.5 250.8 542.7 247.6 541.5 246.0 541.9 245.1 542.7 245.1 543.5 246.8 547.2 247.7 547.5M294.9 547.5 295.7 547.2 297.4 543.5 297.4 542.7 296.5 541.9 294.9 541.5 291.7 542.7 293.3 546.5 294.9 547.5M241.2 542.7 240.4 542.1 240.0 542.7 240.4 543.3 241.2 542.7M302.5 542.7 302.1 542.1 301.3 542.7 302.1 543.3 302.5 542.7M274.5 551.5 273.4 549.1 271.7 547.8 270.8 547.8 269.2 549.0 268.0 551.5 268.4 552.2 270.8 551.7 274.1 552.2 274.5 551.5M263.8 552.3 263.8 552.3M278.9 552.3 278.9 552.3M229.2 606.8 226.8 606.7 222.0 603.2 219.6 602.7 216.9 600.3 216.5 598.7 217.2 598.1 218.8 598.3 220.4 600.0 221.2 599.9 222.4 597.9 222.2 596.3 220.5 593.1 218.8 592.8 217.2 593.3 214.8 595.9 214.0 596.2 213.4 594.7 214.8 589.9 213.2 588.4 212.2 585.9 212.8 583.5 215.6 583.0 217.5 580.3 217.3 578.7 216.4 577.4 215.6 576.8 213.2 576.7 212.3 575.5 212.4 573.0 214.8 569.9 214.0 568.5 213.5 564.3 214.0 563.6 214.8 563.9 216.4 565.9 218.0 566.9 220.5 566.7 222.4 562.7 222.1 561.1 221.2 559.9 220.4 559.8 218.8 561.5 217.2 561.7 216.5 561.1 216.9 559.5 219.6 557.1 222.0 556.6 226.8 553.1 228.4 552.8 232.4 554.7 234.0 557.4 236.4 557.7 237.2 558.7 234.5 563.5 243.6 566.9 249.2 570.1 249.7 570.7 248.7 574.7 251.2 579.5 251.0 581.1 248.7 585.1 249.7 589.1 249.2 589.7 243.6 592.9 234.5 596.3 237.2 601.1 236.4 602.1 234.0 602.4 232.4 605.1 229.2 606.8M315.7 606.7 314.1 607.0 312.5 606.5 309.2 604.3 308.5 602.4 305.8 601.9 305.3 601.1 308.0 596.3 298.9 592.9 293.3 589.7 292.8 589.1 293.8 585.1 291.3 580.3 291.5 578.7 293.8 574.7 292.8 570.7 293.3 570.1 298.9 566.9 308.0 563.5 305.3 558.7 306.1 557.7 308.5 557.4 310.1 554.7 314.1 552.8 315.7 553.1 320.5 556.6 322.9 557.1 325.6 559.5 326.0 561.1 325.3 561.7 323.7 561.5 322.1 559.8 321.3 559.9 320.1 561.9 320.3 563.5 322.0 566.7 323.7 567.0 325.3 566.5 327.7 563.9 328.5 563.6 329.1 565.1 327.7 569.9 329.3 571.4 330.3 573.9 329.7 576.3 326.9 576.8 325.0 579.5 325.2 581.1 326.1 582.4 326.9 583.0 329.3 583.1 330.2 584.3 330.1 586.8 327.7 589.9 328.5 591.3 329.0 595.5 328.5 596.2 327.7 595.9 326.1 593.9 324.5 592.9 322.0 593.1 320.1 597.1 320.5 598.8 321.3 599.9 322.1 600.0 323.7 598.3 325.3 598.1 326.0 598.7 326.0 599.5 322.9 602.7 320.5 603.2 315.7 606.7M268.0 561.1 268.5 558.7 267.6 557.9 266.5 559.5 267.6 561.8 268.0 561.1M275.2 561.1 276.0 559.5 274.9 557.9 274.0 559.5 274.9 561.8 275.2 561.1M272.9 567.5 274.4 565.1 274.8 562.7 274.1 562.0 270.8 563.1 268.4 562.0 267.7 563.5 269.2 567.3 270.0 567.9 272.9 567.5M233.2 564.3 233.2 563.5 231.6 563.0 231.6 564.5 233.2 564.3M311.0 564.3 310.9 563.0 309.3 563.5 309.3 564.3 311.0 564.3M237.2 591.5 238.8 589.6 240.6 585.9 240.8 584.3 239.6 582.7 234.8 583.9 234.0 582.7 233.9 577.9 234.8 575.9 239.6 577.1 240.6 576.3 240.6 573.9 238.0 568.9 236.4 568.2 234.0 569.7 232.4 570.0 227.6 568.0 223.6 567.6 222.0 567.9 219.6 571.2 218.8 571.2 216.4 569.6 214.8 569.9 215.6 572.7 218.0 573.5 221.2 576.6 223.2 575.5 225.2 572.2 226.8 573.0 228.2 575.5 226.2 577.1 225.8 578.7 226.0 582.3 228.2 584.3 226.8 586.8 225.2 587.6 223.2 584.3 221.2 583.2 218.0 586.3 215.6 587.1 214.8 589.9 216.4 590.2 218.8 588.6 219.6 588.6 221.5 591.5 222.8 592.1 227.6 591.8 232.4 589.8 234.0 590.1 236.4 591.6 237.2 591.5M321.0 591.5 322.9 588.6 323.7 588.6 326.1 590.2 327.7 589.9 327.2 587.5 324.5 586.3 321.3 583.2 319.3 584.3 317.3 587.6 315.7 586.8 314.3 584.3 316.5 582.3 316.7 578.7 316.3 577.1 314.3 575.5 314.5 574.7 316.5 572.3 317.3 572.2 319.3 575.5 321.3 576.6 324.5 573.5 326.9 572.7 327.7 569.9 326.1 569.6 323.7 571.2 322.9 571.2 321.0 568.3 319.7 567.7 314.9 568.0 310.1 570.0 308.5 569.7 306.1 568.2 305.3 568.3 303.7 570.2 301.9 573.9 301.7 575.5 302.9 577.1 307.7 575.9 308.5 577.1 308.6 581.9 307.7 583.9 302.9 582.7 301.9 583.5 301.9 585.9 304.5 590.9 306.1 591.6 308.5 590.1 310.1 589.8 315.7 592.0 319.7 592.1 321.0 591.5M284.2 587.5 281.7 584.3 281.7 583.5 284.2 581.9 284.6 581.1 284.2 577.9 281.7 576.3 281.7 575.5 284.2 572.3 279.7 572.9 276.5 575.8 274.9 576.5 274.1 575.2 273.3 575.8 272.9 575.5 272.5 573.4 271.7 574.9 270.8 574.9 270.0 573.4 269.6 575.5 269.2 575.8 268.4 575.2 267.6 576.5 266.0 575.8 262.8 572.9 258.3 572.3 260.8 575.5 260.8 576.3 258.3 577.9 257.9 578.7 258.3 581.9 260.8 583.5 260.8 584.3 258.3 587.5 262.8 586.9 266.0 584.0 267.6 583.3 268.4 584.6 269.2 584.0 269.6 584.3 270.0 586.4 270.8 584.9 271.7 584.9 272.5 586.4 272.9 584.3 273.3 584.0 274.1 584.6 274.9 583.3 276.5 584.0 279.7 586.9 284.2 587.5M265.2 583.0 263.6 583.1 263.1 582.7 263.6 581.9 259.9 580.3 259.9 579.5 263.6 577.9 263.1 577.1 263.6 576.7 265.2 576.8 266.6 577.9 264.9 578.7 266.4 579.5 266.4 580.3 264.9 581.1 266.6 581.9 265.2 583.0M270.0 577.4 270.0 576.7 270.0 577.4M272.5 577.4 272.5 576.7 272.5 577.4M278.9 583.1 277.3 583.0 275.9 581.9 277.6 581.1 276.1 580.3 276.1 579.5 277.6 578.7 275.9 577.9 278.1 576.6 279.4 577.1 278.9 577.9 282.6 579.5 282.6 580.3 278.9 581.9 279.4 582.7 278.9 583.1M269.2 578.2 269.2 577.7 269.2 578.2M273.3 578.2 273.3 577.7 273.3 578.2M268.4 578.9 268.1 578.7 268.8 578.7 268.4 578.9M272.5 581.7 270.0 581.7 269.5 581.1 269.5 578.7 270.0 578.1 272.5 578.1 273.0 578.7 273.0 581.1 272.5 581.7M274.1 578.9 273.7 578.7 274.4 578.7 274.1 578.9M268.4 581.2 268.4 580.9 268.4 581.2M274.1 581.2 274.1 580.9 274.1 581.2M269.2 582.1 269.2 581.6 269.2 582.1M273.3 582.1 273.3 581.6 273.3 582.1M270.0 583.1 270.0 582.4 270.0 583.1M272.5 583.1 272.5 582.4 272.5 583.1M274.8 597.1 274.1 593.9 272.5 591.9 270.0 591.9 269.2 592.5 267.7 596.3 268.4 597.8 270.8 596.7 274.1 597.8 274.8 597.1M233.2 596.3 233.2 595.5 231.5 595.5 231.6 596.8 233.2 596.3M311.1 596.3 310.9 595.3 309.3 595.5 309.3 596.3 310.1 596.7 310.9 596.8 311.1 596.3M267.8 601.9 268.5 600.3 267.6 598.0 266.5 600.3 267.8 601.9M274.9 601.9 276.0 600.3 274.9 598.0 274.0 601.1 274.9 601.9M263.8 607.5 263.8 607.5M278.9 607.5 278.9 607.5M272.6 611.5 274.3 609.1 274.1 607.6 271.7 608.1 268.4 607.6 268.2 609.1 269.9 611.5 270.8 612.0 272.6 611.5M249.1 617.9 250.8 617.1 250.8 616.3 249.1 613.1 247.6 612.3 246.8 612.6 245.1 617.1 246.8 618.2 249.1 617.9M296.5 617.9 297.4 617.1 297.4 616.3 295.7 612.6 294.1 612.5 291.7 617.1 294.9 618.3 296.5 617.9M235.8 621.0 235.0 616.3 234.0 614.9 232.4 614.6 230.7 617.1 230.8 619.5 233.2 621.3 234.8 621.6 235.8 621.0M309.9 621.0 311.7 619.5 312.0 617.9 310.9 615.3 309.3 614.4 307.5 616.3 306.6 620.2 306.7 621.0 307.7 621.6 309.9 621.0M241.2 617.1 240.4 616.5 240.0 617.1 240.4 617.7 241.2 617.1M302.5 617.1 302.1 616.5 301.3 617.1 302.1 617.7 302.5 617.1" stroke="#00fa00"/><path d="M295.7 562.0 294.8 561.9 287.7 556.6 284.5 556.0 282.8 553.1 279.7 550.4 278.9 550.0 275.7 550.5 271.7 547.0 270.0 547.5 266.8 550.5 263.6 550.0 262.8 550.4 259.7 553.1 258.0 556.0 254.8 556.6 247.6 562.0 245.3 561.1 244.3 559.5 244.1 557.1 246.8 549.1 249.5 547.5 252.7 542.7 251.6 541.5 247.6 540.9 243.6 542.7 242.2 540.3 244.5 535.6 244.1 533.2 245.3 530.0 244.4 528.6 242.0 526.8 241.9 526.0 245.9 522.0 246.1 517.2 246.8 515.9 250.0 513.8 253.2 514.4 258.0 513.1 263.6 513.2 266.8 511.5 270.8 511.0 275.7 511.5 278.9 513.2 284.5 513.1 289.3 514.4 292.5 513.8 295.7 515.9 296.4 517.2 296.6 522.0 300.6 526.0 300.5 526.8 298.1 528.6 297.2 530.0 298.4 533.2 298.0 535.6 300.3 540.3 298.9 542.7 294.9 540.9 290.9 541.5 289.8 542.7 293.0 547.5 295.7 549.1 296.5 552.3 298.1 555.5 298.2 559.5 297.2 561.1 295.7 562.0M238.0 541.7 237.4 541.1 237.2 538.8 236.4 537.5 234.8 537.0 232.4 537.4 231.6 536.6 231.8 534.0 235.2 530.0 234.9 528.4 233.0 526.8 232.9 526.0 234.8 524.8 235.9 525.2 236.8 527.6 238.4 530.0 238.1 533.2 239.1 534.8 240.0 539.6 239.8 540.3 238.0 541.7M304.5 541.7 302.7 540.3 302.5 539.6 303.4 534.8 304.4 533.2 304.1 530.0 305.7 527.6 306.6 525.2 307.7 524.8 309.6 526.0 309.5 526.8 307.6 528.4 307.3 530.0 310.7 534.0 310.9 536.6 310.1 537.4 307.7 537.0 306.1 537.5 305.3 538.8 305.1 541.1 304.5 541.7M237.2 551.7 235.6 552.3 234.0 551.8 232.7 550.7 231.1 547.5 228.4 546.5 228.4 542.6 229.2 541.1 232.4 546.3 234.7 545.1 237.2 541.6 238.6 544.3 239.6 545.0 243.6 542.9 244.4 543.8 245.6 545.9 245.7 548.3 242.8 550.0 238.8 549.9 237.2 551.7M308.5 551.8 306.1 552.2 303.7 549.9 299.7 550.0 297.7 549.1 296.7 547.5 297.3 545.0 298.9 542.9 302.1 544.8 303.7 544.7 305.3 541.6 307.8 545.1 310.1 546.3 313.3 541.1 314.1 542.6 314.3 545.9 313.8 546.7 311.4 547.5 309.8 550.7 308.5 551.8M262.1 542.7 261.1 542.7 262.1 542.7M281.4 542.7 280.4 542.7 281.4 542.7M254.1 555.5 254.5 551.5 253.2 550.5 252.4 550.7 252.2 551.5 252.5 554.7 253.2 556.1 254.1 555.5M289.8 555.5 290.3 551.5 290.1 550.7 289.3 550.5 288.0 551.5 287.9 552.3 288.5 555.6 289.3 556.1 289.8 555.5M275.7 575.7 274.9 574.4 273.3 575.1 272.5 572.4 271.7 573.5 270.8 573.5 270.0 572.4 269.2 575.1 267.6 574.4 266.8 575.7 263.6 572.9 258.0 570.8 256.2 568.3 255.5 566.7 255.8 565.1 257.2 564.1 260.2 563.5 262.7 559.5 262.3 555.5 264.4 553.6 266.0 553.0 268.4 554.6 270.8 552.6 272.5 553.1 274.1 554.6 276.5 553.0 278.1 553.6 280.2 555.5 279.8 559.5 282.3 563.5 285.3 564.1 286.7 565.1 287.0 566.7 285.3 570.1 282.9 571.7 278.9 572.9 275.7 575.7M232.4 569.2 226.8 567.2 222.8 566.8 222.2 565.9 222.8 563.9 224.3 561.9 222.9 560.3 222.6 558.7 225.8 554.7 227.6 553.6 229.2 553.6 231.6 555.0 232.6 556.3 232.6 557.9 230.8 559.8 226.8 560.0 225.2 561.1 225.5 561.9 229.2 562.0 230.8 565.2 234.8 566.5 234.2 568.3 232.4 569.2M310.9 569.2 308.5 568.4 307.7 566.5 311.7 565.2 313.3 562.0 317.0 561.9 317.3 561.1 315.7 560.0 311.7 559.8 309.9 557.9 309.9 556.3 310.9 555.0 313.3 553.6 314.9 553.6 316.7 554.7 319.9 558.7 319.6 560.3 318.2 561.9 319.7 563.9 320.3 565.9 319.7 566.8 314.9 567.4 310.9 569.2M272.6 569.1 273.3 568.7 275.4 564.3 276.7 560.3 276.7 558.7 274.1 556.2 273.2 561.1 272.5 561.9 270.8 562.2 269.3 561.1 268.4 556.2 265.8 558.7 265.8 560.3 269.2 568.7 270.0 569.2 272.6 569.1M263.8 567.5 263.6 566.1 262.8 565.4 262.0 565.2 261.3 565.9 262.4 567.5 263.8 567.5M280.1 567.5 281.2 565.9 280.5 565.2 279.0 565.9 278.6 566.7 278.9 567.7 280.1 567.5M239.6 593.2 238.8 593.6 238.0 593.1 241.4 585.9 241.7 584.3 241.2 582.8 240.4 581.6 235.6 583.2 234.7 581.9 235.0 577.1 236.4 576.6 240.4 578.2 241.5 576.3 241.4 573.9 238.0 566.7 238.8 566.2 241.2 567.5 244.4 568.1 247.6 571.2 248.1 572.3 248.0 575.5 249.6 577.9 250.1 579.5 249.6 581.9 248.0 584.3 247.9 588.3 244.4 591.7 241.2 592.3 239.6 593.2M303.7 593.6 301.3 592.3 298.1 591.7 294.9 588.6 294.4 587.5 294.5 584.3 292.9 581.9 292.4 580.3 292.9 577.9 294.5 575.5 294.4 572.3 294.9 571.2 298.1 568.1 301.3 567.5 303.7 566.2 304.5 566.7 301.1 573.9 301.0 576.3 302.1 578.2 306.1 576.6 306.9 576.6 307.8 577.9 307.5 582.7 306.1 583.2 302.1 581.6 301.0 583.5 301.1 585.9 304.5 593.1 303.7 593.6M219.6 569.9 218.3 569.1 218.3 568.3 220.0 568.3 219.6 569.9M322.9 569.9 322.5 568.3 324.2 568.3 324.2 569.1 322.9 569.9M226.0 586.2 225.2 586.1 224.1 583.5 222.0 582.4 220.4 582.6 218.0 585.0 217.0 585.1 216.4 584.3 218.2 580.3 218.0 578.7 216.4 575.5 217.0 574.7 218.0 574.8 221.2 577.4 224.1 576.3 225.2 573.7 226.3 573.9 226.5 574.7 225.2 577.1 225.3 583.5 226.5 585.1 226.0 586.2M258.8 585.9 256.4 586.6 255.0 585.9 254.8 585.1 256.0 582.7 254.4 581.1 254.0 579.5 256.0 577.1 254.8 574.7 255.0 573.9 256.4 573.2 258.8 573.9 260.0 575.5 259.6 576.3 256.5 577.9 256.9 579.5 256.5 581.9 259.6 583.5 260.0 584.3 258.8 585.9M286.9 586.4 284.5 586.3 282.5 584.3 282.9 583.5 286.0 581.9 285.6 579.5 286.0 577.9 282.9 576.3 282.5 575.5 283.7 573.9 285.3 573.2 287.5 573.9 287.7 574.7 286.5 577.1 288.5 579.5 288.1 581.1 286.5 582.7 287.7 585.1 286.9 586.4M317.3 586.1 316.5 586.2 316.0 585.1 317.3 582.7 317.2 576.3 316.0 574.7 316.2 573.9 317.3 573.7 318.4 576.3 321.3 577.4 324.5 574.8 325.5 574.7 326.1 575.5 324.5 578.7 324.3 580.3 326.1 584.3 325.5 585.1 324.5 585.0 322.1 582.6 320.5 582.4 318.4 583.5 317.3 586.1M246.2 581.1 246.6 579.5 246.0 578.4 245.2 578.1 244.9 581.1 245.2 581.7 246.2 581.1M272.5 581.3 269.8 581.1 270.0 578.5 272.7 578.7 272.5 581.3M297.6 581.1 297.3 578.1 296.3 578.7 295.9 580.3 296.5 581.4 297.3 581.7 297.6 581.1M265.2 580.5 262.0 580.7 261.2 580.3 261.2 579.5 264.4 579.0 265.6 579.5 265.2 580.5M281.3 580.3 278.1 580.8 276.9 580.3 276.9 579.5 279.7 578.9 281.3 579.5 281.3 580.3M276.5 606.8 274.1 605.2 272.5 606.7 270.8 607.2 268.4 605.2 266.0 606.8 263.0 605.1 262.1 603.5 262.7 601.1 262.4 599.5 260.2 596.3 256.4 595.3 255.5 593.9 255.8 592.3 257.2 589.7 259.6 588.1 263.6 586.9 266.8 584.1 267.6 585.4 269.2 584.7 270.0 587.4 270.8 586.3 271.7 586.3 272.5 587.4 273.3 584.7 274.9 585.4 275.7 584.1 278.9 586.9 284.6 589.1 286.7 592.3 286.7 594.7 285.3 595.7 282.3 596.3 279.8 600.3 280.2 604.3 278.5 605.9 276.5 606.8M219.6 591.7 218.3 591.5 218.8 590.0 219.6 589.9 220.1 590.7 219.6 591.7M323.7 591.6 322.5 591.5 322.9 589.9 324.2 590.7 323.7 591.6M229.2 606.2 226.8 605.9 222.8 601.6 222.8 599.7 224.3 597.9 222.8 595.9 222.2 593.9 222.8 593.0 226.8 592.6 231.6 590.6 233.0 590.7 234.7 592.3 234.8 593.3 230.8 594.6 229.2 597.8 225.5 597.9 225.2 598.7 226.8 599.8 230.8 600.0 232.2 601.1 232.7 602.7 232.2 604.3 229.2 606.2M274.1 603.5 276.7 601.1 276.7 599.5 273.3 591.1 272.5 590.6 270.0 590.6 269.2 591.1 267.5 594.7 265.8 599.5 265.8 601.1 268.4 603.6 269.3 598.7 270.0 597.9 271.7 597.6 273.2 598.7 273.4 601.9 274.1 603.5M315.7 605.9 313.3 606.2 310.9 604.8 309.9 603.5 309.9 601.9 310.9 600.5 312.5 599.8 315.7 599.8 317.3 598.7 317.0 597.9 313.3 597.8 311.7 594.6 307.7 593.3 307.8 592.3 309.3 590.8 310.9 590.6 314.9 592.4 319.7 593.0 320.3 593.9 319.7 595.9 318.2 597.9 319.6 599.5 319.9 601.1 315.7 605.9M263.5 593.9 263.8 592.3 262.8 592.0 261.3 593.9 262.0 594.6 263.5 593.9M281.2 593.9 280.1 592.3 278.7 592.3 278.9 593.7 279.7 594.4 280.5 594.6 281.2 593.9M275.7 648.3 270.0 648.8 266.8 648.3 263.6 646.6 258.0 646.7 253.2 645.4 250.8 646.1 246.4 643.4 245.9 637.8 241.9 633.8 242.0 633.0 244.4 631.2 245.3 629.8 244.1 626.6 244.5 624.2 242.2 619.5 243.6 617.1 247.6 618.9 251.6 618.3 252.7 617.1 249.5 612.3 246.8 610.7 246.0 607.5 244.4 604.3 244.1 601.1 244.7 599.5 246.0 598.1 247.6 597.8 254.8 603.2 258.0 603.8 259.7 606.7 262.8 609.4 263.6 609.8 266.8 609.3 270.8 612.8 272.5 612.3 275.7 609.3 278.9 609.8 279.7 609.4 282.8 606.7 284.5 603.8 287.7 603.2 294.9 597.8 296.5 598.1 297.8 599.5 298.4 601.1 298.3 603.5 295.7 610.7 293.0 612.3 289.8 617.1 290.9 618.3 294.9 618.9 298.9 617.1 300.2 618.7 300.2 620.2 298.0 624.2 298.4 626.6 297.2 629.8 298.1 631.2 300.5 633.0 300.3 634.6 296.6 637.8 296.1 643.4 292.5 646.0 289.3 645.4 284.5 646.7 278.9 646.6 275.7 648.3M253.7 609.1 254.6 607.5 254.0 604.2 253.2 603.7 252.5 605.1 252.2 608.3 252.4 609.1 253.7 609.1M290.1 609.1 290.0 605.1 289.3 603.7 288.5 604.2 287.9 607.5 288.5 608.8 290.1 609.1M229.2 618.7 228.4 617.2 228.4 613.3 231.1 612.3 232.7 609.1 234.8 607.7 236.4 607.6 238.8 609.9 242.8 609.8 245.7 611.5 245.6 613.9 243.6 616.9 239.6 614.8 238.6 615.5 237.2 618.2 234.7 614.7 232.4 613.5 229.2 618.7M313.3 618.7 310.1 613.5 307.8 614.7 305.3 618.2 303.9 615.5 302.9 614.8 298.9 616.9 296.9 613.9 296.8 611.5 299.7 609.8 303.7 609.9 306.1 607.6 307.7 607.7 309.8 609.1 311.4 612.3 314.1 613.3 314.1 617.2 313.3 618.7M262.1 617.1 261.1 617.1 262.1 617.1M281.4 617.1 280.4 617.1 281.4 617.1M235.6 635.0 234.0 634.7 232.9 633.8 233.0 633.0 234.9 631.4 235.2 629.8 231.8 625.8 231.6 623.2 232.4 622.4 234.8 622.8 236.4 622.3 237.2 621.0 237.4 618.7 238.0 618.1 239.8 619.5 240.0 620.2 239.1 625.0 238.1 626.6 238.2 630.6 236.8 632.2 235.6 635.0M308.5 634.7 306.6 634.6 305.7 632.2 304.1 629.8 304.4 626.6 303.4 625.0 302.5 620.2 302.7 619.5 304.5 618.1 305.1 618.7 305.3 621.0 306.1 622.3 307.7 622.8 310.1 622.4 310.9 623.2 310.7 625.8 307.3 629.8 307.6 631.4 309.5 633.0 309.6 633.8 308.5 634.7" stroke="#00fa00"/><path d="M296.5 560.6 295.7 560.9 294.9 560.5 294.1 558.1 292.5 558.0 291.7 557.1 290.9 553.9 290.7 549.9 289.3 549.7 287.6 550.7 286.7 552.3 286.7 553.9 285.3 554.4 279.7 548.7 277.3 549.6 275.7 549.5 271.7 546.2 270.0 546.6 266.8 549.5 265.2 549.6 262.8 548.7 257.2 554.4 255.8 553.9 255.8 552.3 254.9 550.7 252.4 549.6 251.5 550.7 251.6 553.9 250.8 557.1 250.0 558.0 248.4 558.1 247.6 560.5 246.8 560.9 246.0 560.6 245.2 558.7 245.1 555.5 247.6 550.2 250.0 548.2 251.6 545.3 254.5 543.5 253.9 541.9 252.4 540.5 247.6 540.3 244.4 541.3 243.1 540.3 243.6 538.2 246.0 535.6 245.1 533.2 246.1 530.0 245.2 528.4 243.0 526.8 242.8 526.0 243.6 524.8 247.0 522.8 246.7 519.6 247.5 516.4 250.8 515.6 251.3 517.2 252.4 517.4 253.3 515.6 256.4 514.0 260.4 513.6 263.6 514.1 266.0 512.4 270.8 511.5 275.7 512.1 278.9 514.1 282.1 513.6 286.1 514.0 289.2 515.6 290.1 517.4 291.2 517.2 291.7 515.6 295.0 516.4 295.8 519.6 295.5 522.8 298.9 524.8 299.7 526.0 299.5 526.8 297.3 528.4 296.4 530.0 297.4 533.2 296.5 535.6 298.9 538.2 299.4 540.3 298.1 541.3 294.9 540.3 290.1 540.5 288.6 541.9 288.0 543.5 290.9 545.3 292.5 548.2 294.9 550.2 297.4 555.5 297.3 558.7 296.5 560.6M234.8 535.7 233.2 536.1 232.4 535.6 232.3 534.8 233.2 533.2 234.8 532.6 235.5 534.8 234.8 535.7M310.1 535.6 309.3 536.1 307.4 535.6 307.1 534.0 307.7 532.6 309.9 534.0 310.1 535.6M238.0 536.7 237.4 536.4 238.0 536.1 238.0 536.7M304.5 536.7 304.5 536.1 305.1 536.4 304.5 536.7M261.7 544.3 263.7 542.7 264.0 541.9 263.7 541.1 261.2 541.3 259.6 542.7 259.5 543.5 260.3 544.3 261.7 544.3M282.2 544.3 283.0 543.5 282.3 541.9 280.5 541.1 278.8 541.1 278.5 541.9 279.6 543.5 281.3 544.5 282.2 544.3M236.4 551.2 234.0 551.1 232.7 549.1 233.0 547.5 235.6 545.2 236.4 544.8 237.2 545.0 238.8 546.5 242.8 544.4 244.4 544.9 245.1 546.7 243.6 549.0 242.0 549.5 238.8 548.7 236.4 551.2M308.5 551.1 306.1 551.2 303.7 548.7 301.3 549.4 299.1 549.1 297.6 547.5 297.9 545.1 299.7 544.4 303.7 546.5 306.1 544.8 309.5 547.5 309.6 549.9 308.5 551.1M230.0 546.0 229.2 544.7 230.0 544.6 230.0 546.0M312.5 546.0 312.5 544.6 313.3 544.7 312.5 546.0M271.7 561.3 270.5 561.1 269.9 559.5 269.8 555.5 270.8 553.9 271.7 553.9 272.8 556.3 272.5 560.3 271.7 561.3M230.0 559.1 227.6 558.9 226.1 557.9 226.6 555.5 227.6 554.5 230.0 554.7 231.8 556.3 231.6 557.9 230.0 559.1M264.4 559.3 263.1 556.3 264.1 554.7 266.0 554.0 267.1 555.5 264.4 559.3M278.1 559.3 275.4 555.5 276.5 554.0 278.4 554.7 279.4 556.3 278.1 559.3M314.9 558.9 313.3 559.2 311.7 558.7 310.6 557.1 311.2 555.5 313.3 554.4 315.3 554.7 316.4 557.9 314.9 558.9M266.0 574.8 264.4 572.9 259.0 570.7 257.2 568.9 256.1 566.7 256.6 565.1 258.8 564.8 262.0 568.0 263.6 568.8 264.4 568.3 264.4 565.9 261.8 563.5 262.3 561.9 264.4 559.7 269.5 570.7 269.0 573.9 268.4 574.2 266.8 573.2 266.0 574.8M276.5 574.8 275.7 573.2 274.1 574.2 273.5 573.9 273.0 570.7 278.1 559.7 280.2 561.9 280.7 563.5 278.1 565.9 278.1 568.3 278.9 568.8 280.5 568.0 283.7 564.8 285.9 565.1 286.4 566.7 285.3 568.9 283.5 570.7 278.1 572.9 276.5 574.8M231.6 568.4 227.6 566.8 223.6 566.1 223.1 565.1 223.4 564.3 225.2 563.1 228.4 562.6 230.5 565.9 232.8 567.5 231.6 568.4M311.7 568.3 310.3 568.3 309.7 567.5 312.0 565.9 314.1 562.6 317.3 563.1 319.1 564.3 319.4 565.1 318.9 566.1 314.9 566.8 311.7 568.3M245.2 575.6 243.6 576.2 243.0 575.5 240.7 570.7 240.8 569.1 243.6 568.7 245.1 569.9 245.4 572.3 246.3 573.9 246.0 575.1 245.2 575.6M298.9 576.2 297.0 575.5 296.3 574.7 297.4 569.9 298.9 568.7 301.3 568.9 302.0 569.9 301.8 570.7 298.9 576.2M271.7 572.4 270.8 572.4 270.4 571.5 270.8 570.0 271.7 570.0 272.2 570.7 271.7 572.4M258.8 575.8 257.2 576.1 256.2 574.7 258.0 574.3 258.8 574.9 258.8 575.8M286.1 575.6 284.5 576.1 283.4 575.5 283.8 574.7 285.3 574.2 286.3 574.7 286.1 575.6M223.6 582.1 221.2 581.4 218.8 581.9 218.8 577.9 221.2 578.4 223.6 577.7 224.4 578.0 224.6 581.1 223.6 582.1M238.0 582.2 236.4 582.7 235.4 581.9 235.4 577.9 236.4 577.1 238.5 577.9 239.6 579.5 239.3 581.1 238.0 582.2M242.8 582.5 242.0 581.7 241.6 579.5 242.8 577.3 243.6 579.5 242.8 582.5M299.7 582.5 298.9 580.3 299.7 577.3 300.9 579.5 300.5 581.7 299.7 582.5M306.9 582.3 306.1 582.7 304.5 582.2 302.9 580.3 303.2 578.7 305.3 577.3 306.1 577.1 307.1 577.9 306.9 582.3M323.7 581.9 321.3 581.4 318.9 582.1 318.1 581.8 318.1 578.0 318.9 577.7 321.3 578.4 323.7 577.9 323.7 581.9M264.4 580.4 262.5 580.3 262.5 579.5 264.8 579.5 264.4 580.4M271.7 580.8 270.2 580.3 270.8 579.0 272.3 579.5 271.7 580.8M279.7 580.4 277.7 580.3 277.7 579.5 280.0 579.5 279.7 580.4M244.4 590.7 241.2 590.9 240.5 589.9 243.6 583.6 245.5 584.3 246.2 585.1 245.1 589.9 244.4 590.7M258.0 585.5 256.4 585.4 256.4 584.3 257.2 583.7 258.8 584.0 258.8 584.9 258.0 585.5M286.1 585.4 284.5 585.5 283.4 584.3 285.3 583.7 286.1 584.3 286.1 585.4M301.3 590.9 298.9 591.1 297.4 589.9 297.1 587.5 296.2 585.9 297.0 584.3 298.9 583.6 299.5 584.3 301.8 589.1 302.0 589.9 301.3 590.9M264.4 600.1 262.3 597.9 261.8 596.3 264.4 593.9 264.4 591.5 263.6 591.0 262.0 591.8 258.8 595.0 256.6 594.7 256.1 593.1 257.2 590.9 259.0 589.1 264.4 586.9 266.0 585.0 266.8 586.6 268.4 585.6 269.0 585.9 269.5 589.1 264.4 600.1M278.9 599.6 278.1 600.1 277.3 598.7 273.0 589.1 273.5 585.9 274.1 585.6 275.7 586.6 276.5 585.0 278.1 586.9 283.5 589.1 286.1 592.3 286.1 594.5 284.5 595.2 283.0 594.7 281.1 592.3 279.7 591.3 278.9 591.0 278.1 591.5 278.1 593.9 280.7 596.3 280.7 597.1 278.9 599.6M271.7 589.8 270.8 589.8 270.3 589.1 270.8 587.4 271.7 587.4 272.1 588.3 271.7 589.8M228.4 597.2 224.4 596.4 223.4 595.5 223.4 593.9 227.6 593.0 230.8 591.5 232.2 591.5 232.8 592.3 230.5 593.9 228.4 597.2M315.7 597.2 314.1 597.2 313.3 596.5 312.0 593.9 309.7 592.3 310.1 591.6 311.7 591.5 314.9 593.0 319.1 593.9 318.9 595.7 315.7 597.2M271.7 605.9 270.8 605.9 269.7 603.5 270.0 599.5 270.8 598.5 272.0 598.7 272.6 600.3 272.7 604.3 271.7 605.9M271.7 648.3 266.8 647.7 263.6 645.7 260.4 646.2 256.4 645.8 253.3 644.2 252.4 642.4 251.6 642.3 250.9 644.2 250.0 644.3 247.6 643.5 247.1 642.6 247.0 637.0 243.6 635.0 242.8 633.8 243.0 633.0 245.2 631.4 246.1 629.8 245.1 626.6 246.0 624.2 243.6 621.6 243.1 619.5 244.4 618.5 247.6 619.5 252.4 619.3 253.9 617.9 254.5 616.3 251.6 614.5 250.0 611.6 247.6 609.6 245.1 604.3 245.2 601.1 246.0 599.2 246.8 598.9 247.6 599.3 248.4 601.7 250.0 601.8 250.8 602.7 251.6 605.9 251.8 609.9 253.2 610.1 254.9 609.1 255.8 607.5 255.8 605.9 257.2 605.4 262.8 611.1 265.2 610.2 266.8 610.3 270.8 613.6 272.5 613.2 275.7 610.3 277.3 610.2 279.7 611.1 285.3 605.4 286.7 605.9 286.7 607.5 287.6 609.1 290.1 610.2 291.0 609.1 290.9 605.9 291.7 602.7 292.5 601.8 294.1 601.7 294.9 599.3 295.7 598.9 296.7 599.5 297.3 601.1 297.4 604.3 294.9 609.6 292.5 611.6 290.9 614.5 288.0 616.3 288.6 617.9 290.1 619.3 294.9 619.5 298.1 618.5 299.4 619.5 298.9 621.6 296.5 624.2 297.4 626.6 296.4 629.8 297.3 631.4 299.5 633.0 299.7 633.8 298.9 635.0 295.5 637.0 295.4 642.6 294.9 643.5 292.5 644.3 291.6 644.2 290.9 642.3 290.1 642.4 289.2 644.2 286.1 645.8 282.1 646.2 278.9 645.7 276.5 647.4 271.7 648.3M230.0 605.1 228.4 605.5 226.8 604.6 226.1 601.9 226.8 601.2 229.2 600.6 231.6 601.9 231.8 603.5 230.0 605.1M266.8 605.2 265.2 605.7 263.4 604.3 263.2 602.7 264.4 600.5 266.8 603.5 266.8 605.2M278.1 605.3 276.5 605.8 275.4 604.3 278.1 600.5 279.4 603.5 278.1 605.3M314.9 605.3 313.3 605.4 311.2 604.3 310.6 602.7 311.7 601.1 314.1 600.7 316.4 601.9 315.9 604.3 314.9 605.3M243.6 615.5 238.8 613.3 236.4 615.0 233.0 612.3 232.9 609.9 234.0 608.7 235.6 608.3 238.8 611.1 241.2 610.4 243.4 610.7 244.4 611.5 245.1 613.1 244.6 614.7 243.6 615.5M298.9 615.5 297.9 614.7 297.4 613.1 298.1 611.5 299.1 610.7 301.3 610.4 303.7 611.1 306.9 608.3 308.5 608.7 309.6 609.9 309.5 612.3 306.1 615.0 303.7 613.3 298.9 615.5M230.0 615.2 229.2 615.1 229.2 614.7 230.0 613.8 230.0 615.2M313.3 615.1 312.5 615.2 312.3 613.9 313.3 614.5 313.3 615.1M263.7 618.7 264.0 617.9 263.7 617.1 262.0 615.6 260.4 615.4 259.5 616.3 260.4 618.0 262.0 618.7 263.7 618.7M280.7 618.7 282.9 617.1 283.0 616.3 282.1 615.4 280.5 615.6 278.5 617.9 278.9 618.7 280.7 618.7M238.0 623.7 237.4 623.4 238.0 623.1 238.0 623.7M304.5 623.7 304.5 623.1 305.1 623.4 304.5 623.7M234.8 627.2 232.6 625.8 232.4 624.2 233.2 623.7 235.1 624.2 235.5 625.0 234.8 627.2M308.5 627.0 307.7 627.2 307.2 626.6 307.0 625.0 307.4 624.2 309.3 623.7 310.1 624.2 310.2 625.0 308.5 627.0" stroke="#00fa00"/><path d="M285.3 551.6 282.1 550.0 280.5 547.0 276.5 548.9 275.0 548.3 273.1 545.9 271.7 545.3 270.0 545.5 267.6 548.2 266.0 548.9 262.0 547.0 260.5 549.9 258.0 551.6 256.4 551.2 252.2 548.3 251.9 547.5 252.4 546.2 255.6 545.5 256.8 544.3 257.1 543.5 256.4 542.7 252.4 539.3 246.8 539.7 244.4 540.4 244.0 539.6 246.8 535.6 246.5 533.2 247.1 530.8 246.6 528.4 244.1 526.8 243.7 526.0 244.4 525.0 246.0 524.4 247.0 525.2 247.3 526.8 248.4 527.2 250.4 525.2 250.0 522.1 248.0 519.6 248.4 517.8 250.8 519.5 252.4 519.3 253.5 518.8 254.7 515.6 255.9 514.8 260.4 514.1 264.4 515.0 266.0 513.1 270.8 512.0 275.7 512.8 278.1 515.0 282.1 514.1 286.6 514.8 287.8 515.6 289.0 518.8 290.1 519.3 291.7 519.5 294.1 517.8 294.5 519.6 292.5 522.1 292.1 525.2 294.1 527.2 295.2 526.8 295.5 525.2 296.5 524.4 298.1 525.0 298.8 526.0 298.4 526.8 295.9 528.4 295.4 530.8 296.0 533.2 295.7 535.6 298.5 539.6 298.1 540.4 294.9 539.6 289.3 539.6 285.4 543.5 286.9 545.5 290.1 546.2 290.6 547.5 290.3 548.3 285.3 551.6M262.4 545.1 265.7 541.9 264.4 540.0 261.2 540.5 258.2 542.7 257.9 543.5 260.4 545.5 261.2 545.8 262.4 545.1M282.6 545.1 284.6 543.5 283.5 541.9 279.7 539.9 278.1 540.0 277.3 540.7 276.8 541.9 277.1 542.7 280.5 545.6 281.3 545.8 282.6 545.1M242.8 548.6 241.2 548.7 240.2 547.5 242.0 545.6 243.6 545.2 244.4 546.7 242.8 548.6M301.3 548.7 299.7 548.6 298.4 547.5 298.2 545.9 298.9 545.2 299.7 545.2 301.8 546.7 302.3 547.5 301.3 548.7M236.4 550.0 234.8 550.7 233.5 549.1 234.0 547.9 235.6 546.6 236.4 546.6 237.0 547.5 236.4 550.0M308.5 550.2 306.9 550.6 306.0 549.9 305.4 548.3 306.1 546.6 306.9 546.6 308.8 548.3 308.5 550.2M250.0 555.8 249.2 556.2 246.8 555.9 246.4 554.7 248.4 550.8 250.0 549.9 251.0 553.1 250.0 555.8M295.7 555.9 293.3 556.2 291.8 554.7 291.6 552.3 292.5 549.9 294.1 550.8 294.9 552.0 296.1 554.7 295.7 555.9M230.0 558.2 228.2 557.9 227.8 556.3 228.4 555.5 230.0 555.5 230.9 556.3 231.0 557.1 230.0 558.2M265.2 556.9 264.4 557.1 264.2 556.3 265.2 555.1 266.1 555.5 265.2 556.9M278.1 557.1 277.3 556.9 276.5 555.5 277.3 555.1 278.0 555.5 278.1 557.1M314.1 558.1 312.1 557.9 311.6 556.3 312.5 555.5 314.2 555.5 314.7 557.1 314.1 558.1M271.7 559.7 270.8 559.7 270.6 558.7 270.8 555.8 271.7 555.8 271.9 556.3 271.7 559.7M264.4 564.3 263.3 563.5 263.1 562.7 263.6 561.9 264.4 561.8 264.9 562.7 265.2 563.5 264.4 564.3M278.9 563.8 278.1 564.3 277.3 563.5 278.1 561.8 278.9 561.9 279.4 562.7 278.9 563.8M228.4 566.2 224.7 565.1 224.9 564.3 226.8 563.3 228.4 563.5 229.1 565.1 229.1 565.9 228.4 566.2M315.7 566.0 313.4 565.9 314.1 563.5 315.7 563.3 317.6 564.3 317.8 565.1 315.7 566.0M268.4 573.6 265.4 569.9 265.2 565.1 264.6 564.3 265.2 564.0 265.4 565.1 266.8 566.2 268.6 569.9 268.4 573.6M274.9 573.2 274.1 573.6 273.8 573.1 273.7 570.7 274.9 567.6 276.5 565.3 277.1 565.1 277.3 564.0 277.9 564.3 277.3 565.1 277.1 569.9 274.9 573.2M263.6 571.8 260.4 571.0 258.9 569.9 257.1 567.5 257.2 565.5 258.8 565.7 260.5 567.5 263.9 569.9 264.2 571.5 263.6 571.8M280.5 571.6 278.3 571.5 278.6 569.9 282.0 567.5 283.7 565.7 285.3 565.5 285.7 566.7 284.3 569.1 282.7 570.7 280.5 571.6M237.2 582.0 236.4 582.0 235.8 581.1 235.8 578.7 236.4 577.8 238.0 578.2 239.0 579.5 238.6 581.1 237.2 582.0M306.1 582.0 304.5 581.6 303.5 580.3 303.9 578.7 305.3 577.8 306.1 577.8 306.7 578.7 306.7 581.1 306.1 582.0M223.6 580.5 222.6 580.3 222.6 579.5 223.6 579.3 223.6 580.5M319.7 580.4 318.9 580.5 318.9 579.3 319.9 579.5 319.7 580.4M265.2 595.8 264.6 595.5 265.2 594.7 265.4 589.9 268.4 586.2 268.6 589.9 266.8 593.6 265.4 594.7 265.2 595.8M277.3 595.8 277.1 594.7 275.7 593.6 273.9 589.9 274.1 586.2 277.1 589.9 277.3 594.7 277.9 595.5 277.3 595.8M258.8 594.1 257.2 594.3 256.8 593.1 258.9 589.9 261.8 588.3 264.2 588.3 263.9 589.9 260.5 592.3 258.8 594.1M285.3 594.3 283.7 594.1 282.0 592.3 278.6 589.9 278.3 588.3 280.7 588.3 283.6 589.9 285.4 592.3 285.3 594.3M228.4 596.3 226.2 596.3 224.9 595.5 224.7 594.7 227.6 593.7 229.1 593.9 228.4 596.3M315.7 596.5 314.1 596.3 313.4 593.9 314.9 593.7 317.8 594.7 317.6 595.5 315.7 596.5M264.4 598.0 263.6 597.9 263.1 597.1 263.3 596.3 264.4 595.5 265.2 596.3 264.4 598.0M278.9 597.9 278.1 598.0 277.6 597.1 277.3 596.3 278.1 595.5 279.2 596.3 279.4 597.1 278.9 597.9M271.7 604.0 270.8 604.0 270.6 603.5 270.8 600.1 271.7 600.1 271.9 601.1 271.7 604.0M229.2 604.5 228.3 604.3 227.8 602.7 228.2 601.9 229.2 601.5 230.4 601.9 231.0 602.7 230.8 603.6 229.2 604.5M314.1 604.3 312.5 604.3 311.7 603.6 311.5 602.7 312.1 601.9 314.3 601.9 314.7 603.5 314.1 604.3M266.0 604.3 265.2 604.7 264.5 604.3 264.4 602.7 265.2 602.9 266.0 604.3M277.3 604.7 276.4 604.3 276.7 603.5 278.1 602.7 278.1 604.2 277.3 604.7M250.0 609.9 248.4 609.0 247.6 607.8 246.4 605.1 246.8 603.9 249.2 603.6 250.7 605.1 250.9 607.5 250.0 609.9M292.5 609.9 291.6 607.5 291.8 605.1 293.3 603.6 295.7 603.9 296.1 605.1 294.9 607.8 294.1 609.0 292.5 609.9M273.3 647.6 270.8 647.8 266.8 647.0 264.4 644.8 261.2 645.7 256.4 645.2 254.7 644.2 253.5 641.0 251.6 640.3 248.4 642.0 248.0 640.2 249.9 637.8 250.4 636.2 250.1 633.8 249.2 633.0 247.6 632.6 246.8 635.0 246.0 635.4 244.4 634.8 243.7 633.8 244.1 633.0 246.6 631.4 247.1 629.0 246.5 626.6 246.8 624.2 246.0 622.7 244.2 621.0 244.3 619.5 247.6 620.2 253.2 620.2 257.1 616.3 255.6 614.3 252.4 613.6 251.9 612.3 252.2 611.5 257.2 608.2 260.4 609.8 262.0 612.8 266.0 610.9 267.5 611.5 269.4 613.9 270.8 614.5 272.5 614.3 274.9 611.6 276.5 610.9 280.5 612.8 282.1 609.8 285.3 608.2 290.3 611.5 290.6 612.3 290.1 613.6 286.9 614.3 285.4 616.3 289.3 620.2 294.9 620.2 298.1 619.4 298.5 620.2 295.7 624.2 296.0 626.6 295.4 629.0 295.9 631.4 298.4 633.0 298.8 633.8 298.1 634.8 296.5 635.4 295.5 634.6 295.2 633.0 294.1 632.6 292.1 634.6 292.5 637.7 294.5 640.2 294.1 642.0 291.7 640.3 290.1 640.5 289.0 641.0 287.8 644.2 286.6 645.0 282.1 645.7 278.1 644.8 276.5 646.7 273.3 647.6M236.4 613.2 235.6 613.2 233.7 611.5 233.8 609.9 234.8 609.1 235.6 609.2 236.9 610.7 237.0 612.3 236.4 613.2M306.9 613.2 305.9 613.1 305.4 611.5 306.1 609.8 307.7 609.1 309.0 610.7 308.5 611.9 306.9 613.2M243.6 614.6 242.8 614.6 240.7 613.1 240.2 612.3 240.6 611.5 242.0 611.0 243.6 611.7 244.4 613.1 243.6 614.6M300.5 614.2 298.9 614.6 298.1 613.1 298.9 611.7 300.5 611.0 301.9 611.5 302.3 612.3 300.5 614.2M265.0 619.5 265.7 617.9 265.4 617.1 262.0 614.2 260.4 614.3 257.9 616.3 259.0 617.9 261.2 619.3 263.6 620.0 265.0 619.5M280.9 619.5 283.5 617.9 284.6 616.3 281.3 614.0 277.1 617.1 276.8 617.9 278.1 619.8 280.9 619.5" stroke="#00f928"/><path d="M273.3 543.6 271.7 544.2 269.2 543.6 263.4 538.0 262.8 536.2 261.8 537.2 261.8 538.8 258.0 540.9 256.4 540.5 253.2 538.5 249.2 539.0 246.8 538.7 246.6 538.0 247.6 535.3 249.9 533.2 248.4 529.2 251.0 526.0 251.4 522.0 254.7 518.8 255.7 515.6 261.2 514.6 264.4 516.1 267.8 513.2 270.0 512.5 272.5 512.5 275.7 513.6 277.1 515.6 278.1 516.1 281.3 514.6 286.1 515.2 287.4 516.4 288.4 519.6 290.7 521.2 291.5 526.0 294.1 529.2 292.6 533.2 294.9 535.3 295.9 538.0 295.7 538.7 293.3 539.0 289.3 538.5 286.1 540.5 284.5 540.9 280.7 538.8 280.7 537.2 279.7 536.2 279.1 538.0 273.3 543.6M266.8 547.9 266.0 548.1 264.6 547.5 263.6 545.9 264.0 545.1 266.0 544.8 267.6 545.8 267.8 546.7 266.8 547.9M277.3 548.0 275.7 547.9 274.7 546.7 274.9 545.8 277.3 544.6 278.5 545.1 278.9 545.9 277.3 548.0M258.8 550.3 256.4 550.2 254.0 548.3 253.8 547.5 257.2 545.6 258.8 545.6 260.2 547.5 260.0 549.1 258.8 550.3M286.1 550.2 284.5 550.6 282.5 549.1 282.4 546.7 283.7 545.6 285.3 545.6 288.7 547.5 288.5 548.3 286.1 550.2M242.8 547.2 242.5 546.7 242.8 546.5 242.8 547.2M299.7 547.2 299.7 546.5 300.0 546.7 299.7 547.2M249.2 555.0 247.9 554.7 247.7 553.9 249.2 551.7 250.0 552.2 250.3 553.1 250.0 554.3 249.2 555.0M294.1 555.0 293.3 555.0 292.3 553.9 292.5 552.2 293.3 551.7 294.8 553.9 294.1 555.0M227.6 564.5 227.6 564.5M314.9 564.5 314.9 564.5M267.6 572.4 266.0 569.1 266.0 567.3 266.8 567.4 267.7 569.1 268.3 571.5 267.6 572.4M274.9 572.4 274.2 571.5 274.8 569.1 275.7 567.4 276.5 567.3 276.5 569.1 274.9 572.4M262.8 570.9 260.4 570.4 259.1 568.3 259.6 568.1 261.8 569.1 262.8 569.9 262.8 570.9M281.3 570.8 279.4 570.7 281.3 568.8 283.4 568.3 282.8 569.9 281.3 570.8M237.2 581.4 236.4 581.1 236.2 579.5 236.4 578.6 237.2 578.4 238.4 579.5 238.0 581.0 237.2 581.4M306.1 581.2 305.3 581.4 304.1 580.3 304.5 578.8 305.3 578.4 306.1 578.7 306.1 581.2M266.8 592.4 266.0 592.5 266.0 590.7 267.6 587.5 268.1 587.5 268.2 589.1 266.8 592.4M276.5 592.5 275.7 592.4 274.9 590.9 274.4 587.5 274.9 587.5 276.2 589.9 276.5 592.5M259.6 591.7 259.1 591.5 259.7 589.9 261.2 589.0 263.1 589.1 261.8 590.7 259.6 591.7M282.9 591.7 280.7 590.7 279.4 589.1 281.3 589.0 282.8 589.9 283.4 591.5 282.9 591.7M227.6 595.5 227.6 595.5M314.9 595.5 314.9 595.5M250.0 607.6 249.2 608.1 248.4 607.4 247.7 605.9 247.9 605.1 249.2 604.8 250.0 605.5 250.0 607.6M293.3 608.1 292.5 607.6 292.3 605.9 293.3 604.8 294.1 604.8 294.8 605.9 293.3 608.1M258.8 614.2 257.2 614.2 254.0 612.5 254.0 611.5 257.2 609.2 258.8 609.5 260.0 610.7 260.2 612.3 258.8 614.2M285.3 614.2 283.2 613.9 282.3 612.3 282.9 610.2 284.5 609.2 287.6 610.7 288.7 612.3 285.3 614.2M266.0 615.0 264.4 615.0 263.6 613.9 264.6 612.3 266.0 611.7 267.8 613.1 267.6 614.0 266.0 615.0M278.1 615.0 276.5 615.0 274.9 614.0 275.2 612.3 276.5 611.7 277.9 612.3 278.9 613.9 278.1 615.0M242.8 613.3 242.5 613.1 242.8 612.6 242.8 613.3M299.7 613.3 299.7 612.6 300.0 613.1 299.7 613.3M271.7 647.4 266.8 646.2 265.4 644.2 264.4 643.7 261.2 645.2 255.6 644.2 254.7 641.0 251.4 637.8 251.0 633.8 248.4 630.6 249.9 626.6 247.6 624.5 246.6 621.8 246.9 621.0 249.2 620.8 253.2 621.3 256.4 619.3 258.0 618.9 261.8 621.0 261.8 622.6 262.8 623.6 263.4 621.8 269.2 616.3 271.7 615.6 273.3 616.3 279.1 621.8 279.7 623.6 280.7 622.6 280.7 621.0 284.5 618.9 286.1 619.3 289.3 621.3 293.3 620.8 295.7 621.1 295.9 621.8 294.9 624.5 292.6 626.6 294.1 630.6 291.5 633.8 291.1 637.8 287.8 641.0 286.9 644.2 281.3 645.2 278.1 643.7 277.1 644.2 275.7 646.2 271.7 647.4" stroke="#00f75d"/><path d="M275.7 539.6 274.1 539.9 271.7 538.9 268.4 539.9 266.8 539.6 265.0 538.0 263.6 534.8 262.8 534.8 258.8 537.4 257.2 537.2 255.7 536.4 254.5 534.0 251.6 532.7 250.8 531.8 249.7 529.2 251.9 526.0 252.5 522.0 255.2 519.6 256.4 515.9 261.2 515.1 264.4 516.9 265.7 516.4 267.9 514.0 271.7 512.8 274.6 514.0 276.8 516.4 278.1 516.9 282.1 515.1 285.3 515.6 286.5 516.4 287.3 519.6 290.0 522.0 290.6 526.0 292.5 528.4 292.7 530.0 290.9 532.7 288.0 534.0 286.1 536.8 283.7 537.4 279.7 534.8 278.9 534.8 277.5 538.0 275.7 539.6M250.0 538.1 248.1 538.0 248.0 536.4 249.2 534.9 251.6 534.9 253.1 536.4 252.6 537.2 250.0 538.1M294.1 538.1 292.0 538.0 289.9 537.2 289.4 536.4 290.9 534.9 293.3 534.9 294.5 536.4 294.7 537.2 294.1 538.1M271.7 542.8 270.8 542.7 270.5 541.9 272.0 541.9 271.7 542.8M258.0 549.6 256.4 549.2 255.6 548.3 255.9 547.5 258.0 546.6 258.8 547.0 259.1 548.3 258.0 549.6M286.1 549.2 284.5 549.6 283.7 549.1 283.4 548.3 283.7 547.0 284.5 546.6 286.6 547.5 286.9 548.3 286.1 549.2M237.2 580.5 237.2 579.3 237.2 580.5M305.3 580.5 305.3 579.3 305.3 580.5M258.0 613.2 255.9 612.3 255.6 611.5 256.3 610.7 258.0 610.2 258.8 610.8 259.1 612.3 258.0 613.2M285.3 613.1 284.0 613.1 283.4 612.3 283.7 610.8 284.5 610.2 286.1 610.6 286.9 611.5 285.3 613.1M271.7 618.1 270.5 617.9 270.8 617.1 271.7 617.1 271.7 618.1M272.5 646.9 269.3 646.6 267.9 645.8 265.7 643.4 264.4 642.9 260.4 644.7 257.2 644.2 256.0 643.4 255.2 640.2 252.5 637.8 251.9 633.8 249.7 630.6 250.8 628.0 251.6 627.1 254.5 625.8 255.7 623.4 258.8 622.4 262.8 625.0 263.6 625.0 265.0 621.8 266.8 620.2 268.4 619.9 271.7 620.9 274.9 619.9 277.5 621.8 278.9 625.0 280.5 624.6 282.9 622.8 284.5 622.4 286.8 623.4 288.0 625.8 290.9 627.1 291.7 628.0 292.8 630.6 290.6 633.8 290.0 637.8 287.3 640.2 286.5 643.4 285.3 644.2 282.1 644.7 278.1 642.9 276.8 643.4 274.6 645.8 272.5 646.9M250.8 625.1 248.4 624.3 247.8 622.6 248.1 621.8 250.0 621.7 252.6 622.6 253.1 623.4 250.8 625.1M292.5 625.1 290.0 624.2 289.4 623.4 289.9 622.6 292.5 621.7 294.4 621.8 294.7 622.6 294.1 624.2 292.5 625.1" stroke="#00f593"/><path d="M274.9 538.9 271.7 538.1 266.8 538.7 265.5 537.2 264.9 534.8 263.6 533.7 262.0 534.1 259.6 535.9 258.0 536.1 257.1 535.6 256.2 533.2 251.6 531.5 250.7 529.2 252.8 526.0 253.1 522.8 255.6 520.1 257.2 516.4 260.9 515.6 263.6 517.4 265.2 517.3 266.9 516.4 269.1 514.0 271.7 513.2 273.4 514.0 275.6 516.4 277.3 517.3 278.9 517.4 282.1 515.5 285.2 516.4 285.9 517.2 286.9 520.1 289.4 522.8 289.7 526.0 291.8 529.2 291.4 530.8 290.1 532.0 286.3 533.2 285.4 535.6 284.5 536.1 282.9 535.9 279.7 533.7 278.3 534.0 276.5 538.0 274.9 538.9M250.0 536.7 249.2 536.4 250.4 536.4 250.0 536.7M292.5 536.7 292.1 536.4 293.3 536.4 292.5 536.7M273.3 645.9 271.7 646.6 270.0 646.4 266.9 643.4 264.4 642.3 260.9 644.2 257.2 643.4 255.6 639.7 253.1 637.0 252.8 633.8 250.7 630.6 251.6 628.3 256.2 626.6 257.1 624.2 258.0 623.7 259.6 623.9 262.0 625.7 263.6 626.1 264.9 625.0 266.0 621.8 267.6 620.9 270.8 621.7 275.7 621.1 277.0 622.6 277.6 625.0 278.9 626.1 280.5 625.7 282.9 623.9 284.5 623.7 285.4 624.2 286.3 626.6 290.9 628.3 291.8 630.6 289.7 633.8 289.4 637.0 286.9 639.7 285.3 643.4 281.6 644.2 278.1 642.3 275.6 643.4 273.3 645.9M250.0 623.6 249.2 623.4 250.0 623.1 250.0 623.6M292.5 623.6 292.5 623.1 293.3 623.4 292.5 623.6" stroke="#00f3c8"/><path d="M275.7 537.5 270.0 537.3 267.6 537.8 266.5 537.2 265.4 534.0 264.4 533.1 262.0 532.6 259.8 534.8 258.8 535.0 258.2 534.0 258.2 532.4 254.0 531.8 252.1 530.8 251.8 529.2 253.7 526.0 254.0 522.8 256.2 520.4 258.0 517.2 260.4 516.1 263.4 518.0 265.2 517.9 267.6 516.7 270.0 514.0 270.8 513.7 272.5 514.0 274.4 516.4 277.3 517.9 279.1 518.0 282.1 516.1 284.5 517.2 286.3 520.4 288.5 522.8 288.8 526.0 290.8 530.0 289.2 531.6 284.3 532.4 284.3 534.0 283.7 535.0 282.7 534.8 280.5 532.6 278.1 533.1 277.1 534.0 275.7 537.5M272.9 534.8 272.7 533.2 271.7 532.7 270.0 533.0 269.3 534.0 269.6 534.8 270.8 535.4 272.9 534.8M272.5 645.8 270.0 645.8 267.6 643.1 264.4 641.8 262.8 642.1 260.4 643.7 258.0 642.6 256.2 639.4 254.0 637.0 253.7 633.8 251.8 630.6 252.1 629.0 254.0 628.0 258.2 627.4 258.2 625.8 258.8 624.8 259.8 625.0 262.0 627.2 264.4 626.7 265.4 625.8 266.5 622.6 267.6 622.0 270.8 622.5 274.9 622.0 276.0 622.6 277.1 625.8 278.1 626.7 280.5 627.2 282.7 625.0 283.7 624.8 284.3 625.8 284.3 627.4 288.5 628.0 290.4 629.0 290.7 630.6 288.8 633.8 288.5 637.0 286.3 639.4 284.5 642.6 282.1 643.7 279.1 641.8 277.3 641.9 274.4 643.4 272.5 645.8M272.7 626.6 273.2 625.8 272.5 624.6 270.8 624.4 269.6 625.0 269.3 625.8 270.0 626.8 272.7 626.6" stroke="#00e7f1"/><path d="M272.5 517.4 269.6 517.2 270.1 514.8 270.8 514.3 272.4 514.8 273.0 516.4 272.5 517.4M275.7 534.3 274.9 534.7 273.3 532.8 270.8 532.2 268.7 533.2 267.6 534.7 262.8 531.7 254.0 530.8 253.2 530.0 254.9 523.6 258.8 517.9 260.4 517.0 263.6 518.7 267.6 517.8 268.4 518.0 269.4 519.6 270.8 520.1 273.1 519.6 274.1 518.0 274.9 517.8 278.9 518.7 282.1 517.0 283.7 517.9 287.3 522.8 289.3 530.0 287.7 531.0 279.7 531.7 277.3 532.8 275.7 534.3M282.1 642.8 278.9 641.1 274.1 641.8 273.1 640.2 271.7 639.7 269.4 640.2 268.4 641.8 263.6 641.1 261.0 642.6 259.6 642.6 255.2 637.0 253.2 629.8 254.8 628.8 262.8 628.1 267.6 625.1 270.0 627.5 272.6 627.4 274.9 625.1 279.7 628.1 288.5 629.0 289.3 629.8 289.2 630.6 287.3 637.0 283.7 641.9 282.1 642.8M271.7 645.5 270.0 644.9 269.6 642.6 270.8 642.2 272.9 642.6 272.8 644.2 271.7 645.5" stroke="#00bbf3"/><path d="M276.5 532.6 274.9 533.0 272.5 531.9 270.8 531.8 266.8 533.0 262.8 530.9 259.6 530.8 255.6 529.7 255.1 528.4 256.6 522.0 258.8 519.3 260.4 518.5 262.8 519.3 266.8 518.6 270.8 520.8 273.2 520.4 275.7 518.6 279.7 519.3 282.1 518.5 282.9 518.8 284.5 520.0 286.2 522.8 287.4 529.2 283.7 530.6 279.7 530.9 276.5 532.6M282.9 641.0 282.1 641.3 279.7 640.5 275.7 641.2 271.7 639.0 269.3 639.4 266.8 641.2 262.8 640.5 260.4 641.3 259.6 641.0 258.0 639.8 256.3 637.0 255.1 630.6 258.8 629.2 262.8 628.9 266.8 626.8 270.8 628.0 275.7 626.8 279.7 628.9 282.9 629.0 286.9 630.1 287.4 631.4 286.2 637.0 284.5 639.8 282.9 641.0" stroke="#008ff6"/><path d="M276.5 531.8 274.9 532.2 270.8 531.4 266.8 532.2 263.6 530.3 259.6 530.2 258.0 529.6 256.8 528.4 257.2 526.6 258.7 525.2 257.3 523.6 257.4 522.0 259.6 519.8 262.8 520.0 266.0 519.2 270.8 521.4 272.5 521.2 275.7 519.3 283.7 520.2 285.3 522.8 283.8 525.2 285.3 526.6 285.7 528.4 283.7 530.0 278.9 530.3 276.5 531.8M277.3 640.4 275.7 640.5 271.7 638.4 270.0 638.6 266.8 640.5 262.8 639.8 259.6 640.0 257.4 637.8 257.3 636.2 258.7 634.6 257.2 633.2 256.8 631.4 258.8 629.8 263.6 629.5 267.6 627.6 270.8 628.4 275.7 627.6 278.9 629.5 282.9 629.6 285.2 630.6 285.7 632.2 283.8 634.6 285.3 636.6 284.5 638.8 282.9 640.0 279.7 639.8 277.3 640.4" stroke="#0063f9"/><path d="M276.5 531.1 274.9 531.5 271.7 531.0 266.8 531.5 263.6 529.1 260.4 529.6 258.8 529.2 258.1 527.6 261.2 525.2 260.4 524.0 258.5 522.8 258.4 522.0 259.6 520.7 262.8 520.7 266.0 519.8 270.8 521.8 272.5 521.6 276.5 519.8 283.6 521.2 284.0 522.8 282.1 524.0 281.3 525.2 283.9 526.8 284.4 528.4 282.9 529.5 278.9 529.1 276.5 531.1M278.1 639.6 275.7 639.9 271.7 638.0 270.0 638.2 266.0 640.0 262.8 639.1 259.6 639.1 258.4 637.8 258.5 637.0 260.4 635.8 261.2 634.6 258.6 633.0 258.1 631.4 259.6 630.3 263.6 630.7 266.0 628.7 267.6 628.3 270.8 628.8 275.7 628.3 278.9 630.7 282.1 630.2 283.7 630.6 284.4 632.2 281.3 634.6 282.1 635.8 284.0 637.0 283.7 638.6 278.1 639.6" stroke="#0037fc"/><path d="M275.7 530.8 266.8 530.8 262.6 526.8 261.9 524.4 260.3 522.0 266.0 520.3 270.8 522.4 276.5 520.3 282.2 522.0 280.6 524.4 279.9 526.8 275.7 530.8M261.2 528.6 259.6 528.6 259.4 527.6 261.2 527.2 261.9 527.6 261.2 528.6M282.9 528.6 281.3 528.6 280.6 527.6 282.9 527.4 282.9 528.6M276.5 639.5 271.7 637.4 266.0 639.5 260.3 637.8 261.9 635.4 262.6 633.0 266.8 629.0 274.9 628.9 276.5 629.6 279.9 633.0 280.6 635.4 282.2 637.8 276.5 639.5M261.2 632.6 259.6 632.4 259.3 631.4 260.4 631.0 261.6 631.4 261.9 632.2 261.2 632.6M282.9 632.4 280.6 632.2 280.9 631.4 282.1 631.0 283.2 631.4 282.9 632.4" stroke="#000bfe"/><path d="M275.7 530.0 266.8 530.0 263.3 526.0 262.3 522.8 266.0 520.8 270.8 523.0 276.5 520.8 279.3 522.0 280.2 522.8 279.2 526.0 275.7 530.0M277.3 638.9 275.7 638.9 270.8 636.8 266.0 639.0 263.2 637.8 262.3 637.0 262.4 636.2 263.3 633.8 266.8 629.8 274.9 629.5 278.9 633.4 280.1 636.2 279.7 637.5 277.3 638.9" stroke="#2000ff"/><path d="M274.9 529.6 267.6 529.6 264.0 526.0 263.3 524.4 263.4 522.8 265.2 521.4 266.8 521.4 269.6 522.8 270.8 524.2 271.7 524.2 272.9 522.8 275.7 521.4 278.1 521.9 279.3 523.6 278.9 525.2 274.9 529.6M278.1 637.9 275.7 638.4 272.9 637.0 271.7 635.6 270.8 635.6 268.4 637.7 266.0 638.5 264.3 637.8 263.2 636.2 264.0 633.8 267.6 630.2 274.1 630.1 275.7 630.8 278.9 634.6 279.3 636.2 278.1 637.9" stroke="#4b00ff"/></g></g><clipPath id="lbd"><rect x="151.0" y="460.4" width="83" height="39"/></clipPath><rect x="151.0" y="460.4" width="83" height="39" fill="#fff"/><g clip-path="url(#lbd)"><path d="M176.7 459.4V700.4M223.9 459.4V700.4M271.2 459.4V700.4M318.6 459.4V700.4M365.9 459.4V700.4" stroke="#9898f5" stroke-width="1.4" stroke-dasharray="1.8 2.8" fill="none"/><path d="M150.0 674.3H392.5M150.0 627.1H392.5M150.0 579.9H392.5M150.0 532.7H392.5M150.0 485.5H392.5" stroke="#babaf8" stroke-width="1.2" stroke-dasharray="1.8 2.8" fill="none"/></g><rect x="150.0" y="459.4" width="242.5" height="241.0" fill="none" stroke="#000" stroke-width="2"/><path d="M176.7 700.4v14M150.0 674.3h-14M223.9 700.4v14M150.0 627.1h-14M271.2 700.4v14M150.0 579.9h-14M318.6 700.4v14M150.0 532.7h-14M365.9 700.4v14M150.0 485.5h-14" stroke="#000" stroke-width="2" fill="none"/><text x="174.6" y="738.1" text-anchor="middle" font-size="18">−4</text><text x="128.0" y="680.8" text-anchor="end" font-size="18">−4</text><text x="221.8" y="738.1" text-anchor="middle" font-size="18">−2</text><text x="128.0" y="633.6" text-anchor="end" font-size="18">−2</text><text x="271.1" y="738.1" text-anchor="middle" font-size="18">0</text><text x="128.0" y="586.4" text-anchor="end" font-size="18">0</text><text x="318.4" y="738.1" text-anchor="middle" font-size="18">2</text><text x="128.0" y="539.2" text-anchor="end" font-size="18">2</text><text x="365.7" y="738.1" text-anchor="middle" font-size="18">4</text><text x="128.0" y="492.0" text-anchor="end" font-size="18">4</text><g transform="translate(271.25 768.20)"><text x="-96.91" y="0.00" font-size="18.9">momentum</text><text x="3.50" y="0.00" font-size="18.5">(10</text><text x="30.77" y="-12.70" font-size="12">5</text><text x="43.57" y="0.00" font-size="18.5" font-style="italic">u</text><text x="59.22" y="0.00" font-size="18.5">m/s)</text></g><g transform="translate(87.00 578.40) rotate(-90)"><text x="-96.91" y="0.00" font-size="18.9">momentum</text><text x="3.50" y="0.00" font-size="18.5">(10</text><text x="30.77" y="-12.70" font-size="12">5</text><text x="43.57" y="0.00" font-size="18.5" font-style="italic">u</text><text x="59.22" y="0.00" font-size="18.5">m/s)</text></g><text x="157.35" y="493.90" font-size="25">(d) C</text><text x="212.32" y="476.55" font-size="16.5">2+</text><rect x="400.8" y="465.5" width="6.3" height="70.7" fill="url(#cbg)" stroke="#000" stroke-width="1.5"/><path d="M407.8 532.5h4.5" stroke="#000" stroke-width="2"/><text x="420.0" y="539.0" font-size="18">0</text><path d="M407.8 493.7h4.5" stroke="#000" stroke-width="2"/><text x="420.0" y="500.2" font-size="18">5</text><text transform="translate(407.0 548.9) rotate(90)" font-size="18">×10<tspan font-size="13" dy="-13">−5</tspan></text><path d="M550.1 459.4V700.4M597.5 459.4V700.4M644.8 459.4V700.4M692.0 459.4V700.4M739.4 459.4V700.4" stroke="#9898f5" stroke-width="1.4" stroke-dasharray="1.8 2.8" fill="none"/><path d="M523.5 674.3H766.0M523.5 627.1H766.0M523.5 579.9H766.0M523.5 532.7H766.0M523.5 485.5H766.0" stroke="#babaf8" stroke-width="1.2" stroke-dasharray="1.8 2.8" fill="none"/><clipPath id="clipe"><rect x="523.5" y="459.4" width="242.5" height="241.0"/></clipPath><g clip-path="url(#clipe)"><g fill="none" stroke-width="1.9" stroke-linejoin="round" stroke-linecap="round"><path d="M622.7 498.4 621.9 498.0 621.4 496.4 621.7 494.8 622.7 494.0 623.6 494.8 623.9 496.4 623.5 497.7 622.7 498.4M666.8 498.4 666.0 497.7 665.6 496.4 665.9 494.8 666.8 494.0 667.8 494.8 668.1 496.4 667.6 498.0 666.8 498.4M660.4 657.9 635.5 658.2 629.1 657.9 622.7 656.8 618.7 655.1 609.9 648.9 597.9 641.9 589.3 634.6 586.1 630.6 578.9 616.3 574.3 609.1 571.3 600.3 569.9 593.1 570.9 584.3 570.9 573.9 569.9 565.9 571.7 557.9 574.7 550.0 578.9 543.5 585.6 530.0 589.3 525.2 597.8 518.0 609.9 510.9 618.7 504.7 622.7 503.0 629.1 501.9 635.5 501.6 641.1 501.9 654.0 501.6 666.0 502.9 670.8 504.7 679.6 510.9 692.4 518.4 701.0 526.0 703.9 530.0 710.6 543.5 715.2 550.7 718.2 559.5 719.6 566.7 718.6 574.7 718.6 585.9 719.6 593.1 719.3 595.5 715.6 608.3 710.6 616.3 703.9 629.8 700.2 634.6 691.6 641.9 679.6 648.9 670.0 655.6 666.8 656.8 660.4 657.9M564.3 560.3 561.8 560.3 560.7 559.5 560.7 558.7 561.9 557.8 564.3 557.9 565.4 558.7 565.4 559.5 564.3 560.3M727.6 560.4 725.2 560.3 724.1 559.5 724.1 558.7 726.0 557.7 727.8 557.9 728.8 558.7 728.8 559.5 727.6 560.4M636.1 574.7 633.9 572.7 631.9 573.1 633.1 575.0 636.1 574.7M656.7 574.7 657.6 573.1 656.4 572.6 654.8 573.1 653.4 574.7 655.6 575.2 656.7 574.7M641.3 577.1 642.4 576.3 641.9 575.2 640.3 577.0 640.3 577.8 641.3 577.1M649.2 577.1 648.0 575.5 647.2 575.5 647.1 576.3 649.2 577.8 649.2 577.1M645.5 581.9 645.8 578.7 645.2 577.3 644.3 577.3 643.7 578.7 643.7 581.1 644.3 582.5 645.2 582.5 645.5 581.9M636.7 580.3 636.3 579.3 634.9 579.5 634.9 580.3 636.7 580.3M654.6 580.3 654.6 579.5 652.8 579.5 653.2 580.5 654.6 580.3M642.3 584.3 642.4 583.5 640.3 582.0 640.3 582.7 641.5 584.3 642.3 584.3M648.0 584.3 649.2 582.7 649.2 582.0 647.1 583.5 647.2 584.3 648.0 584.3M634.7 586.7 636.1 585.1 633.1 584.8 631.9 586.7 633.1 587.2 634.7 586.7M657.6 586.7 656.4 584.8 653.4 585.1 655.6 587.1 657.6 586.7M564.3 601.9 561.7 601.9 560.7 601.1 560.7 600.3 562.7 599.3 564.3 599.5 565.4 600.3 565.4 601.1 564.3 601.9M727.6 602.0 725.2 601.9 724.1 601.1 724.1 600.3 726.0 599.3 727.7 599.5 728.8 600.3 728.8 601.1 727.6 602.0M622.7 665.8 621.7 665.0 621.4 663.4 621.9 661.8 622.7 661.4 623.5 662.1 623.9 663.4 623.6 665.0 622.7 665.8M666.8 665.8 665.9 665.0 665.6 663.4 666.0 662.1 666.8 661.4 667.6 661.8 668.1 663.4 667.8 665.0 666.8 665.8" stroke="#ff3500"/><path d="M658.8 654.7 632.3 654.9 622.7 653.1 598.7 638.6 592.8 633.8 588.5 628.2 581.9 614.5 577.1 607.4 574.1 598.7 573.1 593.1 573.9 583.5 573.2 565.9 574.8 558.7 577.6 551.5 581.9 545.3 588.5 531.6 593.1 525.6 598.7 521.2 621.1 507.4 624.3 506.3 632.3 504.9 644.3 505.3 657.2 504.9 666.0 506.5 669.2 507.8 691.6 521.7 697.5 526.8 701.0 531.6 707.6 545.3 712.4 552.3 715.4 561.1 716.4 566.7 715.6 576.3 716.1 595.5 712.7 606.7 707.6 614.5 701.0 628.2 696.7 633.8 690.8 638.6 668.4 652.4 658.8 654.7M636.8 575.5 637.3 574.7 636.4 573.1 636.8 571.5 636.3 571.2 634.7 572.0 633.5 571.5 632.3 569.8 631.1 569.9 630.1 572.3 630.6 573.9 633.1 575.7 636.8 575.5M641.3 570.7 641.1 569.4 640.8 569.9 641.3 570.7M648.5 570.7 648.4 569.4 648.4 571.0 648.5 570.7M657.0 575.5 659.4 573.1 658.8 570.4 658.0 569.6 657.0 569.9 655.6 571.8 654.8 572.0 653.2 571.2 652.7 571.5 653.1 573.1 652.2 574.7 652.7 575.5 654.0 575.9 657.0 575.5M648.6 585.1 650.0 582.7 650.0 581.8 648.4 580.7 647.6 582.0 646.8 582.3 646.4 581.9 646.8 577.5 647.6 577.8 648.4 579.1 649.2 579.0 650.0 577.9 648.4 574.2 647.6 574.0 645.2 575.6 643.5 575.4 641.9 574.0 641.1 574.2 639.5 577.1 639.5 578.0 641.1 579.1 641.9 577.8 642.7 577.5 643.1 577.9 642.7 582.3 641.9 582.0 641.1 580.7 640.3 580.8 639.5 581.9 641.1 585.6 641.9 585.8 644.3 584.2 646.0 584.4 647.6 585.8 648.6 585.1M630.9 581.9 632.5 580.3 632.5 579.5 630.7 577.8 629.7 578.7 629.7 581.1 630.9 581.9M659.0 581.9 659.8 581.1 659.8 578.7 658.8 577.8 657.5 578.7 657.0 580.3 658.0 581.6 659.0 581.9M636.8 581.1 637.6 580.3 637.1 578.8 634.7 578.3 634.2 578.7 633.7 579.5 634.2 581.1 634.7 581.5 636.8 581.1M655.3 581.1 655.8 579.5 654.8 578.3 652.7 578.7 651.9 579.5 652.4 581.0 654.8 581.5 655.3 581.1M632.5 589.9 633.9 588.0 634.7 587.8 636.3 588.6 636.8 588.3 636.4 586.7 637.3 585.1 636.8 584.3 633.1 584.1 630.6 585.9 630.1 587.5 630.7 589.4 631.5 590.2 632.5 589.9M658.4 589.9 659.4 587.5 658.9 585.9 656.4 584.1 652.7 584.3 652.2 585.1 653.1 586.7 652.7 588.3 653.2 588.6 654.8 587.8 656.0 588.3 657.2 590.0 658.4 589.9M641.4 589.9 641.1 588.8 641.1 590.4 641.4 589.9M648.7 589.9 648.4 588.8 648.4 590.4 648.7 589.9" stroke="#ff7100"/><path d="M662.0 652.2 655.6 652.9 629.9 652.7 622.7 650.9 615.5 646.9 597.1 635.0 592.6 630.6 588.9 625.0 583.5 613.9 578.4 605.1 576.0 598.7 575.1 591.5 575.5 580.3 575.1 567.5 575.9 561.9 578.4 554.7 583.5 545.9 588.9 534.8 592.6 529.2 597.1 524.8 617.1 512.0 625.1 508.1 633.1 506.9 658.8 507.0 666.8 508.9 672.4 512.0 690.0 523.1 694.0 526.1 696.9 529.2 700.6 534.8 706.0 545.9 711.1 554.7 713.5 561.1 714.4 568.3 714.0 579.5 714.4 592.3 713.6 597.9 711.1 605.1 706.0 613.9 700.6 625.0 696.9 630.6 692.4 635.0 670.0 649.2 666.8 650.9 662.0 652.2M650.3 604.3 653.7 600.3 657.2 600.3 658.7 599.5 660.4 595.7 664.1 593.1 664.3 588.3 667.2 585.1 667.2 583.5 666.0 580.3 667.2 574.7 664.3 571.5 664.1 566.7 660.4 564.1 658.8 560.4 658.0 559.7 653.7 559.5 650.8 555.7 650.0 555.4 645.2 557.6 643.5 557.3 639.5 555.4 638.7 555.7 635.8 559.5 632.3 559.5 630.8 560.3 629.1 564.1 625.4 566.7 625.2 571.5 622.3 574.7 622.3 576.3 623.5 579.5 622.3 585.1 625.2 588.3 625.4 593.1 629.1 595.7 630.7 599.4 631.5 600.1 635.8 600.3 638.7 604.1 639.5 604.4 644.3 602.2 646.0 602.5 649.2 604.3 650.3 604.3M645.2 574.9 643.5 574.7 642.9 573.9 642.1 569.1 641.1 568.2 639.8 569.1 639.5 571.1 637.8 570.7 636.3 568.3 637.6 567.5 637.9 565.9 639.5 565.6 641.9 566.7 644.3 566.0 647.6 566.7 650.8 565.5 651.6 565.9 651.9 567.5 653.2 568.3 651.7 570.7 650.0 571.1 649.7 569.1 648.4 568.2 647.4 569.1 646.6 573.9 645.2 574.9M639.5 585.9 637.9 586.3 637.9 584.3 635.5 582.7 638.2 581.1 638.2 578.7 635.5 577.1 637.9 575.5 637.9 573.5 638.7 573.4 639.9 574.7 638.8 577.9 639.8 579.5 638.8 581.9 639.9 585.1 639.5 585.9M651.6 586.3 650.0 585.9 649.6 585.1 650.7 581.9 649.7 580.3 650.7 577.9 649.6 574.7 650.8 573.4 651.6 573.5 651.6 575.5 654.0 577.1 651.3 578.7 651.3 581.1 654.0 582.7 651.6 584.3 651.6 586.3M630.7 576.8 628.6 576.3 629.0 574.7 630.8 575.5 631.3 576.3 630.7 576.8M660.4 576.7 658.2 576.3 660.4 574.6 661.0 575.5 660.4 576.7M633.1 578.1 631.9 577.1 633.1 576.6 634.3 577.1 633.1 578.1M656.4 578.1 655.2 577.1 656.4 576.6 657.6 577.1 656.4 578.1M633.9 583.0 631.9 582.7 633.1 581.7 634.3 582.7 633.9 583.0M657.2 583.0 655.2 582.7 656.4 581.7 657.6 582.7 657.2 583.0M629.1 585.2 628.5 584.3 629.1 583.1 631.3 583.5 629.1 585.2M660.4 585.2 658.2 583.5 660.4 583.1 661.0 584.3 660.4 585.2M650.8 594.3 647.6 593.1 645.2 593.8 641.9 593.1 638.7 594.3 637.9 593.9 637.1 591.7 636.3 591.5 637.8 589.1 638.7 588.5 639.8 589.1 639.8 590.7 641.1 591.6 641.9 591.1 642.9 585.9 643.5 585.1 645.2 584.9 646.6 585.9 647.6 591.1 648.4 591.6 649.7 590.7 649.7 589.1 650.8 588.5 652.8 590.7 653.2 591.5 652.4 591.7 651.6 593.9 650.8 594.3" stroke="#ffac00"/><path d="M660.4 651.5 655.6 651.9 629.1 651.5 623.0 649.8 614.7 645.1 599.5 635.4 593.9 630.6 589.1 623.4 584.6 613.9 579.5 604.9 577.1 598.6 576.1 590.7 576.5 580.3 576.1 567.5 577.1 561.2 579.5 554.9 584.6 545.9 589.9 534.9 594.6 528.4 599.5 524.4 621.3 510.8 628.5 508.4 633.9 507.9 658.8 508.1 666.0 509.8 672.4 513.2 690.0 524.4 695.6 529.2 700.4 536.4 704.9 545.9 710.0 554.9 712.4 561.2 713.4 569.1 713.0 579.5 713.4 592.3 712.4 598.6 710.0 604.9 704.9 613.9 699.6 624.9 694.9 631.4 690.0 635.4 668.2 649.0 664.4 650.6 660.4 651.5M650.8 609.1 652.4 608.3 655.6 604.3 659.6 604.3 661.1 603.5 663.4 598.7 667.7 595.5 668.7 589.9 672.4 585.9 672.4 584.2 670.0 580.3 670.3 578.7 672.4 575.6 672.4 573.9 668.7 569.9 667.6 564.1 663.4 561.1 661.7 557.1 660.4 555.8 655.6 555.5 652.4 551.5 650.8 550.7 649.2 550.9 645.2 554.0 643.5 553.6 640.3 550.9 638.7 550.7 637.1 551.5 633.9 555.5 629.9 555.5 628.4 556.3 626.1 561.1 621.8 564.3 620.8 569.9 617.1 573.9 617.1 575.6 619.5 579.5 619.2 581.1 617.1 584.2 617.1 585.9 620.8 589.9 621.9 595.7 626.1 598.7 627.8 602.7 629.1 604.0 633.9 604.3 637.1 608.3 638.7 609.1 640.3 608.9 644.3 605.8 646.0 606.2 649.2 608.9 650.8 609.1M646.0 570.4 643.5 570.4 642.7 569.0 642.9 567.5 646.6 567.5 646.8 569.0 646.0 570.4M645.2 574.2 643.5 573.5 643.5 572.4 644.3 571.9 646.0 572.4 646.0 573.5 645.2 574.2M645.2 587.9 643.6 587.5 643.8 585.9 645.2 585.6 646.0 586.3 646.0 587.4 645.2 587.9M646.0 592.5 642.9 592.3 642.7 590.8 643.5 589.4 646.0 589.4 646.4 589.9 646.9 591.5 646.0 592.5" stroke="#ffe200"/><path d="M660.4 650.0 655.6 650.5 633.9 650.5 626.7 649.5 621.1 647.2 601.1 634.7 595.5 630.3 591.7 625.0 580.4 603.5 578.3 597.1 577.5 591.5 577.9 580.3 577.5 568.3 578.1 563.5 580.4 556.3 591.2 535.6 595.5 529.5 599.8 526.0 619.5 513.5 626.7 510.3 633.1 509.3 658.0 509.5 665.2 511.1 672.4 514.9 689.2 525.6 694.8 530.4 698.7 536.4 708.7 555.5 711.2 562.7 712.0 568.3 711.6 579.5 712.0 591.5 711.4 596.3 709.1 603.5 698.3 624.2 694.0 630.3 688.5 634.6 667.6 647.7 660.4 650.0M651.5 611.5 654.0 610.2 657.2 607.2 661.2 606.4 662.8 605.4 665.6 601.1 669.9 597.1 670.9 591.5 674.4 587.5 675.0 585.9 674.8 584.3 673.2 580.3 675.0 573.9 674.4 572.3 670.9 568.3 670.4 564.3 669.4 561.9 665.6 558.7 663.8 555.5 662.2 553.9 657.2 552.6 654.0 549.6 651.6 548.3 649.2 548.3 645.2 550.1 640.3 548.3 637.9 548.3 635.5 549.6 632.3 552.6 628.3 553.4 626.7 554.4 623.9 558.7 619.6 562.7 618.6 568.3 615.1 572.3 614.5 573.9 614.7 575.5 616.3 579.5 614.5 585.9 615.1 587.5 618.6 591.5 619.1 595.5 620.1 597.9 623.9 601.1 625.7 604.3 627.3 605.9 632.3 607.2 635.5 610.2 637.9 611.5 640.3 611.5 645.2 609.7 649.2 611.5 651.5 611.5" stroke="#d7eb00"/><path d="M654.8 649.0 633.9 649.0 625.9 647.7 620.2 645.0 600.3 632.3 596.3 629.0 592.5 623.4 581.7 602.7 579.2 594.7 578.9 568.3 579.6 563.5 581.7 557.1 593.0 535.6 596.4 530.8 601.9 526.4 621.9 513.8 629.1 511.3 633.9 510.8 654.8 510.8 662.8 511.9 668.4 514.2 687.6 526.4 693.1 530.8 697.0 536.4 707.8 557.1 710.3 565.1 710.6 591.5 709.9 596.3 707.6 603.1 695.6 625.7 693.1 629.0 689.2 632.3 667.9 645.8 662.0 648.1 654.8 649.0M653.7 613.1 658.8 609.7 664.4 607.1 671.6 599.2 673.6 592.3 676.4 588.5 677.0 586.7 675.8 580.3 677.0 573.1 676.4 571.3 673.6 567.5 671.4 560.3 663.8 552.3 658.8 550.1 655.3 547.5 652.4 546.3 649.2 546.1 645.2 546.9 640.3 546.1 637.1 546.3 634.2 547.5 630.7 550.1 625.7 552.3 618.1 560.3 615.9 567.5 613.1 571.3 612.5 573.1 613.7 579.5 612.5 586.7 613.1 588.5 615.9 592.3 618.1 599.5 625.9 607.6 630.7 609.7 634.7 612.6 637.9 613.7 645.2 612.9 650.8 613.8 653.7 613.1" stroke="#43f500"/><path d="M656.4 647.5 634.7 647.6 625.9 646.2 621.1 643.9 601.1 631.0 597.1 627.6 593.8 622.6 583.0 601.9 580.7 594.7 580.4 568.3 580.9 564.3 583.3 557.1 593.9 536.9 597.1 532.2 601.1 528.8 621.9 515.4 628.3 513.0 634.7 512.2 654.0 512.2 662.8 513.4 667.8 515.6 686.8 527.7 691.8 531.6 695.3 536.4 706.2 557.1 708.8 565.1 709.1 591.5 708.6 595.5 706.2 602.7 694.8 624.2 692.4 627.6 689.2 630.4 668.4 643.9 663.6 646.2 656.4 647.5M654.1 615.5 656.4 614.7 660.4 611.8 666.0 608.9 670.8 604.7 672.8 601.9 679.4 587.5 679.4 585.1 678.5 580.3 679.5 573.9 679.1 571.5 672.4 557.1 670.0 554.4 665.2 550.4 660.4 548.0 656.4 545.1 654.0 544.3 650.0 543.8 645.2 544.2 639.5 543.8 634.7 544.5 622.7 551.5 618.7 555.1 616.7 557.9 610.1 572.3 610.1 574.7 611.0 579.5 610.0 585.9 610.4 588.3 617.1 602.7 619.5 605.4 624.3 609.4 629.1 611.8 633.1 614.7 635.5 615.5 639.5 616.0 644.3 615.6 650.0 616.0 654.1 615.5" stroke="#00fa00"/><path d="M657.2 645.9 635.5 646.1 626.7 644.9 621.8 642.6 601.9 629.7 598.4 626.6 595.5 622.5 589.4 609.9 584.8 601.9 582.4 594.7 582.1 591.5 582.4 565.1 584.8 557.9 589.4 549.9 595.6 537.2 598.4 533.2 601.9 530.1 621.9 517.1 628.3 514.5 635.5 513.7 656.4 513.9 663.6 515.2 669.2 518.1 687.6 530.1 691.6 533.8 694.4 538.0 700.1 549.9 704.4 557.2 707.1 565.1 707.4 568.3 707.1 594.7 704.7 601.9 700.1 609.9 693.4 623.4 691.1 626.6 688.5 629.0 668.4 642.2 663.6 644.6 657.2 645.9M656.4 617.9 672.0 607.5 673.9 605.1 678.6 596.3 681.2 590.2 682.1 586.7 681.5 579.5 682.1 573.9 681.6 570.7 679.0 564.3 672.8 553.1 669.2 550.0 662.0 546.0 658.0 542.7 655.6 541.7 650.8 541.4 638.7 541.4 633.1 541.9 617.5 552.3 615.6 554.7 610.9 563.5 608.3 569.6 607.4 573.1 608.0 580.3 607.4 585.9 607.9 589.1 610.5 595.5 616.7 606.7 620.3 609.8 627.5 613.8 631.5 617.1 633.9 618.1 638.7 618.4 650.8 618.4 656.4 617.9" stroke="#00fa00"/><path d="M658.8 644.2 636.3 644.7 627.5 643.6 621.9 640.9 603.5 628.9 600.3 626.2 597.2 621.8 590.8 608.3 586.5 601.1 584.8 595.5 584.3 592.3 584.6 565.1 586.5 558.7 590.8 551.5 597.1 538.1 600.0 534.0 602.7 531.4 621.9 518.9 628.3 516.0 636.3 515.1 656.4 515.3 662.8 516.5 668.4 519.4 686.8 531.4 690.2 534.8 692.4 538.1 698.7 551.5 702.8 558.3 704.7 564.3 705.2 567.5 704.9 594.7 703.0 601.1 698.7 608.3 692.3 621.8 689.2 626.2 686.0 628.9 666.8 641.4 662.8 643.3 658.8 644.2M645.7 621.0 654.0 621.0 658.0 620.1 663.6 615.9 671.6 611.5 674.4 609.1 681.2 597.1 684.0 589.9 684.6 585.9 684.5 572.3 683.5 568.3 680.8 561.9 675.0 551.5 671.6 548.3 663.6 543.9 659.2 540.3 656.4 539.2 634.7 538.9 630.3 540.3 625.9 543.9 617.1 548.9 614.5 551.5 608.3 562.7 605.5 569.9 604.9 573.9 605.0 587.5 606.0 591.5 608.3 597.1 614.5 608.3 616.3 610.3 625.9 615.9 631.9 620.2 635.5 621.0 645.7 621.0" stroke="#00fa00"/><path d="M659.6 642.8 653.2 643.3 632.3 643.1 627.5 642.1 621.9 639.2 611.2 631.4 604.4 627.4 601.9 625.0 598.3 619.5 592.7 606.7 588.3 598.1 587.5 591.5 588.6 580.3 587.6 569.9 587.8 564.3 589.0 559.5 592.7 553.1 598.3 540.3 601.3 535.6 604.3 532.4 610.7 528.7 622.7 520.1 629.9 517.0 636.3 516.5 657.2 516.7 662.0 517.7 667.6 520.6 678.3 528.4 685.1 532.4 687.6 534.8 691.2 540.3 696.8 553.1 701.2 561.7 702.0 568.3 700.9 579.5 701.9 589.9 701.7 595.5 700.5 600.3 696.8 606.7 691.2 619.5 688.2 624.2 685.2 627.4 678.8 631.1 666.8 639.7 659.6 642.8M655.4 623.4 660.4 621.7 665.2 618.3 674.9 613.1 677.7 609.9 684.3 598.7 688.1 590.7 687.4 580.3 688.1 569.1 684.3 561.1 676.4 548.0 665.2 541.5 661.2 538.6 657.2 536.8 654.0 536.2 636.3 536.1 633.1 536.6 628.3 538.6 624.3 541.5 613.5 547.5 605.7 560.3 601.4 569.1 602.1 579.5 601.4 590.7 605.2 598.7 611.8 609.9 614.6 613.1 624.3 618.3 629.1 621.7 633.1 623.2 636.3 623.7 655.4 623.4M597.9 588.3 598.5 584.3 598.6 576.3 597.9 570.8 597.9 589.0 597.9 588.3M691.6 588.3 691.6 570.8 690.9 576.3 691.0 584.3 691.6 589.0 691.6 588.3" stroke="#00f83c"/><path d="M658.0 641.8 632.3 641.9 627.5 640.7 622.4 637.8 612.3 630.1 605.9 626.2 603.5 623.9 599.5 617.9 590.7 599.5 589.7 596.3 589.2 590.7 590.5 583.5 590.6 578.7 589.3 569.9 589.6 564.3 590.7 560.3 599.5 541.9 602.6 537.2 605.4 534.0 612.3 529.7 623.5 521.3 629.9 518.3 633.9 517.8 657.2 517.9 662.0 519.1 666.8 521.8 677.2 529.7 683.6 533.6 686.0 535.9 690.0 541.9 698.8 560.3 699.8 563.5 700.3 569.1 699.0 576.3 698.9 581.1 700.2 589.9 699.9 595.5 698.8 599.5 689.6 618.7 686.0 623.9 683.6 626.2 677.2 630.1 665.8 638.6 662.0 640.7 658.0 641.8M655.1 625.8 662.0 624.0 674.0 617.9 677.2 616.9 679.5 615.5 680.8 613.9 690.1 597.9 692.5 592.3 693.4 584.3 693.3 573.9 692.5 567.5 690.1 561.9 683.3 549.9 680.2 545.1 678.0 543.2 674.0 541.9 662.0 535.8 655.6 534.0 636.3 533.8 630.8 534.8 626.7 536.1 615.5 541.9 611.0 543.5 609.1 545.4 605.8 550.7 599.0 562.7 596.8 568.3 596.1 574.7 596.1 584.3 597.0 592.3 599.4 597.9 606.2 609.9 609.3 614.7 611.5 616.6 615.5 617.9 627.5 624.0 633.1 625.6 637.1 626.1 655.1 625.8M592.5 586.7 593.7 583.5 593.8 577.9 593.1 573.9 592.3 572.8 591.5 573.4 591.0 575.5 590.8 581.9 591.5 586.4 592.5 586.7M697.6 586.7 698.6 583.5 698.7 577.1 698.0 573.4 697.2 572.8 696.4 573.8 695.8 576.3 695.7 581.9 696.4 586.0 697.2 587.0 697.6 586.7" stroke="#00f685"/><path d="M694.0 568.2 693.5 565.9 691.1 561.1 684.1 549.1 679.9 543.5 662.0 533.1 650.8 531.6 637.9 531.6 627.5 533.1 625.8 534.0 610.7 542.7 608.8 544.3 598.4 561.1 596.0 565.9 595.5 568.2 594.9 566.7 596.3 559.5 595.5 559.4 594.7 560.2 591.5 564.7 591.2 563.5 600.4 542.7 603.4 538.0 606.7 534.6 614.0 530.0 624.3 522.2 628.3 520.0 632.3 518.9 645.2 519.3 656.4 518.9 660.4 519.6 665.2 522.2 675.5 530.0 683.0 534.8 686.7 538.8 689.1 542.7 698.3 563.5 698.0 564.7 694.8 560.2 694.0 559.4 693.2 559.5 694.6 566.7 694.0 568.2M659.6 640.4 656.4 640.9 645.2 640.5 632.3 640.9 628.3 639.8 624.3 637.6 614.0 629.8 606.5 625.0 602.8 621.0 600.8 617.9 592.0 598.7 591.2 596.3 591.5 595.1 594.7 599.6 595.5 600.4 596.3 600.3 594.9 593.1 595.5 591.6 596.0 593.9 598.4 598.7 608.8 615.5 610.7 617.1 625.8 625.8 627.5 626.7 637.9 628.2 650.0 628.3 662.0 626.7 679.6 616.5 684.1 610.7 690.8 599.2 693.5 593.9 694.0 591.6 694.6 593.1 693.2 600.3 694.0 600.4 694.8 599.6 698.0 595.1 698.3 596.3 687.3 620.2 682.8 625.2 675.5 629.8 665.2 637.6 659.6 640.4" stroke="#00f3cf"/><path d="M685.2 548.8 679.6 542.3 664.4 533.4 659.3 531.6 650.8 530.2 637.9 530.3 628.3 532.0 624.3 533.8 609.9 542.3 604.3 548.8 602.9 545.9 601.1 545.8 600.8 545.1 602.7 540.7 606.7 536.0 615.5 530.2 624.3 523.2 628.3 520.9 633.1 519.8 644.3 520.3 657.2 519.8 661.2 520.9 664.4 522.7 674.0 530.2 683.6 536.7 686.6 540.3 688.6 544.3 688.4 545.8 686.6 545.9 685.2 548.8M600.3 546.2 600.7 545.9 600.3 546.2M689.2 546.2 688.8 545.9 689.2 546.2M659.6 639.5 656.4 640.0 645.2 639.5 633.1 640.0 628.3 638.9 624.3 636.6 615.5 629.6 606.3 623.4 602.0 617.9 600.9 615.5 601.1 614.0 602.9 613.9 604.3 611.0 609.9 617.5 625.5 626.6 630.7 628.4 641.1 629.6 651.6 629.5 662.0 627.5 679.6 617.5 685.2 611.0 686.6 613.9 688.4 614.0 688.6 615.5 687.1 618.7 682.8 623.8 674.0 629.6 664.5 637.0 659.6 639.5M600.3 613.9 600.7 613.9 600.3 613.9M689.2 613.9 688.8 613.9 689.2 613.9" stroke="#00d1f2"/><path d="M680.4 541.6 663.6 532.0 650.8 529.4 638.7 529.4 627.5 531.5 615.5 537.6 609.1 541.6 606.5 538.0 608.9 535.6 616.3 530.9 625.2 523.6 629.9 521.0 633.1 520.5 644.3 521.1 656.4 520.5 659.6 521.0 663.1 522.8 675.6 532.7 681.6 536.4 683.0 538.0 680.4 541.6M659.6 638.8 656.4 639.3 645.2 638.7 633.1 639.3 629.9 638.8 625.2 636.2 616.3 628.9 608.9 624.2 606.5 621.8 609.1 618.2 615.5 622.2 627.5 628.3 637.9 630.3 650.0 630.4 662.8 628.1 674.0 622.2 679.6 618.5 680.4 618.2 681.1 618.7 683.0 621.8 681.6 623.4 673.2 628.9 663.6 636.7 659.6 638.8" stroke="#0095f6"/><path d="M665.2 531.7 652.4 528.8 648.4 528.6 637.9 528.7 624.3 531.7 623.6 531.6 621.8 527.6 627.5 522.8 631.5 521.3 645.2 522.0 657.2 521.2 661.8 522.8 667.7 527.6 665.9 531.6 665.2 531.7M656.4 638.6 646.0 637.8 633.9 638.6 630.7 638.3 625.9 635.8 621.8 632.2 621.9 631.4 623.6 628.2 624.3 628.1 637.1 631.0 641.1 631.2 651.6 631.1 665.9 628.2 667.7 632.2 661.8 637.0 658.8 638.3 656.4 638.6" stroke="#0058fa"/><path d="M662.8 529.3 662.0 529.9 650.8 527.8 641.9 527.6 627.5 529.9 626.2 528.4 625.4 526.0 625.7 525.2 627.6 523.6 631.5 521.9 646.0 523.2 657.2 521.8 660.4 522.7 663.8 525.2 663.9 526.8 662.8 529.3M658.0 637.9 646.0 636.6 631.5 637.9 627.6 636.2 625.7 634.6 625.4 633.8 626.2 631.4 627.5 629.9 638.7 632.0 644.3 632.2 650.8 632.0 662.0 629.9 663.6 632.2 663.8 634.6 661.2 636.7 658.0 637.9" stroke="#001cfd"/><path d="M633.1 528.5 629.1 528.8 627.8 526.8 627.8 524.4 631.5 522.6 635.4 522.8 636.5 525.2 636.1 527.6 633.1 528.5M660.4 528.8 657.2 528.7 653.4 527.6 653.0 525.2 654.1 522.8 658.0 522.6 661.7 524.4 661.7 526.8 660.4 528.8M634.7 637.2 630.7 637.0 627.8 635.4 627.8 633.0 628.7 631.4 631.5 631.0 636.1 632.2 636.3 635.4 635.4 637.0 634.7 637.2M658.0 637.2 654.1 637.0 653.0 634.6 653.4 632.2 658.0 631.0 660.8 631.4 661.7 633.0 661.7 635.4 658.0 637.2" stroke="#2000ff"/><path d="M632.3 527.7 630.7 527.5 629.7 526.0 630.1 524.4 631.2 523.6 633.1 523.9 634.0 525.2 633.8 526.8 632.3 527.7M658.0 527.8 656.4 527.5 655.4 526.0 655.9 524.4 656.9 523.6 658.8 523.8 659.8 525.2 659.5 526.8 658.0 527.8M632.3 636.3 630.7 636.0 629.7 634.6 630.0 633.0 631.5 632.0 633.1 632.3 634.1 633.8 633.6 635.4 632.3 636.3M658.0 636.3 656.4 635.9 655.5 634.6 655.7 633.0 656.4 632.2 658.0 632.0 659.6 633.2 659.6 635.2 658.0 636.3" stroke="#5b00ff"/></g></g><clipPath id="lbe"><rect x="524.5" y="460.4" width="83" height="39"/></clipPath><rect x="524.5" y="460.4" width="83" height="39" fill="#fff"/><g clip-path="url(#lbe)"><path d="M550.1 459.4V700.4M597.5 459.4V700.4M644.8 459.4V700.4M692.0 459.4V700.4M739.4 459.4V700.4" stroke="#9898f5" stroke-width="1.4" stroke-dasharray="1.8 2.8" fill="none"/><path d="M523.5 674.3H766.0M523.5 627.1H766.0M523.5 579.9H766.0M523.5 532.7H766.0M523.5 485.5H766.0" stroke="#babaf8" stroke-width="1.2" stroke-dasharray="1.8 2.8" fill="none"/></g><rect x="523.5" y="459.4" width="242.5" height="241.0" fill="none" stroke="#000" stroke-width="2"/><path d="M550.1 700.4v14M523.5 674.3h-14M597.5 700.4v14M523.5 627.1h-14M644.8 700.4v14M523.5 579.9h-14M692.0 700.4v14M523.5 532.7h-14M739.4 700.4v14M523.5 485.5h-14" stroke="#000" stroke-width="2" fill="none"/><text x="548.0" y="738.1" text-anchor="middle" font-size="18">−4</text><text x="501.5" y="680.8" text-anchor="end" font-size="18">−4</text><text x="595.4" y="738.1" text-anchor="middle" font-size="18">−2</text><text x="501.5" y="633.6" text-anchor="end" font-size="18">−2</text><text x="644.5" y="738.1" text-anchor="middle" font-size="18">0</text><text x="501.5" y="586.4" text-anchor="end" font-size="18">0</text><text x="691.8" y="738.1" text-anchor="middle" font-size="18">2</text><text x="501.5" y="539.2" text-anchor="end" font-size="18">2</text><text x="739.1" y="738.1" text-anchor="middle" font-size="18">4</text><text x="501.5" y="492.0" text-anchor="end" font-size="18">4</text><g transform="translate(644.75 768.20)"><text x="-96.91" y="0.00" font-size="18.9">momentum</text><text x="3.50" y="0.00" font-size="18.5">(10</text><text x="30.77" y="-12.70" font-size="12">5</text><text x="43.57" y="0.00" font-size="18.5" font-style="italic">u</text><text x="59.22" y="0.00" font-size="18.5">m/s)</text></g><g transform="translate(460.50 578.40) rotate(-90)"><text x="-96.91" y="0.00" font-size="18.9">momentum</text><text x="3.50" y="0.00" font-size="18.5">(10</text><text x="30.77" y="-12.70" font-size="12">5</text><text x="43.57" y="0.00" font-size="18.5" font-style="italic">u</text><text x="59.22" y="0.00" font-size="18.5">m/s)</text></g><text x="530.85" y="493.90" font-size="25">(e) C</text><text x="585.82" y="476.55" font-size="16.5">2+</text><rect x="774.2" y="465.5" width="6.3" height="70.7" fill="url(#cbg)" stroke="#000" stroke-width="1.5"/><path d="M781.3 534.4h4.5" stroke="#000" stroke-width="2"/><text x="793.5" y="540.9" font-size="18">0</text><path d="M781.3 508.7h4.5" stroke="#000" stroke-width="2"/><text x="793.5" y="515.2" font-size="18">1</text><path d="M781.3 483.0h4.5" stroke="#000" stroke-width="2"/><text x="793.5" y="489.5" font-size="18">2</text><text transform="translate(780.5 548.9) rotate(90)" font-size="18">×10<tspan font-size="13" dy="-13">−4</tspan></text><path d="M923.6 459.4V700.4M971.0 459.4V700.4M1018.2 459.4V700.4M1065.5 459.4V700.4M1112.8 459.4V700.4" stroke="#9898f5" stroke-width="1.4" stroke-dasharray="1.8 2.8" fill="none"/><path d="M897.0 674.3H1139.5M897.0 627.1H1139.5M897.0 579.9H1139.5M897.0 532.7H1139.5M897.0 485.5H1139.5" stroke="#babaf8" stroke-width="1.2" stroke-dasharray="1.8 2.8" fill="none"/><clipPath id="clipf"><rect x="897.0" y="459.4" width="242.5" height="241.0"/></clipPath><g clip-path="url(#clipf)"><g fill="none" stroke-width="1.9" stroke-linejoin="round" stroke-linecap="round"><path d="M1026.7 651.9 1024.3 651.9 1022.0 650.6 1021.3 649.8 1021.1 647.4 1020.3 645.8 1018.7 645.0 1016.2 645.8 1015.4 647.4 1015.2 649.8 1014.5 650.6 1012.2 651.9 1010.6 652.0 1008.3 650.6 1007.6 647.4 1005.8 645.7 1000.2 645.4 993.8 643.6 989.0 643.8 982.6 640.8 979.5 636.2 978.4 635.4 972.2 633.4 970.4 631.4 969.6 629.0 969.4 625.8 968.2 624.0 966.6 623.5 961.8 624.7 960.2 624.2 959.5 621.0 960.1 616.3 959.8 614.7 955.6 611.5 954.5 609.9 954.1 603.5 953.3 600.3 949.8 596.3 948.6 589.9 948.3 576.3 949.4 564.3 950.2 562.7 953.3 559.5 954.1 556.3 954.3 550.7 955.0 549.1 959.8 545.1 960.1 543.5 959.5 538.8 960.2 535.6 961.0 535.0 965.8 536.3 968.2 535.8 969.2 534.8 969.6 530.8 971.0 527.6 973.0 525.8 977.8 524.7 979.4 523.6 982.6 519.0 989.8 515.8 993.8 516.2 1000.2 514.4 1005.8 514.1 1007.6 512.4 1008.3 509.2 1010.6 507.8 1012.2 507.9 1014.5 509.2 1015.2 510.0 1015.4 512.4 1016.2 514.0 1017.8 514.8 1020.3 514.0 1021.1 512.4 1021.3 510.0 1022.0 509.2 1024.3 507.9 1025.9 507.8 1028.2 509.2 1028.9 512.4 1030.7 514.1 1036.3 514.4 1042.7 516.2 1047.5 516.0 1053.9 519.0 1057.0 523.6 1058.1 524.4 1064.3 526.4 1066.1 528.4 1066.9 530.8 1067.1 534.0 1068.3 535.8 1069.9 536.3 1074.7 535.1 1076.3 535.6 1077.0 538.8 1076.4 543.5 1076.7 545.1 1080.9 548.3 1082.0 549.9 1082.4 556.3 1083.2 559.5 1086.7 563.5 1087.9 569.9 1088.2 583.5 1087.1 595.5 1086.3 597.1 1083.2 600.3 1082.4 603.5 1082.2 609.1 1081.5 610.7 1076.7 614.7 1076.4 616.3 1077.0 621.0 1076.3 624.2 1075.5 624.8 1070.7 623.5 1068.3 624.0 1067.3 625.0 1066.9 629.0 1065.5 632.2 1063.5 634.0 1058.7 635.1 1057.1 636.2 1053.9 640.8 1046.7 644.0 1042.7 643.6 1036.3 645.4 1030.7 645.7 1028.9 647.4 1028.2 650.6 1026.7 651.9M964.2 531.7 963.4 531.6 964.2 531.7M1073.1 531.6 1072.2 531.6 1073.1 531.6M964.2 628.4 963.4 628.2 964.2 628.4M1073.1 628.3 1072.2 628.2 1073.1 628.3" stroke="#ff3500"/><path d="M1026.7 651.6 1024.3 651.6 1022.6 650.6 1021.5 649.0 1020.8 645.8 1018.7 644.5 1015.7 645.8 1015.0 649.0 1013.9 650.6 1012.2 651.6 1010.6 651.8 1008.7 650.6 1008.0 647.4 1005.8 645.2 1000.2 645.2 993.8 643.0 989.3 643.4 982.6 640.3 980.6 637.0 978.6 635.0 972.2 633.2 970.5 630.6 969.6 625.0 967.4 623.1 965.8 623.0 961.0 624.2 960.0 622.6 960.1 617.9 960.6 615.5 955.2 610.7 954.6 608.3 954.1 601.9 952.5 598.7 950.5 597.1 949.7 595.5 949.5 591.5 948.8 589.1 948.8 570.7 949.5 568.3 949.7 564.3 953.6 559.5 955.2 549.1 960.6 544.3 960.1 541.9 960.2 536.4 961.8 535.5 965.8 536.8 967.4 536.7 969.6 534.8 970.5 529.2 971.3 527.6 973.8 525.8 978.6 524.8 980.6 522.8 982.6 519.5 989.8 516.2 993.8 516.8 1000.2 514.6 1005.8 514.6 1008.0 512.4 1008.7 509.2 1010.6 508.0 1012.2 508.2 1013.9 509.2 1015.0 510.8 1015.7 514.0 1017.8 515.3 1020.8 514.0 1021.5 510.8 1022.6 509.2 1024.3 508.2 1025.9 508.0 1027.8 509.2 1028.5 512.4 1030.7 514.6 1036.3 514.6 1042.7 516.8 1047.2 516.4 1053.9 519.5 1055.9 522.8 1057.9 524.8 1064.3 526.6 1066.0 529.2 1066.9 534.8 1069.1 536.7 1070.7 536.8 1075.5 535.6 1076.5 537.2 1076.4 541.9 1075.9 544.3 1081.3 549.1 1081.9 551.5 1082.4 557.9 1084.0 561.1 1086.0 562.7 1086.8 564.3 1087.0 568.3 1087.7 570.7 1087.7 589.1 1087.0 591.5 1086.8 595.5 1082.9 600.3 1081.3 610.7 1075.9 615.5 1076.4 617.9 1076.3 623.4 1074.7 624.3 1070.7 623.0 1069.1 623.1 1066.9 625.0 1066.0 630.6 1065.2 632.2 1062.7 634.0 1057.9 635.0 1055.9 637.0 1053.9 640.3 1046.7 643.6 1042.7 643.0 1036.3 645.2 1030.7 645.2 1028.5 647.4 1027.8 650.6 1026.7 651.6" stroke="#ff7600"/><path d="M1014.6 512.0 1009.8 512.2 1008.2 512.0 1008.2 511.6 1009.0 509.3 1010.2 508.4 1011.4 508.2 1014.2 510.0 1014.6 512.0M1028.3 512.0 1021.9 512.0 1021.8 510.8 1023.0 509.2 1025.9 508.2 1027.5 509.3 1028.3 512.0M1025.9 635.9 1023.5 635.9 1018.7 633.5 1012.2 636.1 1010.6 635.9 1006.6 633.4 998.6 634.1 997.0 633.4 994.2 630.6 988.2 630.4 985.8 629.1 982.6 626.3 973.8 623.6 966.7 615.5 962.6 609.0 957.8 605.9 955.3 603.5 954.0 600.3 954.0 596.3 951.1 592.3 950.2 587.5 950.9 583.5 950.9 576.3 950.3 571.5 951.4 566.7 954.0 563.5 954.0 559.5 955.3 556.3 957.8 553.9 962.6 550.8 966.7 544.3 973.8 536.2 982.6 533.5 985.8 530.7 988.2 529.4 994.2 529.2 997.0 526.4 998.6 525.7 1006.6 526.4 1010.6 523.9 1012.2 523.7 1018.7 526.3 1024.3 523.7 1025.9 523.9 1029.9 526.4 1037.9 525.7 1039.5 526.4 1042.7 529.3 1048.3 529.4 1050.7 530.7 1053.9 533.5 1061.9 535.7 1064.6 538.0 1069.8 544.3 1073.9 550.8 1078.7 553.9 1081.2 556.3 1082.5 559.5 1082.5 563.5 1085.4 567.5 1086.3 572.3 1085.6 576.3 1085.6 583.5 1086.2 588.3 1085.1 593.1 1082.5 596.3 1082.5 600.3 1081.8 602.7 1080.5 604.3 1073.9 609.0 1069.8 615.5 1064.6 621.8 1061.9 624.1 1053.9 626.3 1050.7 629.1 1048.3 630.4 1042.7 630.5 1038.7 633.8 1037.1 634.1 1029.9 633.4 1025.9 635.9M1023.8 556.3 1028.3 552.2 1029.3 549.9 1028.8 549.1 1026.7 548.1 1025.1 545.9 1024.2 545.9 1023.8 547.5 1025.8 549.1 1025.9 549.9 1025.3 552.3 1024.3 553.2 1021.9 553.3 1018.7 552.1 1016.5 552.3 1014.6 553.3 1012.0 553.1 1011.2 552.3 1010.6 549.9 1010.7 549.1 1012.7 547.5 1012.2 545.9 1011.4 545.9 1009.8 548.1 1007.7 549.1 1007.2 549.9 1008.2 552.2 1013.0 556.6 1015.4 554.5 1017.8 555.0 1021.1 554.5 1022.7 556.2 1023.8 556.3M1015.0 566.7 1016.2 563.5 1015.5 561.9 1014.6 561.4 1013.8 561.7 1012.3 565.1 1013.8 566.9 1015.0 566.7M1023.0 566.7 1024.2 565.1 1022.7 561.7 1021.9 561.4 1020.4 562.7 1020.4 564.3 1021.5 566.7 1021.9 567.1 1023.0 566.7M1026.9 589.9 1027.5 588.3 1026.6 585.9 1020.3 581.7 1019.2 580.3 1019.6 578.7 1026.6 573.9 1027.5 571.5 1026.9 569.9 1025.9 569.6 1025.1 570.0 1024.0 573.1 1022.7 574.5 1021.1 575.3 1020.3 574.1 1019.5 574.2 1018.7 576.8 1017.8 576.8 1017.0 574.2 1016.2 574.1 1015.4 575.3 1014.2 574.7 1012.5 573.1 1011.4 570.0 1010.6 569.6 1009.6 569.9 1009.0 571.5 1009.9 573.9 1016.9 578.7 1017.3 580.3 1016.2 581.7 1009.9 585.9 1009.0 588.3 1009.6 589.9 1010.6 590.2 1011.4 589.8 1012.5 586.7 1014.2 585.1 1015.4 584.5 1016.2 585.7 1017.0 585.6 1017.8 583.0 1018.7 583.0 1019.5 585.6 1020.3 585.7 1021.1 584.5 1022.7 585.3 1024.0 586.7 1025.1 589.8 1025.9 590.2 1026.9 589.9M1017.0 578.5 1016.6 577.9 1017.0 577.2 1017.6 577.9 1017.0 578.5M1019.5 578.5 1018.9 577.9 1019.5 577.2 1019.9 577.9 1019.5 578.5M1014.4 578.7 1012.9 578.7 1014.4 578.7M1023.6 578.7 1022.1 578.7 1023.6 578.7M1014.4 581.1 1012.9 581.1 1014.4 581.1M1023.6 581.1 1022.1 581.1 1023.6 581.1M1017.0 582.6 1016.6 581.9 1017.0 581.3 1017.6 581.9 1017.0 582.6M1019.5 582.6 1018.9 581.9 1019.5 581.3 1019.9 581.9 1019.5 582.6M1015.5 597.9 1016.2 596.3 1015.5 593.9 1014.6 592.7 1013.8 592.9 1012.6 593.9 1012.6 595.5 1013.8 598.1 1014.6 598.4 1015.5 597.9M1022.7 597.9 1024.2 594.7 1023.5 593.4 1021.9 592.7 1021.0 593.9 1020.4 597.1 1021.9 598.4 1022.7 597.9M1025.0 613.9 1026.7 611.7 1028.8 610.7 1029.2 609.1 1027.5 606.7 1023.5 603.2 1021.1 605.3 1018.7 604.8 1015.4 605.3 1013.0 603.2 1009.0 606.7 1007.3 609.1 1007.7 610.7 1009.6 611.5 1010.6 613.2 1012.2 613.9 1012.7 612.3 1010.7 610.7 1010.6 609.9 1011.2 607.5 1012.0 606.7 1014.6 606.5 1016.5 607.5 1018.7 607.7 1021.9 606.5 1024.3 606.6 1025.3 607.5 1025.9 609.9 1025.8 610.7 1023.8 612.3 1024.2 613.9 1025.0 613.9M1011.4 651.6 1010.2 651.4 1009.0 650.5 1008.2 647.8 1014.6 647.8 1014.2 649.8 1011.4 651.6M1025.9 651.6 1023.0 650.6 1021.8 649.0 1021.9 647.8 1028.3 647.8 1027.5 650.5 1025.9 651.6" stroke="#ffb600"/><path d="M1013.8 510.0 1011.4 510.8 1009.0 510.0 1009.8 509.1 1011.4 508.9 1013.0 509.2 1013.8 510.0M1027.5 510.3 1025.1 510.8 1022.6 510.0 1023.5 509.2 1025.9 508.9 1027.5 510.3M1025.1 634.7 1021.9 633.9 1018.7 631.4 1017.0 631.8 1014.8 633.8 1012.2 634.8 1010.6 634.4 1007.4 631.9 999.4 632.5 997.8 631.6 995.4 628.8 993.8 628.4 990.6 629.1 988.2 628.9 985.8 627.5 983.2 625.0 974.9 622.6 972.3 618.7 967.0 613.9 963.4 607.3 957.8 604.0 955.6 601.9 955.0 599.5 955.7 594.7 952.9 592.3 952.0 587.5 952.0 572.3 952.9 567.5 955.7 565.1 955.0 560.3 955.6 557.9 957.8 555.8 963.4 552.5 967.0 545.9 972.3 541.1 974.0 538.0 975.4 536.8 983.4 534.7 985.8 532.3 988.2 530.9 989.8 530.6 994.6 531.3 996.2 530.4 998.6 527.5 1000.2 527.2 1007.4 527.9 1011.4 525.1 1014.6 525.9 1017.8 528.4 1019.5 528.0 1021.7 526.0 1024.3 525.0 1025.9 525.4 1029.1 527.9 1037.1 527.3 1038.7 528.2 1041.1 531.0 1042.7 531.4 1045.9 530.7 1048.3 530.9 1050.7 532.3 1053.3 534.8 1061.6 537.2 1064.2 541.1 1069.5 545.9 1073.1 552.5 1078.7 555.8 1080.9 557.9 1081.5 560.3 1080.8 565.1 1083.6 567.5 1084.5 572.3 1084.5 587.5 1083.6 592.3 1080.8 594.7 1081.5 599.5 1080.9 601.9 1078.7 604.0 1073.1 607.3 1069.5 613.9 1064.2 618.7 1062.5 621.8 1061.1 623.0 1053.1 625.1 1050.7 627.5 1048.3 628.9 1046.7 629.2 1041.9 628.5 1040.3 629.4 1037.9 632.3 1036.3 632.6 1029.1 631.9 1025.1 634.7M1030.0 622.6 1030.9 621.8 1032.6 617.9 1032.6 616.3 1031.5 614.7 1033.1 611.8 1033.3 609.9 1031.3 608.3 1029.5 605.1 1027.5 603.5 1026.7 602.0 1025.1 600.9 1024.3 599.7 1024.2 597.9 1025.3 595.5 1025.8 592.3 1027.7 592.3 1029.5 594.7 1029.9 596.3 1029.1 600.3 1031.5 602.6 1033.1 602.8 1034.7 602.0 1036.1 599.5 1036.2 597.9 1035.5 595.1 1034.7 595.0 1033.1 596.6 1031.1 596.3 1031.0 595.5 1032.8 593.9 1032.9 593.1 1032.3 589.9 1029.7 587.5 1029.8 586.7 1032.8 585.1 1032.3 583.5 1029.9 581.0 1026.7 581.3 1024.7 580.3 1024.7 579.5 1026.7 578.5 1029.9 578.8 1032.3 576.3 1032.8 574.7 1029.8 573.1 1029.7 572.3 1032.3 569.9 1032.9 566.7 1032.8 565.9 1031.0 564.3 1031.1 563.5 1033.1 563.2 1034.7 564.8 1035.5 564.7 1036.3 561.1 1034.8 557.9 1033.9 557.2 1032.3 557.0 1030.7 557.7 1029.1 559.5 1029.9 563.5 1029.5 565.1 1028.3 567.1 1026.7 567.7 1025.8 567.5 1025.3 564.3 1024.1 561.1 1025.1 558.9 1026.6 557.9 1027.5 556.3 1029.5 554.7 1030.7 552.3 1033.3 549.9 1033.1 548.0 1031.5 545.1 1032.6 543.5 1032.6 541.9 1030.9 538.0 1029.9 537.1 1027.0 539.6 1025.9 541.5 1025.1 541.3 1024.4 540.3 1023.5 537.6 1021.9 537.3 1021.0 538.0 1021.6 540.3 1021.5 544.3 1019.1 546.7 1020.3 549.1 1020.2 549.9 1017.0 550.3 1016.3 549.9 1016.2 549.1 1017.4 546.7 1015.4 545.1 1014.8 543.5 1015.5 538.0 1014.6 537.3 1013.0 537.6 1012.1 540.3 1011.4 541.3 1010.6 541.5 1009.5 539.6 1006.6 537.1 1005.6 538.0 1003.9 541.9 1003.9 543.5 1005.0 545.1 1003.4 548.0 1003.2 549.9 1005.2 551.5 1007.0 554.7 1009.0 556.3 1009.8 557.8 1011.4 558.9 1012.2 560.1 1012.3 561.9 1011.2 564.3 1010.7 567.5 1008.8 567.5 1007.0 565.1 1006.6 563.5 1007.4 559.5 1005.0 557.2 1003.4 557.0 1001.8 557.8 1000.2 561.1 1001.0 564.7 1001.8 564.8 1003.4 563.2 1005.4 563.5 1005.5 564.3 1003.7 565.9 1003.6 566.7 1004.2 569.9 1006.8 572.3 1006.7 573.1 1003.7 574.7 1004.2 576.3 1006.6 578.8 1009.8 578.5 1011.8 579.5 1011.8 580.3 1009.8 581.3 1006.6 581.0 1004.2 583.5 1003.7 585.1 1006.7 586.7 1006.8 587.5 1004.2 589.9 1003.6 593.1 1003.7 593.9 1005.5 595.5 1005.4 596.3 1003.4 596.6 1001.8 595.0 1001.0 595.1 1000.2 598.7 1001.7 601.9 1002.6 602.6 1004.2 602.8 1005.8 602.1 1007.4 600.3 1006.6 596.3 1007.0 594.7 1008.2 592.7 1009.8 592.1 1010.7 592.3 1011.2 595.5 1012.4 598.7 1011.4 600.9 1009.9 601.9 1009.0 603.5 1007.0 605.1 1005.8 607.5 1003.2 609.9 1003.4 611.8 1005.0 614.7 1003.9 616.3 1003.9 617.9 1005.6 621.8 1006.6 622.7 1009.5 620.2 1010.6 618.3 1011.4 618.5 1012.1 619.5 1013.0 622.2 1014.6 622.5 1015.5 621.8 1014.9 619.5 1015.0 615.5 1017.4 613.1 1016.2 610.7 1016.3 609.9 1019.5 609.5 1020.2 609.9 1020.3 610.7 1019.1 613.1 1021.1 614.7 1021.7 616.3 1021.0 621.8 1021.9 622.5 1023.5 622.2 1024.4 619.5 1025.1 618.5 1025.9 618.3 1029.1 622.4 1030.0 622.6M1018.7 541.9 1018.7 541.1 1017.8 541.1 1017.8 541.9 1018.7 541.9M1007.4 546.0 1006.8 545.1 1007.6 545.1 1007.4 546.0M1029.1 546.0 1028.9 545.1 1029.7 545.1 1029.1 546.0M1019.5 560.5 1017.8 560.9 1016.9 560.3 1016.2 558.7 1016.2 557.0 1017.8 556.3 1020.3 557.0 1020.3 558.7 1019.5 560.5M1018.7 573.7 1017.8 573.7 1016.4 570.7 1016.9 567.5 1017.8 565.8 1018.7 565.8 1019.3 566.7 1020.1 569.9 1019.9 571.5 1018.7 573.7M1001.7 572.3 1001.0 570.7 999.4 569.6 998.0 570.7 997.8 572.0 998.6 572.7 1001.0 572.9 1001.7 572.3M1038.5 572.3 1038.5 570.7 1037.1 569.6 1035.5 570.7 1034.8 572.3 1036.3 572.9 1038.5 572.3M1014.6 573.3 1013.6 572.3 1013.8 571.1 1014.6 571.8 1014.6 573.3M1021.9 573.3 1021.9 571.8 1022.7 571.1 1022.9 572.3 1021.9 573.3M1013.8 588.7 1013.6 587.5 1014.6 586.5 1014.6 588.0 1013.8 588.7M1018.7 594.0 1017.8 594.0 1017.2 593.1 1016.4 589.9 1016.6 588.3 1017.8 586.1 1018.7 586.1 1020.1 589.1 1019.6 592.3 1018.7 594.0M1022.7 588.7 1021.9 588.0 1021.9 586.5 1022.9 587.5 1022.7 588.7M1000.1 589.9 1001.7 587.5 1001.0 586.9 998.6 587.1 997.8 587.8 998.0 589.1 998.6 590.0 1000.1 589.9M1038.0 589.9 1038.8 588.3 1038.5 587.5 1036.3 586.9 1034.8 587.5 1036.3 589.8 1037.1 590.2 1038.0 589.9M1018.7 603.5 1017.0 603.3 1016.2 602.7 1016.4 600.3 1017.8 598.9 1019.5 599.3 1020.3 601.1 1020.3 602.8 1018.7 603.5M1007.4 614.7 1006.8 614.7 1007.2 613.9 1007.4 614.7M1029.1 614.7 1029.3 613.9 1029.7 614.7 1029.1 614.7M1018.7 618.7 1018.7 617.9 1017.8 617.9 1017.8 618.7 1018.7 618.7M1013.0 650.6 1010.6 650.9 1009.0 649.5 1012.2 649.1 1013.8 649.8 1013.0 650.6M1026.7 650.7 1023.5 650.6 1022.7 649.8 1024.3 649.1 1026.7 649.2 1027.5 649.8 1026.7 650.7" stroke="#ffe400"/><path d="M991.4 626.7 987.4 626.2 983.4 623.7 980.2 623.4 975.4 622.0 973.1 617.9 967.4 613.4 963.4 606.1 957.8 603.2 956.3 601.9 955.6 599.5 956.9 594.7 956.2 593.3 954.4 592.3 953.4 590.7 952.5 580.3 953.4 569.1 954.4 567.5 956.2 566.5 956.9 565.1 955.6 560.3 956.3 557.9 957.8 556.6 963.4 553.7 967.4 546.4 973.1 541.9 975.4 537.8 980.2 536.4 983.4 536.1 986.6 533.9 990.6 533.1 993.8 534.0 994.5 534.8 997.8 545.9 997.1 550.7 998.5 553.9 997.8 555.6 995.8 557.1 995.2 558.7 995.5 560.3 997.8 564.1 998.1 566.7 995.6 571.5 995.4 573.1 996.2 574.4 1001.3 577.1 1002.5 578.7 1002.2 581.9 996.6 585.1 995.4 586.7 995.6 588.3 998.1 593.1 997.8 595.7 995.5 599.5 995.2 601.1 995.8 602.7 997.8 604.2 998.5 605.9 997.1 609.1 997.8 613.9 994.6 624.9 993.8 625.8 991.4 626.7M1046.7 626.7 1044.3 626.5 1042.0 625.0 1038.7 613.9 1039.4 609.1 1038.0 605.9 1038.7 604.2 1040.7 602.7 1041.3 601.1 1041.0 599.5 1038.7 595.7 1038.4 593.1 1040.9 588.3 1041.1 586.7 1040.3 585.4 1035.2 582.7 1034.0 581.1 1034.3 577.9 1039.9 574.7 1041.1 573.1 1040.9 571.5 1038.4 566.7 1038.7 564.1 1041.0 560.3 1041.3 558.7 1040.7 557.1 1038.7 555.6 1038.0 553.9 1039.4 550.7 1038.7 545.9 1042.0 534.8 1042.7 534.0 1045.9 533.1 1049.9 533.9 1053.1 536.1 1056.3 536.4 1061.1 537.8 1063.4 541.9 1069.1 546.4 1073.1 553.7 1078.7 556.6 1080.2 557.9 1080.9 560.3 1079.6 565.1 1080.3 566.5 1082.1 567.5 1083.1 569.1 1084.0 579.5 1083.1 590.7 1082.1 592.3 1080.3 593.3 1079.6 594.7 1080.9 599.5 1080.2 601.9 1078.7 603.2 1073.1 606.1 1069.1 613.4 1063.4 617.9 1061.1 622.0 1056.3 623.4 1053.1 623.7 1049.9 625.9 1046.7 626.7M1009.8 562.9 1009.8 561.4 1010.6 561.5 1009.8 562.9M1026.7 562.9 1025.9 561.5 1026.7 561.4 1026.7 562.9M1010.6 598.3 1009.8 598.4 1009.8 596.9 1010.6 598.3M1026.7 598.4 1025.8 597.9 1026.7 596.9 1026.7 598.4" stroke="#a1ef00"/><path d="M981.8 621.1 978.6 621.8 976.2 621.0 974.3 617.1 969.8 614.8 967.4 612.6 965.6 609.9 964.0 605.9 957.0 601.9 956.1 599.5 957.5 594.7 957.0 593.0 955.0 591.5 954.1 589.9 953.0 580.3 954.1 569.9 955.0 568.3 957.0 566.8 957.5 565.1 956.2 560.8 956.5 558.7 957.8 557.3 964.0 553.9 965.8 549.6 968.2 546.3 974.3 542.7 976.2 538.8 978.6 538.0 982.1 538.8 984.2 539.8 988.0 545.1 991.8 557.1 993.0 565.1 994.1 566.7 991.2 573.9 992.5 579.5 991.2 585.9 994.1 593.1 993.0 594.7 991.8 602.7 988.3 613.9 984.8 619.5 981.8 621.1M1059.5 621.5 1057.1 621.7 1053.1 620.5 1049.9 617.1 1047.8 613.1 1044.7 602.7 1043.5 594.7 1042.4 593.1 1045.3 585.9 1044.0 580.3 1045.3 573.9 1043.5 568.8 1042.4 567.5 1043.5 565.1 1043.5 562.7 1044.9 556.3 1048.2 545.9 1051.0 541.1 1053.1 539.3 1057.9 538.0 1060.3 538.8 1062.2 542.7 1068.3 546.3 1070.7 549.6 1072.5 553.9 1078.7 557.3 1080.0 558.7 1080.3 560.8 1079.0 565.1 1079.5 566.8 1081.5 568.3 1082.4 569.9 1083.5 579.5 1082.4 589.9 1081.5 591.5 1079.5 593.0 1079.0 594.7 1080.3 599.0 1080.0 601.1 1078.7 602.5 1072.5 605.9 1070.9 609.9 1069.1 612.6 1066.7 614.8 1062.2 617.1 1060.8 620.2 1059.5 621.5" stroke="#00fa00"/><path d="M976.2 614.7 973.0 614.9 969.8 613.7 966.6 610.5 964.2 605.3 957.2 601.1 956.7 599.5 958.0 595.5 957.9 593.9 955.4 590.1 954.4 587.5 953.6 580.3 954.4 572.3 955.4 569.7 957.9 565.9 957.9 563.5 956.8 561.1 957.0 559.0 958.0 557.9 964.8 553.9 966.6 549.3 969.0 546.7 971.4 545.3 973.8 544.9 977.0 545.3 978.6 546.1 979.5 547.5 980.6 553.1 981.8 554.2 985.8 555.7 987.3 557.1 988.0 558.7 987.8 560.3 985.7 564.3 985.4 566.7 987.2 571.5 987.6 573.9 987.6 586.7 985.7 591.5 985.4 593.9 988.0 601.1 987.3 602.7 985.8 604.1 981.0 606.1 980.1 607.5 979.2 613.1 977.8 614.2 976.2 614.7M1064.3 614.7 1060.3 614.7 1057.9 613.7 1057.0 612.3 1055.9 606.7 1054.7 605.6 1050.7 604.1 1049.2 602.7 1048.5 601.1 1048.7 599.5 1050.8 595.5 1051.1 593.1 1049.3 588.3 1048.9 585.9 1048.9 573.1 1050.8 568.3 1051.1 565.9 1048.5 558.7 1049.2 557.1 1050.7 555.7 1054.7 554.2 1055.9 553.1 1057.0 547.5 1057.9 546.1 1059.5 545.3 1062.7 544.9 1065.1 545.3 1067.5 546.7 1069.9 549.3 1071.7 553.9 1078.5 557.9 1079.5 559.0 1079.7 561.1 1078.6 563.5 1078.6 565.9 1081.1 569.7 1082.1 572.3 1082.9 579.5 1082.1 587.5 1081.1 590.1 1078.6 593.9 1078.6 596.3 1079.7 598.7 1079.5 600.8 1078.5 601.9 1072.3 605.3 1069.1 611.5 1066.7 613.7 1064.3 614.7" stroke="#00fa00"/><path d="M974.6 613.1 972.2 613.3 969.9 612.3 967.4 609.7 964.9 605.1 957.8 600.3 958.4 593.9 954.7 585.9 954.3 580.3 954.7 573.9 958.5 565.1 957.8 559.5 964.9 554.7 967.4 550.1 969.8 547.6 973.0 546.4 976.2 547.8 977.1 549.1 977.8 553.1 978.6 554.7 984.0 558.7 984.2 560.3 982.7 567.5 984.7 573.1 985.1 579.5 984.7 586.7 982.7 592.3 984.2 600.4 983.3 601.9 978.6 605.1 977.8 606.7 977.0 610.8 974.6 613.1M1065.1 613.1 1062.7 613.3 1060.6 612.3 1059.4 610.7 1058.7 606.7 1057.9 605.1 1052.5 601.1 1052.3 599.5 1053.8 592.3 1051.8 586.7 1051.4 580.3 1051.8 573.1 1053.8 567.5 1052.3 560.3 1052.5 558.7 1057.9 554.7 1058.7 553.1 1059.4 549.1 1060.3 547.8 1063.5 546.4 1066.7 547.6 1069.1 550.1 1071.6 554.7 1078.7 559.5 1078.1 565.9 1081.8 573.9 1082.2 579.5 1081.8 585.9 1078.0 594.7 1078.7 600.3 1071.6 605.1 1069.1 609.7 1065.1 613.1" stroke="#00fa00"/><path d="M973.0 611.5 970.9 610.7 966.5 605.1 962.6 602.7 959.4 599.9 958.9 593.9 955.5 585.9 955.1 582.7 955.3 574.7 958.7 566.7 959.2 560.3 962.6 557.1 966.5 554.7 970.9 549.1 973.0 548.3 974.8 549.9 974.3 555.5 977.8 557.9 979.4 560.3 982.4 573.1 983.1 579.5 982.4 586.7 979.4 599.5 977.8 601.9 974.3 604.3 974.8 609.9 973.0 611.5M1064.3 611.5 1062.7 611.2 1061.7 609.9 1062.2 604.3 1058.7 601.9 1057.4 600.3 1054.1 586.7 1053.4 580.3 1054.1 573.1 1057.1 560.3 1058.7 557.9 1062.2 555.5 1061.7 549.9 1063.5 548.3 1065.6 549.1 1070.0 554.7 1073.9 557.1 1077.1 559.9 1077.6 565.9 1081.0 573.9 1081.4 577.1 1081.2 585.1 1077.8 593.1 1077.3 599.5 1073.9 602.7 1070.0 605.1 1065.9 610.3 1064.3 611.5" stroke="#00f928"/><path d="M969.0 602.9 967.4 603.2 965.0 602.6 961.0 599.0 955.8 583.5 955.9 575.5 958.6 568.7 960.5 561.9 963.8 557.9 967.4 556.6 973.0 558.5 975.9 560.3 979.2 566.7 980.7 573.1 979.5 579.5 980.7 586.7 979.2 593.1 975.4 600.0 969.0 602.9M1070.7 602.9 1067.5 602.9 1062.7 601.0 1060.6 599.5 1057.3 593.1 1055.8 586.7 1057.0 580.3 1055.8 573.1 1057.3 566.7 1061.1 559.8 1065.9 557.5 1069.1 556.6 1072.3 557.6 1075.5 560.8 1080.7 576.3 1080.6 584.3 1077.9 591.1 1076.3 597.1 1073.9 600.9 1070.7 602.9" stroke="#00f678"/><path d="M968.2 601.1 965.0 600.6 961.0 596.5 956.6 583.5 956.7 575.5 960.5 564.3 961.8 562.1 964.2 559.8 967.4 558.6 971.4 559.6 974.2 561.1 978.4 568.3 979.4 572.3 977.9 579.5 979.4 586.7 978.6 591.0 974.2 598.7 972.2 599.9 968.2 601.1M1069.9 601.2 1065.1 600.2 1062.3 598.7 1058.1 591.5 1057.1 587.5 1058.6 580.3 1057.1 573.1 1058.1 568.3 1062.3 561.1 1065.1 559.6 1069.1 558.6 1072.3 559.8 1075.5 563.3 1079.9 576.3 1079.8 584.3 1076.3 594.8 1073.9 598.5 1071.5 600.6 1069.9 601.2" stroke="#00f3c8"/><path d="M969.0 599.5 965.8 599.4 961.4 595.5 957.6 583.5 958.0 580.3 957.6 575.5 960.9 565.1 964.2 561.5 967.4 560.0 969.8 560.5 972.5 561.9 974.7 565.9 977.4 569.1 978.2 572.3 976.9 579.5 978.1 586.7 977.8 589.9 974.7 593.9 972.5 597.9 969.0 599.5M1069.9 599.7 1066.7 599.3 1064.0 597.9 1061.8 593.9 1059.1 590.7 1058.3 587.5 1059.6 580.3 1058.4 573.1 1058.7 569.9 1061.8 565.9 1064.0 561.9 1066.7 560.5 1069.1 560.0 1072.3 561.5 1075.5 565.0 1078.9 576.3 1078.5 579.5 1078.9 584.3 1075.6 594.7 1073.1 597.6 1069.9 599.7" stroke="#00d1f2"/><path d="M969.8 597.9 966.6 598.4 961.9 594.7 958.6 583.5 958.7 575.5 961.5 565.9 964.2 562.9 967.4 561.3 971.0 562.7 973.5 566.7 976.2 569.6 976.9 571.5 975.9 579.5 976.7 589.1 971.4 596.6 969.8 597.9M1070.7 598.0 1068.3 598.4 1065.5 597.1 1063.0 593.1 1060.3 590.2 1059.6 588.3 1060.6 580.3 1059.8 570.7 1065.5 562.7 1069.1 561.3 1071.5 562.3 1074.7 565.3 1077.9 576.3 1077.8 584.3 1075.3 593.1 1073.9 595.5 1070.7 598.0" stroke="#008ff6"/><path d="M968.2 597.1 965.8 596.7 962.6 593.9 959.7 583.5 959.8 575.5 962.2 566.7 964.2 564.2 967.4 562.6 969.0 563.0 970.5 564.3 972.5 567.5 974.8 569.9 975.6 572.3 974.7 579.5 975.4 588.6 970.5 595.5 968.2 597.1M1069.1 597.2 1067.5 596.8 1066.0 595.5 1064.0 592.3 1061.7 589.9 1060.9 587.5 1061.8 580.3 1060.9 573.1 1061.2 570.7 1066.7 563.5 1069.1 562.6 1071.5 563.6 1073.9 565.9 1076.4 573.9 1076.8 577.1 1076.7 584.3 1074.3 593.1 1072.3 595.6 1069.1 597.2" stroke="#004dfa"/><path d="M968.2 595.5 965.8 595.2 963.4 593.1 961.8 588.3 960.6 581.9 960.8 576.3 963.0 567.5 964.9 565.1 967.4 564.1 969.0 564.8 973.7 570.7 974.3 573.1 973.4 579.5 974.3 585.9 974.1 588.3 968.2 595.5M1069.9 595.6 1068.3 595.5 1067.2 594.7 1065.8 592.3 1062.8 589.1 1062.2 586.7 1063.1 580.3 1062.2 573.9 1062.4 571.5 1067.5 564.8 1069.1 564.1 1071.5 565.1 1073.1 566.7 1074.7 571.5 1075.9 577.9 1075.7 583.5 1073.7 591.5 1072.5 593.9 1069.9 595.6" stroke="#000bfe"/><path d="M967.4 593.2 965.8 593.3 964.2 591.7 961.4 581.1 961.6 577.1 963.4 570.1 965.0 567.1 966.6 566.4 967.5 566.7 968.4 569.1 972.2 571.0 973.1 573.1 972.4 579.5 973.0 587.5 971.4 589.4 968.4 590.7 967.4 593.2M1070.7 593.3 1069.1 593.2 1068.1 590.7 1064.3 588.8 1063.4 586.7 1064.1 580.3 1063.5 572.3 1065.1 570.4 1068.1 569.1 1069.0 566.7 1069.9 566.4 1071.5 567.1 1072.4 568.3 1075.1 578.7 1074.9 582.7 1073.3 589.1 1072.3 591.7 1070.7 593.3" stroke="#3500ff"/></g></g><clipPath id="lbf"><rect x="898.0" y="460.4" width="80" height="39"/></clipPath><rect x="898.0" y="460.4" width="80" height="39" fill="#fff"/><g clip-path="url(#lbf)"><path d="M923.6 459.4V700.4M971.0 459.4V700.4M1018.2 459.4V700.4M1065.5 459.4V700.4M1112.8 459.4V700.4" stroke="#9898f5" stroke-width="1.4" stroke-dasharray="1.8 2.8" fill="none"/><path d="M897.0 674.3H1139.5M897.0 627.1H1139.5M897.0 579.9H1139.5M897.0 532.7H1139.5M897.0 485.5H1139.5" stroke="#babaf8" stroke-width="1.2" stroke-dasharray="1.8 2.8" fill="none"/></g><rect x="897.0" y="459.4" width="242.5" height="241.0" fill="none" stroke="#000" stroke-width="2"/><path d="M923.6 700.4v14M897.0 674.3h-14M971.0 700.4v14M897.0 627.1h-14M1018.2 700.4v14M897.0 579.9h-14M1065.5 700.4v14M897.0 532.7h-14M1112.8 700.4v14M897.0 485.5h-14" stroke="#000" stroke-width="2" fill="none"/><text x="921.5" y="738.1" text-anchor="middle" font-size="18">−4</text><text x="875.0" y="680.8" text-anchor="end" font-size="18">−4</text><text x="968.9" y="738.1" text-anchor="middle" font-size="18">−2</text><text x="875.0" y="633.6" text-anchor="end" font-size="18">−2</text><text x="1018.0" y="738.1" text-anchor="middle" font-size="18">0</text><text x="875.0" y="586.4" text-anchor="end" font-size="18">0</text><text x="1065.3" y="738.1" text-anchor="middle" font-size="18">2</text><text x="875.0" y="539.2" text-anchor="end" font-size="18">2</text><text x="1112.6" y="738.1" text-anchor="middle" font-size="18">4</text><text x="875.0" y="492.0" text-anchor="end" font-size="18">4</text><g transform="translate(1018.25 768.20)"><text x="-96.91" y="0.00" font-size="18.9">momentum</text><text x="3.50" y="0.00" font-size="18.5">(10</text><text x="30.77" y="-12.70" font-size="12">5</text><text x="43.57" y="0.00" font-size="18.5" font-style="italic">u</text><text x="59.22" y="0.00" font-size="18.5">m/s)</text></g><g transform="translate(834.00 578.40) rotate(-90)"><text x="-96.91" y="0.00" font-size="18.9">momentum</text><text x="3.50" y="0.00" font-size="18.5">(10</text><text x="30.77" y="-12.70" font-size="12">5</text><text x="43.57" y="0.00" font-size="18.5" font-style="italic">u</text><text x="59.22" y="0.00" font-size="18.5">m/s)</text></g><text x="904.35" y="493.90" font-size="25">(f) C</text><text x="952.36" y="476.55" font-size="16.5">2+</text><rect x="1147.8" y="465.5" width="6.3" height="70.7" fill="url(#cbg)" stroke="#000" stroke-width="1.5"/><path d="M1154.8 532.8h4.5" stroke="#000" stroke-width="2"/><text x="1167.0" y="539.3" font-size="18">0</text><path d="M1154.8 509.8h4.5" stroke="#000" stroke-width="2"/><text x="1167.0" y="516.3" font-size="18">2</text><path d="M1154.8 486.7h4.5" stroke="#000" stroke-width="2"/><text x="1167.0" y="493.2" font-size="18">4</text><text transform="translate(1154.0 548.9) rotate(90)" font-size="18">×10<tspan font-size="13" dy="-13">−5</tspan></text>
</svg></body></html>
